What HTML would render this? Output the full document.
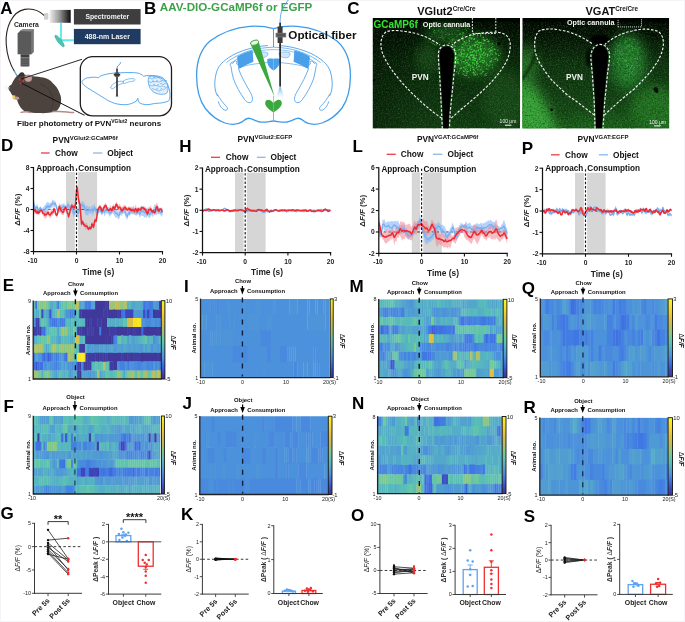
<!DOCTYPE html>
<html><head><meta charset="utf-8"><style>
html,body{margin:0;padding:0;background:#fff;}
body{width:685px;height:622px;overflow:hidden;font-family:"Liberation Sans", sans-serif;}
svg{display:block;will-change:transform;}
</style></head><body>
<svg width="685" height="622" viewBox="0 0 685 622" font-family='"Liberation Sans", sans-serif'>
<defs><linearGradient id="cbar" x1="0" y1="1" x2="0" y2="0">
<stop offset="0" stop-color="rgb(64,52,146)"/>
<stop offset="0.08" stop-color="rgb(62,70,185)"/>
<stop offset="0.15" stop-color="rgb(60,100,222)"/>
<stop offset="0.22" stop-color="rgb(66,126,228)"/>
<stop offset="0.27" stop-color="rgb(76,146,218)"/>
<stop offset="0.33" stop-color="rgb(82,160,208)"/>
<stop offset="0.4" stop-color="rgb(86,184,190)"/>
<stop offset="0.47" stop-color="rgb(98,198,170)"/>
<stop offset="0.55" stop-color="rgb(132,200,135)"/>
<stop offset="0.65" stop-color="rgb(186,190,95)"/>
<stop offset="0.75" stop-color="rgb(226,190,64)"/>
<stop offset="0.87" stop-color="rgb(246,216,44)"/>
<stop offset="1" stop-color="rgb(250,248,26)"/>
</linearGradient><filter id="hblur" filterUnits="userSpaceOnUse" x="0" y="0" width="685" height="622"><feGaussianBlur stdDeviation="0.55 0.2"/></filter></defs>
<rect width="685" height="622" fill="#fff"/>
<rect x="0.5" y="0.5" width="684" height="621" fill="none" stroke="#f5f3f8" stroke-width="1"/>
<path d="M44.4 15.6 C38 9.5 31 8.2 24.5 9.4 C12 11.8 5.2 28 6.2 44 C7 56 11 66 14.8 72" fill="none" stroke="#2b2222" stroke-width="1.1"/>
<path d="M14.3 71 L18 77.5" stroke="#4aaccc" stroke-width="1.3"/>
<defs><linearGradient id="gbox" x1="0" x2="1" y1="0" y2="0"><stop offset="0" stop-color="#eeeeee"/><stop offset="0.45" stop-color="#9a9a9a"/><stop offset="1" stop-color="#0c0c0c"/></linearGradient><linearGradient id="lcone" x1="0" x2="0" y1="0" y2="1"><stop offset="0" stop-color="#3d8de6"/><stop offset="1" stop-color="#d8ecff" stop-opacity="0.2"/></linearGradient></defs>
<rect x="44.1" y="13.1" width="4.2" height="6.5" fill="#cfcfcf" />
<rect x="49.6" y="9.9" width="21.1" height="12.9" fill="url(#gbox)" />
<rect x="73.9" y="9.05" width="66.7" height="15.45" fill="#3e3e3e" />
<rect x="73.9" y="28.9" width="66.7" height="15.3" fill="#1f3b62" />
<text x="107.3" y="19.4" font-size="6.8" font-weight="bold" text-anchor="middle" fill="#f2f2f2" >Spectrometer</text>
<text x="107.3" y="39.1" font-size="7" font-weight="bold" text-anchor="middle" fill="#f2f2f2" >488-nm Laser</text>
<path d="M61 22.8 V40.2 H73.9" fill="none" stroke="#5fe8f2" stroke-width="1.9"/>
<ellipse cx="59.6" cy="41" rx="7.2" ry="1.9" transform="rotate(52 59.6 41)" fill="#4cc6b4" stroke="#2e9a8c" stroke-width="0.5"/>
<text x="26.4" y="27.1" font-size="6.8" font-weight="bold" text-anchor="middle" fill="#2a2424" >Camera</text>
<path d="M20 31 L22.5 29.2 H33.6 V52 L31.5 54.2 H20 Z" fill="#6b6b6b"/>
<path d="M17.6 33.5 L20 31 H31.3 V54.3 H17.6 Z" fill="#5a5a5a"/>
<path d="M20 31 L22.5 29.2 H33.6 L31.3 31.5 Z" fill="#888"/>
<path d="M31.3 31.5 L33.6 29.2 V52 L31.3 54.3 Z" fill="#777"/>
<rect x="20.6" y="54.3" width="8.8" height="3.2" fill="#3e3e3e" />
<rect x="20.6" y="57.5" width="8.8" height="8.9" fill="#555" />
<line x1="20.6" y1="58.6" x2="29.4" y2="58.6" stroke="#777" stroke-width="0.5" />
<line x1="20.6" y1="60.6" x2="29.4" y2="60.6" stroke="#777" stroke-width="0.5" />
<line x1="20.6" y1="62.6" x2="29.4" y2="62.6" stroke="#777" stroke-width="0.5" />
<line x1="20.6" y1="64.6" x2="29.4" y2="64.6" stroke="#777" stroke-width="0.5" />
<rect x="21.5" y="66.2" width="7" height="0.8" fill="#999" />
<path d="M19.7 73.7 C25 74.5 29 75.6 32.9 76.3 C37 76.6 40 77 43.4 77.6 C48 79 51 80.6 52.6 82.9 C56 86 58.2 89 59.1 92 C60.6 95 61.3 97.6 61.1 100 C61 103.5 60.4 106 59.1 107.8 C58 109.8 56.8 111 55.2 111.8 C50 113 45 113.3 39.4 113.1 C34 113 30 112.6 26.3 111.8 C22 110.5 19 106 17.1 100 C15.5 98.5 14.2 97.2 13.1 96 C11.8 94.5 11 93.3 10.5 92 C9.4 90.8 8.6 89.6 8.2 88.3 C8.6 86.5 10 85.5 11.5 84.5 C13.5 80 16 76 19.7 73.7 Z" fill="#4c423e"/>
<path d="M18.8 76.5 C18.6 73.6 20.2 72 22.4 72.2 C24.2 72.4 24.8 74 24.3 76 Z" fill="#3a322f"/>
<ellipse cx="28.2" cy="78.3" rx="3.9" ry="3.7" fill="#b58f8b"/>
<ellipse cx="28.4" cy="78.6" rx="2.6" ry="2.5" fill="#c9a3a0"/>
<path d="M40 84 C47 86 52 92 53 100 C53.5 105 52 108.5 50 110.5" fill="none" stroke="#3e3532" stroke-width="0.9"/>
<path d="M8.3 88.2 C8.8 87.6 9.6 87.6 10 88.2" fill="none" stroke="#c8a8a2" stroke-width="0.9"/>
<path d="M4.6 85 L9.4 87.6 M4.2 87.6 L9.2 88.4 M5 90.4 L9.4 89" stroke="#d8d8d8" stroke-width="0.35"/>
<path d="M12.2 95.2 L15.4 95.4 L15.2 99.4 L12.6 99.2 Z" fill="#f2d065"/>
<ellipse cx="16.8" cy="98.3" rx="2.4" ry="1.7" fill="#c49690"/>
<path d="M53 111.6 C58 111.2 63 111.4 67 111.9 C70 112.3 72 112.5 73.6 112.4" fill="none" stroke="#bb8985" stroke-width="1.5" stroke-linecap="round"/>
<path d="M21 112.3 C24 111.6 28 111.6 31 112.6" fill="none" stroke="#bb8985" stroke-width="1.3" stroke-linecap="round"/>
<circle cx="19.8" cy="79.4" r="1.1" fill="#e83030"/><circle cx="23.2" cy="81.0" r="0.9" fill="#e83030"/><circle cx="20.6" cy="83.3" r="0.9" fill="#e83030"/>
<line x1="20.5" y1="79.2" x2="82" y2="59.3" stroke="#111" stroke-width="0.9" />
<line x1="21.5" y1="83.2" x2="84.5" y2="115.3" stroke="#111" stroke-width="1" />
<rect x="80.3" y="56.7" width="91.2" height="59.2" rx="12.5" fill="#fff" stroke="#1e1e1e" stroke-width="1.3"/>
<path d="M82 81.4 C84 78.6 87 77.4 89.6 77.7 C93 76.8 96 77.2 98.4 77.7 C100 76 102 75.2 104.2 74.8 C108 73.6 112 73.2 115.9 73.1 C122 72.6 128 72.4 133.4 72.6 C137 72.8 139 73.2 140.7 74.1 C142 74.8 143 75.6 143.6 76.3 C145.5 75.7 147.5 75.4 149.5 75.5 C154 75.4 158 75.8 161.1 77 C165 79 167.4 82.5 168.4 86.5 C169.6 90 170.2 93.5 169.9 96.7 C169.8 98.8 169.2 100.2 168.4 101.1 C164 102.8 160 103.2 156.8 103.3 C153 103.6 150.5 104.4 148 104.7 C144 104.6 141 104 139.2 102.6 C138.4 101.4 138 99.8 137.8 98.2 C137.2 99.6 136.8 100.5 136.3 101.1 C133 103.3 130 104.2 126.1 104.7 C122 104.8 118 104.3 114.4 103.3 C110.5 101.8 107 100.2 104.2 98.2 C100 95.5 96 93 92.5 90.9 C89 88.8 86 87 83.8 85 C82.6 83.8 81.8 82.6 82 81.4 Z" fill="none" stroke="#4ea4ee" stroke-width="0.95"/>
<path d="M149 76.5 C155 75.4 162 77.5 166 82 C168.4 86 168.6 90.5 166.6 93.4 C163 95 158 94.6 154 92.4 C151 90.4 149 87 148.4 83 C148 80.5 148.2 78 149 76.5 Z" fill="#e4effb" stroke="#4ea4ee" stroke-width="0.8"/>
<path d="M149 78.5 q1 -1.4 2 0 q1 1.4 2 0 q1 -1.4 2 0 M153 77.6 q1 -1.4 2 0 q1 1.4 2 0 q1 -1.4 2 0 M157.5 78.2 q1 -1.4 2 0 q1 1.4 2 0 q1 -1.4 2 0 M161 80.8 q1 -1.4 2 0 q1 1.4 2 0 q1 -1.4 2 0 M148 82 q1 -1.4 2 0 q1 1.4 2 0 q1 -1.4 2 0 M152 81.4 q1 -1.4 2 0 q1 1.4 2 0 q1 -1.4 2 0 M156 81.6 q1 -1.4 2 0 q1 1.4 2 0 q1 -1.4 2 0 M160 84 q1 -1.4 2 0 q1 1.4 2 0 q1 -1.4 2 0 M163 87 q1 -1.4 2 0 q1 1.4 2 0 q1 -1.4 2 0 M149 85.6 q1 -1.4 2 0 q1 1.4 2 0 q1 -1.4 2 0 M153 85.2 q1 -1.4 2 0 q1 1.4 2 0 q1 -1.4 2 0 M157 86.4 q1 -1.4 2 0 q1 1.4 2 0 q1 -1.4 2 0 M160.5 89.2 q1 -1.4 2 0 q1 1.4 2 0 q1 -1.4 2 0 M152 89.2 q1 -1.4 2 0 q1 1.4 2 0 q1 -1.4 2 0 M156 90.6 q1 -1.4 2 0 q1 1.4 2 0 q1 -1.4 2 0 " fill="none" stroke="#4ea4ee" stroke-width="0.6"/>
<path d="M110.8 87 C112 84 116.5 81.6 121 81.2 C123.5 81 124 82.6 122 83.6 C118.5 84.6 115.5 86.4 113.8 88.2 C112.4 89.4 110.4 88.8 110.8 87 Z" fill="none" stroke="#4ea4ee" stroke-width="0.75"/>
<path d="M123.2 81 C126 79 130.5 78.3 134.2 78.8 C135.6 79.4 135 80.8 133 81.2 C130 81.6 127 82.3 125 83.4 C124 84 122.8 83.6 123.2 82.4 Z" fill="none" stroke="#4ea4ee" stroke-width="0.7"/>
<path d="M113.8 97.8 L117 94 L120.2 97.8 Z" fill="url(#lcone)" opacity="0.8"/>
<line x1="117" y1="68.6" x2="117" y2="96.6" stroke="#1c1c1c" stroke-width="1.5" />
<rect x="114.7" y="72.5" width="4.6" height="4.3" fill="#555" />
<rect x="113.8" y="74" width="6.4" height="1.6" fill="#333" />
<path d="M117 68.6 C117 66 118.5 65.4 119.5 64.6 C120.5 63.6 120.5 62.5 120.3 62" fill="none" stroke="#3a90e0" stroke-width="0.9"/>
<text x="17" y="125.8" font-size="8" font-weight="bold" fill="#111">Fiber photometry of PVN<tspan dy="-3" font-size="5">VGlut2</tspan><tspan dy="3" font-size="8"> neurons</tspan></text>
<text x="159.8" y="11.2" font-size="11.6" font-weight="bold" fill="#3da14b">AAV-DIO-GCaMP6f or EGFP</text>
<g><path d="M273.5 28.6 C266 26.5 258 25.8 250 26.3 C236 27.4 222 32 210 41 C201 49 196.5 62 196.6 76 C196.7 90 200 101 205 108 C210 114.5 218 120.5 225 123 C231 124.8 238 124.6 242.5 121.6 C245 119.5 247 118 249.5 118.3 C253 119 256 121.2 260 122 C264.5 122.6 269 121.4 273.5 121" fill="none" stroke="#3f9be9" stroke-width="1.3"/><path d="M268 45.6 C258 46 246 49 236 53.5 C226 58.5 219 64 216.5 72 C214.5 79 214.3 86 215.5 91 C216.5 94 217 95 217.5 96" fill="none" stroke="#3f9be9" stroke-width="0.85"/><path d="M273.5 47.2 C265 47.4 256 48.8 249 51 C240 54 232 58 226.5 62.5" fill="none" stroke="#3f9be9" stroke-width="0.7"/><path d="M273.5 49.6 C266 49.7 258 50.6 251.5 52.6 C244 55 237 58.5 231 63" fill="none" stroke="#3f9be9" stroke-width="0.6"/><path d="M237.3 56.6 C242 53.8 247.5 51.6 252.6 50.6 L253.4 61.8 C249 63.5 244 66 239.4 68.8 C237.6 65 236.9 60.5 237.3 56.6 Z" fill="#4a9fea"/><path d="M257 53 C260 51.5 265 51.5 268 53 C268.5 55.5 266 57.5 262 57.8 C259 58 256.5 56.5 257 53 Z" fill="#cfe5f9" stroke="#3f9be9" stroke-width="0.5"/><path d="M267.4 59 C270 58.2 272 58.4 273.5 58.8 V70.6 C271.5 69.6 269.5 67.8 268.3 65.6 C267.4 63.6 267 61 267.4 59 Z" fill="#4a9fea"/><path d="M231 66.5 C229 64 230.8 61.8 232.8 63.4 L234.3 61.4 C236 60.3 237.6 62 236.6 64 C238.2 64.6 239.3 66.6 238.6 69 C241 76 245 83 249 90 C252 95 253.6 99 251.6 101.8 C249.6 103.6 246.6 102.5 244.6 99.5 C240 93 236 86 233.5 79 C232.5 75.5 231.6 71 231 66.5 Z" fill="none" stroke="#3f9be9" stroke-width="0.8"/><path d="M238.6 67.5 C245 65.6 252 64.2 258 63.6 C262 63.1 265.5 62.8 267.6 62.4" fill="none" stroke="#3f9be9" stroke-width="0.65"/><path d="M217.2 94 C219.5 98.5 223 103 226.5 106.5 C228.2 108.4 227.6 110.6 225.2 110.2 C222.3 109.6 219.6 105.8 218.2 101.4" fill="none" stroke="#3f9be9" stroke-width="0.8"/><path d="M273.5 28.6 V47" fill="none" stroke="#3f9be9" stroke-width="0.8"/></g>
<g transform="translate(547 0) scale(-1 1)"><path d="M273.5 28.6 C266 26.5 258 25.8 250 26.3 C236 27.4 222 32 210 41 C201 49 196.5 62 196.6 76 C196.7 90 200 101 205 108 C210 114.5 218 120.5 225 123 C231 124.8 238 124.6 242.5 121.6 C245 119.5 247 118 249.5 118.3 C253 119 256 121.2 260 122 C264.5 122.6 269 121.4 273.5 121" fill="none" stroke="#3f9be9" stroke-width="1.3"/><path d="M268 45.6 C258 46 246 49 236 53.5 C226 58.5 219 64 216.5 72 C214.5 79 214.3 86 215.5 91 C216.5 94 217 95 217.5 96" fill="none" stroke="#3f9be9" stroke-width="0.85"/><path d="M273.5 47.2 C265 47.4 256 48.8 249 51 C240 54 232 58 226.5 62.5" fill="none" stroke="#3f9be9" stroke-width="0.7"/><path d="M273.5 49.6 C266 49.7 258 50.6 251.5 52.6 C244 55 237 58.5 231 63" fill="none" stroke="#3f9be9" stroke-width="0.6"/><path d="M237.3 56.6 C242 53.8 247.5 51.6 252.6 50.6 L253.4 61.8 C249 63.5 244 66 239.4 68.8 C237.6 65 236.9 60.5 237.3 56.6 Z" fill="#4a9fea"/><path d="M257 53 C260 51.5 265 51.5 268 53 C268.5 55.5 266 57.5 262 57.8 C259 58 256.5 56.5 257 53 Z" fill="#cfe5f9" stroke="#3f9be9" stroke-width="0.5"/><path d="M267.4 59 C270 58.2 272 58.4 273.5 58.8 V70.6 C271.5 69.6 269.5 67.8 268.3 65.6 C267.4 63.6 267 61 267.4 59 Z" fill="#4a9fea"/><path d="M231 66.5 C229 64 230.8 61.8 232.8 63.4 L234.3 61.4 C236 60.3 237.6 62 236.6 64 C238.2 64.6 239.3 66.6 238.6 69 C241 76 245 83 249 90 C252 95 253.6 99 251.6 101.8 C249.6 103.6 246.6 102.5 244.6 99.5 C240 93 236 86 233.5 79 C232.5 75.5 231.6 71 231 66.5 Z" fill="none" stroke="#3f9be9" stroke-width="0.8"/><path d="M238.6 67.5 C245 65.6 252 64.2 258 63.6 C262 63.1 265.5 62.8 267.6 62.4" fill="none" stroke="#3f9be9" stroke-width="0.65"/><path d="M217.2 94 C219.5 98.5 223 103 226.5 106.5 C228.2 108.4 227.6 110.6 225.2 110.2 C222.3 109.6 219.6 105.8 218.2 101.4" fill="none" stroke="#3f9be9" stroke-width="0.8"/><path d="M273.5 28.6 V47" fill="none" stroke="#3f9be9" stroke-width="0.8"/></g>
<path d="M273.5 96 V122" stroke="#7bbcf2" stroke-width="0.8"/>
<path d="M250.6 44.2 L258.7 41.6 L274.6 97 Z" fill="#3aa83e"/>
<ellipse cx="254.6" cy="42.7" rx="4.3" ry="2.4" transform="rotate(-18 254.6 42.7)" fill="#eaf6ea" stroke="#3aa83e" stroke-width="0.9"/>
<path d="M273.5 103.5 C271 99 265.5 98.5 265.2 103 C265 107 270 110 273.5 112.6 C277 110 282 107 281.8 103 C281.5 98.5 276 99 273.5 103.5 Z" fill="#3aa83e"/>
<path d="M273.5 103 V122" stroke="#6ab4f0" stroke-width="0.8"/>
<path d="M276 97.5 L280.1 85.5 L284.5 97.5 Z" fill="url(#lcone)" opacity="0.85"/>
<path d="M280.1 23 C280.2 16 281 12 283 8 C285 4.5 287 1.8 288.2 0" fill="none" stroke="#4ca2ec" stroke-width="0.9"/>
<line x1="280.1" y1="22.8" x2="280.1" y2="86.5" stroke="#1a1a1a" stroke-width="1.6" />
<rect x="277.6" y="26.5" width="5" height="16.5" fill="#3a3a3a" />
<rect x="275.6" y="32.8" width="10.6" height="4.6" fill="#777" />
<rect x="276.6" y="33.6" width="8.6" height="3" fill="#555" />
<text x="288.3" y="38.9" font-size="11.7" font-weight="bold" text-anchor="start" fill="#111" >Optical fiber</text>
<text x="417.2" y="14.6" font-size="11" font-weight="bold" fill="#111">VGlut2<tspan dy="-4.1" font-size="6.3">Cre/Cre</tspan></text>
<text x="585.5" y="14.6" font-size="11" font-weight="bold" fill="#111">VGAT<tspan dy="-4.1" font-size="6.3">Cre/Cre</tspan></text>
<defs><filter id="bl6" x="-50%" y="-50%" width="200%" height="200%"><feGaussianBlur stdDeviation="6"/></filter><filter id="bl3" x="-50%" y="-50%" width="200%" height="200%"><feGaussianBlur stdDeviation="3"/></filter><filter id="bl1" x="-50%" y="-50%" width="200%" height="200%"><feGaussianBlur stdDeviation="0.9"/></filter><filter id="grain" x="0" y="0" width="1" height="1" filterUnits="objectBoundingBox"><feTurbulence type="fractalNoise" baseFrequency="0.75" numOctaves="2" seed="4"/><feColorMatrix type="matrix" values="0 0 0 0 0.2  0 0 0 0 0.75  0 0 0 0 0.2  3.2 0 0 0 -1.45"/></filter><filter id="grainD" x="0" y="0" width="1" height="1" filterUnits="objectBoundingBox"><feTurbulence type="fractalNoise" baseFrequency="0.6" numOctaves="2" seed="9"/><feColorMatrix type="matrix" values="0 0 0 0 0  0 0 0 0 0.02  0 0 0 0 0  0 3.0 0 0 -1.5"/></filter><linearGradient id="gLv" x1="0" x2="0" y1="0" y2="1"><stop offset="0" stop-color="#010301"/><stop offset="0.15" stop-color="#041004"/><stop offset="0.4" stop-color="#0a240a"/><stop offset="1" stop-color="#123a12"/></linearGradient><linearGradient id="gLh" x1="0" x2="1" y1="0" y2="0"><stop offset="0" stop-color="#000" stop-opacity="0.35"/><stop offset="0.35" stop-color="#000" stop-opacity="0"/></linearGradient><linearGradient id="gRv" x1="0" x2="0" y1="0" y2="1"><stop offset="0" stop-color="#010201"/><stop offset="0.17" stop-color="#041004"/><stop offset="0.4" stop-color="#0e2e0e"/><stop offset="1" stop-color="#184a18"/></linearGradient><clipPath id="clipL"><rect x="372.6" y="17.9" width="147.5" height="110.7"/></clipPath><clipPath id="clipR"><rect x="522.3" y="17.9" width="146.9" height="110.5"/></clipPath></defs>
<g clip-path="url(#clipL)">
<rect x="372.6" y="17.9" width="147.5" height="110.7" fill="url(#gLv)" />
<rect x="372.6" y="17.9" width="147.5" height="110.7" fill="url(#gLh)" />
<ellipse cx="428" cy="58" rx="12" ry="16" fill="#154215" filter="url(#bl6)"/>
<ellipse cx="474" cy="56" rx="26" ry="20" fill="#226e22" filter="url(#bl6)"/>
<ellipse cx="447" cy="33" rx="22" ry="9" fill="#1a501a" filter="url(#bl6)"/>
<ellipse cx="505" cy="100" rx="22" ry="30" fill="#1a501a" opacity="0.7" filter="url(#bl6)"/>
<rect x="372.6" y="22.9" width="147.5" height="105.7" fill="#000" filter="url(#grain)" opacity="0.17"/>
<rect x="372.6" y="17.9" width="147.5" height="110.7" fill="#000" filter="url(#grainD)" opacity="0.5"/>
<path d="M468.38 39.59h0.9v0.9h-0.9zM492.4 46.04h0.9v0.9h-0.9zM485.4 53.57h0.9v0.9h-0.9zM472.96 56.86h1.2v1.2h-1.2zM484.47 54.44h0.9v0.9h-0.9zM481.3 49.46h0.8v0.8h-0.8zM464.73 68.66h1.1v1.1h-1.1zM449.09 58.05h0.9v0.9h-0.9zM471.97 59.53h0.8v0.8h-0.8zM471.23 53.92h1.1v1.1h-1.1zM465.93 61.86h1.1v1.1h-1.1zM472.59 67.37h1v1h-1zM453.89 39.58h0.8v0.8h-0.8zM462.72 48.89h1.1v1.1h-1.1zM464.42 68.29h0.8v0.8h-0.8zM472.83 69.34h1v1h-1zM460.55 56.18h0.9v0.9h-0.9zM471.89 62.09h0.8v0.8h-0.8zM474.11 60.09h1v1h-1zM479.99 42.14h1v1h-1zM468.83 42.9h0.9v0.9h-0.9zM450.64 67.31h0.8v0.8h-0.8zM472.61 59.29h1.3v1.3h-1.3zM452.57 46.46h1v1h-1zM465.74 72.56h0.9v0.9h-0.9zM480.67 56.9h1.1v1.1h-1.1zM486.37 38.82h1.2v1.2h-1.2zM467.64 50.02h1v1h-1zM491.24 47.12h1.1v1.1h-1.1zM472.64 59.76h1.1v1.1h-1.1zM476.87 73.85h0.9v0.9h-0.9zM470.75 55.01h1.2v1.2h-1.2zM448.49 57.32h1.2v1.2h-1.2zM482.69 38.84h1v1h-1zM457.19 61.31h1.3v1.3h-1.3zM477.21 44.05h1v1h-1zM482.53 42.9h1.1v1.1h-1.1zM478.21 41.9h1.1v1.1h-1.1zM461.62 61.24h0.8v0.8h-0.8zM473.93 70.02h0.8v0.8h-0.8zM498.28 54.74h1.2v1.2h-1.2zM467.5 59.4h1.2v1.2h-1.2zM476.19 57.56h0.9v0.9h-0.9zM461.17 53.82h1.1v1.1h-1.1zM485.94 74.89h0.9v0.9h-0.9zM471.61 52.17h0.9v0.9h-0.9zM450.71 57.58h1.3v1.3h-1.3zM466.76 72.85h1v1h-1zM469.76 34.05h0.9v0.9h-0.9zM476.73 60.86h1.2v1.2h-1.2zM469.76 36.66h0.8v0.8h-0.8zM487.95 49.49h0.8v0.8h-0.8zM479.07 58.95h1v1h-1zM487.39 54.59h1.1v1.1h-1.1zM474.99 71.54h1v1h-1zM466.04 74.89h1v1h-1zM462.03 36.3h1v1h-1zM466.35 41.71h1.1v1.1h-1.1zM484.31 60.92h0.9v0.9h-0.9zM486.24 68.4h1.2v1.2h-1.2zM459.85 39.28h0.8v0.8h-0.8zM473.52 63.01h0.8v0.8h-0.8zM469.98 53.57h0.8v0.8h-0.8zM472.2 66.6h1.1v1.1h-1.1zM471.82 54.17h1.1v1.1h-1.1zM469.62 47.08h1.1v1.1h-1.1zM492.12 67.29h1v1h-1zM462.29 55.88h0.9v0.9h-0.9zM489.61 64.67h0.8v0.8h-0.8zM478.96 65.76h1.1v1.1h-1.1zM492.24 51.42h0.9v0.9h-0.9zM487.08 54.08h1v1h-1zM489.2 50.95h1.2v1.2h-1.2zM470.08 65.3h0.8v0.8h-0.8zM446.73 57.29h1.2v1.2h-1.2zM460.47 60.28h0.8v0.8h-0.8zM461.71 34.25h0.9v0.9h-0.9zM475.04 44.59h1.2v1.2h-1.2zM479.34 47.17h1.2v1.2h-1.2zM489.02 48.18h0.9v0.9h-0.9zM448.47 42.79h1.2v1.2h-1.2zM495.58 58.8h0.8v0.8h-0.8zM470.77 55.2h1.1v1.1h-1.1zM490.13 60.88h0.9v0.9h-0.9zM477.11 34.3h1v1h-1zM476.45 41.38h0.9v0.9h-0.9zM459.33 55.43h0.9v0.9h-0.9zM469 56.24h1.1v1.1h-1.1zM453.92 51.53h1.1v1.1h-1.1zM489.72 54.43h0.8v0.8h-0.8zM454.51 52h1v1h-1zM483.33 57.52h1.1v1.1h-1.1zM480.38 69.09h1.1v1.1h-1.1zM479.97 45.75h1.2v1.2h-1.2zM491.82 50.29h0.8v0.8h-0.8zM469.93 58.96h0.8v0.8h-0.8zM453.03 62.08h0.9v0.9h-0.9zM451.76 65.89h1v1h-1zM455.72 59.44h1.2v1.2h-1.2zM470.76 37.57h1.1v1.1h-1.1zM458.01 72.68h1.1v1.1h-1.1zM474.7 51.04h1.1v1.1h-1.1zM482.55 60.08h1v1h-1zM482.09 53.64h0.9v0.9h-0.9zM495.88 43.39h0.9v0.9h-0.9zM491 60.28h1.1v1.1h-1.1zM494.46 58.81h1.2v1.2h-1.2zM484.64 39.82h1.2v1.2h-1.2zM459.23 33.71h1.2v1.2h-1.2zM495.08 52.55h1v1h-1zM474.9 41.64h1.1v1.1h-1.1zM475.73 54.74h1.3v1.3h-1.3zM468.28 77.17h1.1v1.1h-1.1zM465.11 66.48h0.8v0.8h-0.8zM482.51 70.77h1.3v1.3h-1.3zM453.73 42.85h1v1h-1zM495.12 52.9h1.2v1.2h-1.2zM490.93 58.2h0.9v0.9h-0.9zM495.84 53.73h1v1h-1zM482.58 61.94h1.2v1.2h-1.2zM465.55 56.16h1v1h-1zM469.95 54.82h1.3v1.3h-1.3zM461.15 54.26h0.9v0.9h-0.9zM452.93 52.52h1v1h-1zM482.61 36.64h1.3v1.3h-1.3zM463.08 56.31h1.1v1.1h-1.1zM491.95 64.14h0.9v0.9h-0.9zM469.56 46.96h1.2v1.2h-1.2zM463.95 53.38h1.2v1.2h-1.2zM467.39 71.01h1.1v1.1h-1.1zM444.86 57.62h1.1v1.1h-1.1zM483.84 51.5h1v1h-1zM476.74 35.34h1v1h-1zM474.02 64.15h1v1h-1zM481.43 60.53h1v1h-1zM479.42 52.55h0.9v0.9h-0.9zM468.54 48.36h0.8v0.8h-0.8zM480.73 73.24h1.2v1.2h-1.2zM479.15 56.95h0.8v0.8h-0.8zM473.68 57.85h1.3v1.3h-1.3zM488.35 65.31h1.1v1.1h-1.1zM463.28 53.18h1.2v1.2h-1.2zM466.38 68.26h0.8v0.8h-0.8zM486.71 41.05h1v1h-1zM490.29 52.73h1.1v1.1h-1.1zM465.89 39.71h0.9v0.9h-0.9zM474.21 57.44h1.1v1.1h-1.1zM472.25 34.73h1.2v1.2h-1.2zM473.22 54.96h1.2v1.2h-1.2zM483.44 54.63h1.1v1.1h-1.1zM486.3 64.79h1v1h-1zM476.04 64.98h0.9v0.9h-0.9zM466.94 62.39h1.2v1.2h-1.2zM472.22 54.62h1v1h-1zM474.06 45.01h1.2v1.2h-1.2zM460.92 49.59h1.2v1.2h-1.2zM477.47 58.87h1v1h-1zM456.46 61.71h1v1h-1zM489.4 61.22h1.2v1.2h-1.2zM469.92 65.49h0.9v0.9h-0.9zM464.32 74.91h1.2v1.2h-1.2zM474.7 57.87h1.2v1.2h-1.2zM460.8 62.49h0.8v0.8h-0.8zM466.25 70.62h1.1v1.1h-1.1zM482.22 60.32h0.8v0.8h-0.8zM464.93 59.76h1.2v1.2h-1.2zM472.26 45.04h0.9v0.9h-0.9zM446.21 60.6h1.3v1.3h-1.3zM463.38 34.64h1v1h-1zM459.78 54.89h0.8v0.8h-0.8zM491.88 53.82h0.9v0.9h-0.9zM491.37 49.77h1v1h-1zM458.88 70.62h1v1h-1zM473.31 55.88h1.2v1.2h-1.2zM476.5 43.64h1.2v1.2h-1.2zM462.48 39.48h1v1h-1zM467.02 53.49h1.2v1.2h-1.2zM476.18 67.17h1.2v1.2h-1.2zM463.8 41.11h1.2v1.2h-1.2zM476.53 37.14h0.9v0.9h-0.9zM475.74 52.53h1.1v1.1h-1.1zM477.73 49.95h1.2v1.2h-1.2zM480.48 44.6h1.1v1.1h-1.1zM497.23 58.74h1.1v1.1h-1.1zM497.31 49.38h1.1v1.1h-1.1zM493.7 48.54h1.1v1.1h-1.1zM486.14 62.31h0.9v0.9h-0.9zM458.03 49.5h1v1h-1zM473.3 54.51h1.2v1.2h-1.2zM469.67 51.84h1.2v1.2h-1.2zM457.39 62.69h1.3v1.3h-1.3zM451.89 62.49h0.9v0.9h-0.9zM462.55 38.43h1.1v1.1h-1.1zM470.63 55.46h0.8v0.8h-0.8zM462.15 46.72h1.1v1.1h-1.1zM468.04 64.38h1v1h-1zM453.48 44.6h1.2v1.2h-1.2zM451.15 41.39h1v1h-1zM458.28 54.57h1v1h-1zM452.22 49.23h0.9v0.9h-0.9zM462 58.38h0.9v0.9h-0.9zM484.72 54.96h0.9v0.9h-0.9zM485.08 53.51h0.8v0.8h-0.8zM459.17 48.73h1.1v1.1h-1.1zM479.46 54.09h1.2v1.2h-1.2zM483.55 39.48h1.3v1.3h-1.3zM451.75 66.81h0.9v0.9h-0.9zM480.16 49.46h0.9v0.9h-0.9zM473.42 58.06h0.9v0.9h-0.9zM460.12 67.55h0.8v0.8h-0.8zM473.7 49.86h1.2v1.2h-1.2zM466.02 65.71h0.8v0.8h-0.8zM477.01 40.52h1v1h-1zM453.83 68.63h1v1h-1zM444.37 47.99h0.9v0.9h-0.9zM460.85 46.59h0.8v0.8h-0.8zM477.4 44.21h0.8v0.8h-0.8zM482.86 52.29h1.2v1.2h-1.2zM469.25 57.98h1.2v1.2h-1.2zM459.74 68.38h0.9v0.9h-0.9zM466.97 68.9h0.9v0.9h-0.9zM476.09 62.35h1.2v1.2h-1.2zM455.98 71.24h0.9v0.9h-0.9zM470.1 67.74h1v1h-1zM467.66 64.39h1.3v1.3h-1.3zM457.26 58.74h1.2v1.2h-1.2zM489.71 49.62h0.9v0.9h-0.9zM500 53.19h0.8v0.8h-0.8zM476.38 55.25h0.8v0.8h-0.8zM468.4 56.93h1v1h-1zM473.25 35.38h1.1v1.1h-1.1zM468.75 40.71h1.2v1.2h-1.2zM487.13 55.68h1v1h-1zM476.2 41.21h1.2v1.2h-1.2zM487.16 54.61h1.2v1.2h-1.2zM484.97 49.23h0.8v0.8h-0.8zM462.39 43.89h1.1v1.1h-1.1zM483.83 47.98h0.9v0.9h-0.9zM480.2 48.11h1.3v1.3h-1.3zM479.52 54.67h1v1h-1zM477.55 63.01h0.9v0.9h-0.9zM480.8 41.75h1.1v1.1h-1.1zM464.47 42.39h1v1h-1zM485.12 34.5h0.8v0.8h-0.8zM472.51 71.87h1.2v1.2h-1.2zM458.82 54.04h0.8v0.8h-0.8zM456.55 56.47h1v1h-1zM472.16 62.86h1v1h-1zM469.71 54.73h1v1h-1zM465.19 44.28h0.9v0.9h-0.9zM479.98 32.9h1.2v1.2h-1.2zM468.27 56.48h1.1v1.1h-1.1zM477.41 40.51h0.9v0.9h-0.9zM477.34 69.1h0.9v0.9h-0.9zM488 40.39h1.2v1.2h-1.2zM477.17 63.25h1v1h-1zM488.18 41.05h1.2v1.2h-1.2zM470.65 38.69h1.1v1.1h-1.1zM491.64 43.22h1.3v1.3h-1.3zM451.49 56.02h1.1v1.1h-1.1zM454.9 56.59h1.2v1.2h-1.2zM481.33 50.75h0.8v0.8h-0.8zM487.03 53.66h1v1h-1zM456.32 59.65h0.9v0.9h-0.9zM486.94 64.07h0.8v0.8h-0.8zM462.83 70.48h1.2v1.2h-1.2zM495.57 57.5h1v1h-1zM476.13 50.43h1.3v1.3h-1.3zM469.79 69.66h1.1v1.1h-1.1zM473.47 61.7h1v1h-1zM474.55 45.97h0.9v0.9h-0.9zM462.03 43.96h0.9v0.9h-0.9zM467.62 48.13h1.3v1.3h-1.3zM462.54 73.6h1.1v1.1h-1.1zM468.54 63.44h1v1h-1zM471.66 51.3h1.1v1.1h-1.1zM479.78 55.81h1.2v1.2h-1.2zM463.91 70.82h1v1h-1zM447.37 54.2h0.8v0.8h-0.8zM455.31 63.33h0.8v0.8h-0.8zM445.4 50.56h0.9v0.9h-0.9zM475.93 61.27h0.9v0.9h-0.9zM464.64 63.31h1v1h-1zM460.66 67.77h1.2v1.2h-1.2zM471.05 48.82h1.2v1.2h-1.2zM446.88 47.98h1.2v1.2h-1.2zM480.32 36.32h0.8v0.8h-0.8zM497.09 60.02h1.1v1.1h-1.1zM483.7 42.81h0.9v0.9h-0.9zM454.19 48.3h1.2v1.2h-1.2zM480.01 34.36h1.3v1.3h-1.3zM460.42 51.87h1.1v1.1h-1.1zM469.4 45.52h1.2v1.2h-1.2zM481.8 61.67h0.9v0.9h-0.9zM483.94 60.33h1.2v1.2h-1.2zM476.85 46.39h1.3v1.3h-1.3zM485.49 73h1v1h-1zM463.24 61.06h1.3v1.3h-1.3zM494.58 48.99h1.1v1.1h-1.1zM461.25 46.59h0.9v0.9h-0.9zM455.22 50.28h1.1v1.1h-1.1zM478.26 65.68h1v1h-1zM483.49 40.11h1.3v1.3h-1.3zM462.13 38.26h0.8v0.8h-0.8zM470.48 46.41h0.9v0.9h-0.9zM473.44 74.24h1v1h-1zM469.44 57.53h1.2v1.2h-1.2zM448.02 57.48h0.8v0.8h-0.8zM468.58 37.18h1.3v1.3h-1.3zM446.38 57.95h0.9v0.9h-0.9zM468.11 56.47h1.1v1.1h-1.1zM466.51 54.22h1.2v1.2h-1.2zM473.45 68.97h1v1h-1zM466.11 55.79h1.1v1.1h-1.1zM473.25 69.05h1.1v1.1h-1.1zM480.65 50.14h1.1v1.1h-1.1zM466.95 54.38h1v1h-1zM471.92 37.39h1v1h-1zM461 53.78h1.1v1.1h-1.1zM463.51 50.05h1.2v1.2h-1.2zM478.84 42.3h1.2v1.2h-1.2zM463.02 66.68h1.2v1.2h-1.2zM469.12 37.42h1.1v1.1h-1.1zM484.4 74.3h1.3v1.3h-1.3zM478.13 49.33h1.1v1.1h-1.1zM473.78 38.1h1.3v1.3h-1.3zM473.52 72.57h1.1v1.1h-1.1zM479.87 61.33h1v1h-1zM481.91 71.84h0.9v0.9h-0.9zM461.34 53.03h1.2v1.2h-1.2zM489.51 43.4h0.9v0.9h-0.9zM472.64 50.91h1v1h-1zM451.49 62.61h1.3v1.3h-1.3zM462.6 32.28h0.9v0.9h-0.9zM460.59 54.16h1.3v1.3h-1.3zM474.67 74.31h1.2v1.2h-1.2zM475.32 74.42h0.9v0.9h-0.9zM473.23 38.92h1.2v1.2h-1.2zM479.26 58.16h1.1v1.1h-1.1zM470.68 48.76h1.2v1.2h-1.2zM491.97 64.41h0.8v0.8h-0.8zM462.42 47.4h0.9v0.9h-0.9zM471.87 56.89h1v1h-1zM466.71 45.25h0.9v0.9h-0.9zM454.54 45.94h1.1v1.1h-1.1zM473.84 44.25h0.9v0.9h-0.9zM455 58.12h1.2v1.2h-1.2zM463.6 45.18h0.8v0.8h-0.8zM475.21 59.51h0.9v0.9h-0.9zM482.92 53.11h0.9v0.9h-0.9zM481.65 54.29h1.2v1.2h-1.2zM473.79 44.84h0.9v0.9h-0.9zM453.2 58.42h1.3v1.3h-1.3zM455.74 62.43h1v1h-1zM453.92 61.71h1.2v1.2h-1.2zM451.94 39.6h1.1v1.1h-1.1zM469.05 64.33h0.8v0.8h-0.8zM490.19 49.93h1.3v1.3h-1.3zM450.78 54.53h1.2v1.2h-1.2zM449.55 67.64h1.2v1.2h-1.2z" fill="#4cf04c" fill-opacity="0.75"/>
<path d="M448.83 38.53h0.9v0.9h-0.9zM435.88 35.69h0.7v0.7h-0.7zM455.42 33.97h0.9v0.9h-0.9zM455.6 38.74h0.8v0.8h-0.8zM431.75 40.31h0.9v0.9h-0.9zM469.22 39.74h0.9v0.9h-0.9zM444.93 28.7h0.8v0.8h-0.8zM441.07 30.31h0.8v0.8h-0.8zM458.83 41.5h1v1h-1zM459.37 26.44h0.8v0.8h-0.8zM442.87 38.71h0.8v0.8h-0.8zM449.34 34.15h0.9v0.9h-0.9zM453.59 25.37h0.8v0.8h-0.8zM465.7 25.86h0.8v0.8h-0.8zM441.27 35.19h0.8v0.8h-0.8zM442.04 37.48h1v1h-1zM436 44.22h1v1h-1zM457.1 35.45h0.7v0.7h-0.7zM433.42 31.81h0.9v0.9h-0.9zM445.37 26.52h0.8v0.8h-0.8zM469.09 39.99h0.9v0.9h-0.9zM434.11 44.01h1.1v1.1h-1.1zM465.2 42.68h1.1v1.1h-1.1zM450.13 40.6h0.8v0.8h-0.8zM430.81 26.39h0.9v0.9h-0.9zM430.25 36.24h0.8v0.8h-0.8zM439.81 36.92h1.1v1.1h-1.1zM443.84 40.21h0.8v0.8h-0.8zM456.17 36.17h0.8v0.8h-0.8zM438.43 36.91h0.9v0.9h-0.9zM432.41 43.04h1.1v1.1h-1.1zM448.46 25.33h1v1h-1zM450.77 39.16h0.9v0.9h-0.9zM430.83 42.06h0.9v0.9h-0.9zM430.28 26.27h0.9v0.9h-0.9zM462.68 33.32h0.7v0.7h-0.7zM433.24 31.16h0.8v0.8h-0.8zM458.57 27.7h0.8v0.8h-0.8zM466.03 30.07h0.9v0.9h-0.9zM457.39 30.36h1v1h-1zM467.65 27.89h1.1v1.1h-1.1zM433.95 29.84h1.1v1.1h-1.1zM451.2 26.58h0.8v0.8h-0.8zM462.78 32.23h1v1h-1zM434.52 32.03h0.7v0.7h-0.7zM431.41 36.17h0.8v0.8h-0.8zM452.47 38.35h1v1h-1zM430.08 26.57h0.9v0.9h-0.9zM448.63 25.72h0.7v0.7h-0.7zM438.11 30.33h0.9v0.9h-0.9zM459.77 32.93h1.1v1.1h-1.1zM448.36 34.24h1v1h-1zM451.95 33.44h1.1v1.1h-1.1zM469.17 34.44h0.9v0.9h-0.9zM457.94 25.91h0.8v0.8h-0.8zM441.45 31.4h0.8v0.8h-0.8zM445.56 33.96h1v1h-1zM436.99 38.95h0.8v0.8h-0.8zM465.21 27.85h1v1h-1zM462.71 42.41h1.1v1.1h-1.1z" fill="#44dd44" fill-opacity="0.55"/>
<circle cx="499" cy="43.5" r="1.8" fill="#020802"/>
<circle cx="374" cy="80" r="1.2" fill="#020802"/>
<path d="M443.4 128.6 L442.8 112 L441.4 83 C440.8 70 439.6 60 440 53 C441 48.5 443.5 46.5 446.6 46.5 C450 46.5 453 49 454 53.5 C454.6 60 452.6 70 451.8 83 L449 112 L448.5 128.6 Z" fill="#000"/>
</g>
<path d="M442.3 128.6 L441.6 112.3 L440.1 83.4 C439.5 70 438 60 438.6 52 C440 47 443 45 446.6 45 C450.5 45 454.5 48 455.6 53 C456.4 60 454 70 453.1 83.4 L450.2 112.3 L449.5 128.6" fill="none" stroke="#f0f0f0" stroke-width="1.15" stroke-dasharray="2.6 1.6"/>
<path d="M441.6 118.2 C430 110 415 98 398.3 78.3 C390 68 384.5 60 381.5 50 C380 42 381.5 35 386 32 C392 29 405 31 416 33.5 C425 36 433 40 440 45" fill="none" stroke="#f0f0f0" stroke-width="1.15" stroke-dasharray="2.6 1.6"/>
<path d="M451.3 118.2 C460 110 470 102 477.1 95.8 C488 86 498 76 505 64 C509 57 511 49 510 42 C508.5 35 503 32.5 497 32.3 C488 32 478 32.8 468 36 C461 38.5 456 41.5 452 45" fill="none" stroke="#f0f0f0" stroke-width="1.15" stroke-dasharray="2.6 1.6"/>
<path d="M472.4 17.9 V33.4 H495.8 V17.9" fill="none" stroke="#eee" stroke-width="1" stroke-dasharray="1.8 1.3"/>
<text x="373.4" y="28.1" font-size="10" font-weight="bold" text-anchor="start" fill="#33e433" >GCaMP6f</text>
<text x="422.8" y="27.3" font-size="7.2" font-weight="bold" text-anchor="start" fill="#f4f4f4" >Optic cannula</text>
<text x="420.2" y="79.6" font-size="8.2" font-weight="bold" text-anchor="middle" fill="#f4f4f4" >PVN</text>
<text x="508" y="123" font-size="5" text-anchor="middle" fill="#eee" >100 &#956;m</text>
<line x1="505" y1="125.2" x2="511.5" y2="125.2" stroke="#fff" stroke-width="1" />
<g clip-path="url(#clipR)">
<rect x="522.3" y="17.9" width="146.9" height="110.5" fill="url(#gRv)" />
<path d="M515 70 C528 74 538 90 548 108 C552 116 556 124 560 135 L515 135 Z" fill="#37a137" filter="url(#bl6)"/>
<ellipse cx="628" cy="62" rx="18" ry="28" fill="#24762a" filter="url(#bl6)"/>
<ellipse cx="527" cy="66" rx="9" ry="20" fill="#256e25" filter="url(#bl6)"/>
<ellipse cx="655" cy="110" rx="25" ry="25" fill="#267a26" opacity="0.8" filter="url(#bl6)"/>
<ellipse cx="600" cy="125" rx="40" ry="10" fill="#1f661f" opacity="0.7" filter="url(#bl6)"/>
<rect x="522.3" y="22.9" width="146.9" height="105.5" fill="#000" filter="url(#grain)" opacity="0.2"/>
<rect x="522.3" y="17.9" width="146.9" height="110.5" fill="#000" filter="url(#grainD)" opacity="0.5"/>
<path d="M640.52 59.7h0.8v0.8h-0.8zM613.04 63.04h1.1v1.1h-1.1zM622.13 57.84h1.1v1.1h-1.1zM635.68 64.95h0.8v0.8h-0.8zM621.49 54.65h0.7v0.7h-0.7zM629.7 59.44h1.1v1.1h-1.1zM629.14 68.9h1v1h-1zM620.27 39.7h0.8v0.8h-0.8zM626.48 53.79h0.9v0.9h-0.9zM629.04 70.7h0.9v0.9h-0.9zM618.26 70.54h0.8v0.8h-0.8zM629.15 73.51h1v1h-1zM631.86 46.11h0.7v0.7h-0.7zM617.08 61.99h1.1v1.1h-1.1zM625.64 56.74h0.9v0.9h-0.9zM627.41 45.41h1v1h-1zM629.19 45.05h0.7v0.7h-0.7zM624.6 59.59h0.7v0.7h-0.7zM623.69 79.18h0.8v0.8h-0.8zM618.06 59.86h0.8v0.8h-0.8zM624.01 41.94h0.9v0.9h-0.9zM629.66 38.32h0.9v0.9h-0.9zM623.76 59.41h0.8v0.8h-0.8zM635.78 46.4h0.8v0.8h-0.8zM634.97 56.24h0.8v0.8h-0.8zM638.77 47.34h0.9v0.9h-0.9zM632.2 71.01h1v1h-1zM627.43 70.42h1.1v1.1h-1.1zM621.89 75.87h1v1h-1zM618.31 44.85h0.9v0.9h-0.9zM642.53 66.88h0.9v0.9h-0.9zM626.16 60.84h0.8v0.8h-0.8zM628.5 75.93h1v1h-1zM622.54 53.47h1.1v1.1h-1.1zM637.27 49.54h1.1v1.1h-1.1zM619.26 52.84h1.1v1.1h-1.1zM617.6 46.06h0.8v0.8h-0.8zM627.41 64.77h1v1h-1zM618.72 64.35h0.8v0.8h-0.8zM627.38 43.39h0.7v0.7h-0.7zM620.43 50.91h1.1v1.1h-1.1zM642.92 67.61h0.7v0.7h-0.7zM622.08 36.04h1v1h-1zM639.44 57.7h1v1h-1zM633.11 68.36h1.1v1.1h-1.1zM622.8 61.79h0.9v0.9h-0.9zM630.25 58.7h0.9v0.9h-0.9zM630.51 61.6h0.9v0.9h-0.9zM624.45 48.13h0.7v0.7h-0.7zM614.64 54.61h1v1h-1zM632.45 53.92h0.8v0.8h-0.8zM637.88 54.23h0.8v0.8h-0.8zM638.91 64.72h1v1h-1zM628.56 44.97h0.8v0.8h-0.8zM633.94 48.34h1v1h-1zM626.17 69.26h0.8v0.8h-0.8zM629.99 67.12h1.1v1.1h-1.1zM624.32 60.69h0.8v0.8h-0.8zM627.97 62.65h1v1h-1zM631.98 47.63h1v1h-1zM625.71 40.19h1v1h-1zM633.14 38.76h0.9v0.9h-0.9zM618.27 55.03h0.7v0.7h-0.7zM617.39 49.17h0.8v0.8h-0.8zM617.4 49.49h0.9v0.9h-0.9zM613.77 48.77h0.8v0.8h-0.8zM631.08 72.15h1.1v1.1h-1.1zM623.21 53.15h0.8v0.8h-0.8zM634.64 61.34h0.8v0.8h-0.8zM627.37 37.94h0.9v0.9h-0.9zM625.5 64.11h1.1v1.1h-1.1zM616.03 42.93h0.9v0.9h-0.9zM634.27 67.26h0.7v0.7h-0.7zM631.13 45.86h0.8v0.8h-0.8zM615.12 47.92h0.9v0.9h-0.9zM636.96 58.93h1v1h-1zM619.61 58.12h0.8v0.8h-0.8zM632.06 74.29h0.8v0.8h-0.8zM640.8 72.35h1v1h-1zM632.31 64.5h1v1h-1zM636.94 43.32h1v1h-1zM631.6 64.99h1v1h-1zM618.78 50.54h1v1h-1zM615.04 50.97h0.8v0.8h-0.8zM614.88 42.68h0.7v0.7h-0.7zM621.49 68.82h1v1h-1zM634.12 39.24h1v1h-1zM619.97 53.38h0.8v0.8h-0.8zM627.63 50.7h1v1h-1zM627.47 46.16h0.8v0.8h-0.8zM621.86 60.96h0.8v0.8h-0.8zM635.06 57.99h1v1h-1zM637.75 51h0.7v0.7h-0.7zM613.5 64.64h0.7v0.7h-0.7zM617.18 58.46h1v1h-1zM629.65 50.25h1v1h-1zM614.97 51.66h0.8v0.8h-0.8zM626.58 65.79h1.1v1.1h-1.1zM639.39 56.74h0.8v0.8h-0.8zM625.11 59.82h1v1h-1zM632.4 74.77h1v1h-1zM612.94 54.11h0.7v0.7h-0.7zM636.24 62.55h0.9v0.9h-0.9zM631.01 65.55h1.1v1.1h-1.1zM637.42 52.64h0.9v0.9h-0.9zM626.23 79.37h0.9v0.9h-0.9zM618.57 57.48h1v1h-1zM629.07 38.69h1.1v1.1h-1.1zM632.3 50.12h0.9v0.9h-0.9zM616.77 50.68h1v1h-1zM637.43 42.7h0.7v0.7h-0.7zM634.05 67.08h0.8v0.8h-0.8zM631.43 58.43h1v1h-1zM629.62 68.14h0.8v0.8h-0.8zM619.46 42.73h0.8v0.8h-0.8zM636.64 58.75h0.9v0.9h-0.9zM625.38 40.59h0.8v0.8h-0.8zM625.55 74.77h1v1h-1zM626.12 59.91h1v1h-1zM639.89 65.87h0.8v0.8h-0.8z" fill="#50e050" fill-opacity="0.55"/>
<path d="M522.6 79 C526 74 530 68 533 61 C535 56 536.5 52 537.6 49.5" fill="none" stroke="#051205" stroke-width="1.8" filter="url(#bl1)"/>
<ellipse cx="656" cy="90" rx="2" ry="3" fill="#061006" transform="rotate(-30 656 90)"/>
<circle cx="551.6" cy="109.8" r="1.4" fill="#020602"/>
<path d="M596 128.4 L595.2 102 L593.8 78 C593 68 592 60 592.4 54.5 C593.5 49 596.5 46 600.3 46 C604 46 607 49 608 54.5 C608.4 60 606.8 68 606 78 L603.6 102 L602 128.4 Z" fill="#000"/>
<ellipse cx="600" cy="40" rx="10" ry="5.5" fill="#000" filter="url(#bl1)"/>
<ellipse cx="588.6" cy="58" rx="2.4" ry="10" fill="#030803" filter="url(#bl1)"/>
</g>
<path d="M595 128.4 L594.2 102.2 L592.6 78.2 C592 68 590.5 60 591 54 C592.5 47.5 596 44.4 600.3 44.4 C604.5 44.4 608.5 47.5 609.5 54.1 C610 60 608 68 607.1 78.2 L604.7 102.2 L603 128.4" fill="none" stroke="#f0f0f0" stroke-width="1.15" stroke-dasharray="2.6 1.6"/>
<path d="M594.4 115.1 C585 108 575 100 568.2 95.8 C560 88 553 82 548.5 76.1 C541 66 536 58 535 50 C534 42 535 36 538.6 31.2 C544 28.5 552 28.4 560 30 C572 32 583 37 593 44.4" fill="none" stroke="#f0f0f0" stroke-width="1.15" stroke-dasharray="2.6 1.6"/>
<path d="M604.3 115.1 C612 108 620 100 633.9 89.3 C643 80 650 73 653.6 67.4 C659 60 663 52 663.4 44 C663.5 36 660 31.5 655.8 30.6 C648 28.5 640 28.6 632 31 C622 33 612 38 605 44.4" fill="none" stroke="#f0f0f0" stroke-width="1.15" stroke-dasharray="2.6 1.6"/>
<path d="M618.1 26.9 V18.9 M618.1 26.9 H641.5 V18.9" fill="none" stroke="#eee" stroke-width="0.9" stroke-dasharray="1 1"/>
<text x="567" y="25.2" font-size="7.2" font-weight="bold" text-anchor="start" fill="#f4f4f4" >Optic cannula</text>
<text x="574.5" y="79.6" font-size="8.2" font-weight="bold" text-anchor="middle" fill="#f4f4f4" >PVN</text>
<text x="657.6" y="123.6" font-size="5" text-anchor="middle" fill="#eee" >100 &#956;m</text>
<line x1="654" y1="125.9" x2="660.6" y2="125.9" stroke="#fff" stroke-width="1" />
<rect x="66.01" y="172.1" width="8.89" height="79.4" fill="#d6d6d6" />
<rect x="78.1" y="172.1" width="19" height="79.4" fill="#d6d6d6" />
<line x1="33.5" y1="209.5" x2="162.5" y2="209.5" stroke="#222" stroke-width="0.9" stroke-dasharray="2.6 2.2" />
<clipPath id="cD"><rect x="33.5" y="163.5" width="131" height="88"/></clipPath>
<g clip-path="url(#cD)">
<polygon points="33.5,198.75 34.04,200.75 34.58,201.96 35.12,205.94 35.66,206 36.2,205.26 36.74,204.52 37.28,203.87 37.82,207.17 38.36,206.73 38.9,208.72 39.44,206.74 39.98,206.9 40.52,206.01 41.06,208.07 41.6,208.63 42.14,208.71 42.68,207.57 43.22,207.28 43.76,206.89 44.29,205.43 44.83,205.46 45.37,204.5 45.91,204.01 46.45,202.26 46.99,202.99 47.53,201.52 48.07,202.29 48.61,202.02 49.15,203.81 49.69,202.78 50.23,202.96 50.77,202.24 51.31,202.51 51.85,201.27 52.39,199.39 52.93,199.83 53.47,199.89 54.01,200.54 54.55,201.32 55.09,200.36 55.63,202.18 56.17,202.8 56.71,206 57.25,207.71 57.79,206.51 58.33,206.25 58.87,205.12 59.41,204.67 59.95,205.25 60.49,204.65 61.03,205.12 61.57,203.57 62.11,203.79 62.65,204.8 63.19,203.34 63.73,203.45 64.27,203.23 64.81,204.55 65.35,205.55 65.88,205.59 66.42,205.66 66.96,203.9 67.5,201.72 68.04,201.33 68.58,202.32 69.12,204.1 69.66,204.5 70.2,204.74 70.74,205.28 71.28,203.97 71.82,204.63 72.36,204.28 72.9,207.25 73.44,208.94 73.98,210.22 74.52,210.24 75.06,208.02 75.6,208.08 76.14,206.94 76.68,206.82 77.22,207.73 77.76,208.79 78.3,209.28 78.84,206.83 79.38,207.07 79.92,204.26 80.46,203.32 81,201.3 81.54,202.19 82.08,201.03 82.62,201.35 83.16,201.19 83.7,203.07 84.24,202.83 84.78,203.56 85.32,205.26 85.86,206.03 86.4,206.12 86.94,205.36 87.47,205.56 88.01,205.69 88.55,206.72 89.09,206.19 89.63,206.75 90.17,207.21 90.71,207.17 91.25,206.8 91.79,205.49 92.33,204.48 92.87,206.42 93.41,204.68 93.95,205.77 94.49,203.53 95.03,205.31 95.57,207.1 96.11,208.38 96.65,207.32 97.19,207.87 97.73,209.85 98.27,210.35 98.81,209.99 99.35,206.62 99.89,207.51 100.43,206.67 100.97,209.26 101.51,210.23 102.05,210.65 102.59,208.78 103.13,207.49 103.67,206.99 104.21,208.33 104.75,207.7 105.29,206.77 105.83,206.14 106.37,207.21 106.91,207.26 107.45,207.48 107.99,207.17 108.53,206.64 109.06,207.9 109.6,209.35 110.14,210.28 110.68,209.07 111.22,209.44 111.76,208.94 112.3,208.92 112.84,206.81 113.38,206.95 113.92,206.82 114.46,206.56 115,207.94 115.54,208.71 116.08,208.68 116.62,209.25 117.16,209.14 117.7,210.92 118.24,210.83 118.78,212.31 119.32,211.2 119.86,209.64 120.4,208.22 120.94,208.98 121.48,208.29 122.02,207.99 122.56,206.81 123.1,207.2 123.64,207.35 124.18,207.4 124.72,208.24 125.26,209.27 125.8,210.53 126.34,211.1 126.88,211.98 127.42,213.86 127.96,211.4 128.5,210.34 129.04,209.91 129.58,211.07 130.12,208.34 130.65,206.24 131.19,205.97 131.73,207.93 132.27,208.33 132.81,207.75 133.35,207.41 133.89,208.02 134.43,208.45 134.97,207.99 135.51,208.41 136.05,210 136.59,210.9 137.13,211.15 137.67,209.49 138.21,210.26 138.75,209.39 139.29,210.19 139.83,210.33 140.37,207.55 140.91,206.45 141.45,205.26 141.99,207.35 142.53,205.92 143.07,205.8 143.61,206.47 144.15,207.52 144.69,207.91 145.23,207.42 145.77,208.5 146.31,208.16 146.85,207.96 147.39,208.16 147.93,207.09 148.47,208.41 149.01,209.32 149.55,210.93 150.09,210.73 150.63,208.68 151.17,209.2 151.71,208.73 152.24,209.99 152.78,209.14 153.32,208.64 153.86,205.97 154.4,204.59 154.94,204.68 155.48,204.3 156.02,206.16 156.56,204.7 157.1,205.49 157.64,204.88 158.18,205.93 158.72,207 159.26,208.12 159.8,207.99 160.34,210.06 160.88,209.49 161.42,209.31 161.96,207.94 162.5,208.88 162.5,216.77 161.96,215.61 161.42,216.9 160.88,215.66 160.34,214.77 159.8,213.34 159.26,214.78 158.72,214.4 158.18,213.62 157.64,212.86 157.1,215.15 156.56,214.44 156.02,215.15 155.48,214.41 154.94,214.48 154.4,214.5 153.86,214.06 153.32,216.59 152.78,216.53 152.24,216.88 151.71,215.21 151.17,215.31 150.63,216.73 150.09,217.01 149.55,218.19 149.01,218.58 148.47,217.57 147.93,216.29 147.39,216.07 146.85,217.88 146.31,218.01 145.77,216.54 145.23,217.56 144.69,217.98 144.15,217.1 143.61,216.42 143.07,215.97 142.53,215.65 141.99,216.3 141.45,214.97 140.91,216.14 140.37,216.6 139.83,217.87 139.29,217.02 138.75,214.14 138.21,214.06 137.67,214.9 137.13,215.33 136.59,215.6 136.05,215.42 135.51,215.47 134.97,215.12 134.43,214.53 133.89,213.82 133.35,213.86 132.81,214.61 132.27,214.8 131.73,214.58 131.19,213.19 130.65,213.9 130.12,215.02 129.58,217.33 129.04,215.25 128.5,214.87 127.96,216.7 127.42,219.52 126.88,219.62 126.34,218.98 125.8,217.55 125.26,216.28 124.72,213.81 124.18,213.97 123.64,213.33 123.1,213.31 122.56,214.28 122.02,215.91 121.48,215.45 120.94,215.14 120.4,214.8 119.86,216.76 119.32,218.4 118.78,219.37 118.24,219.15 117.7,218.92 117.16,217.57 116.62,217.36 116.08,217.42 115.54,218.26 115,216.92 114.46,215.65 113.92,214.8 113.38,213.81 112.84,213.28 112.3,213.17 111.76,214.45 111.22,214.42 110.68,214.7 110.14,216.66 109.6,216.19 109.06,216.73 108.53,214.15 107.99,214.16 107.45,213.44 106.91,213.89 106.37,213.44 105.83,213.04 105.29,214.84 104.75,215.93 104.21,216.45 103.67,213.28 103.13,213.27 102.59,214.42 102.05,215.32 101.51,215.23 100.97,214.6 100.43,212.99 99.89,211.64 99.35,210.91 98.81,213.96 98.27,214.72 97.73,214.64 97.19,212.68 96.65,213.24 96.11,213.19 95.57,213.37 95.03,211.97 94.49,211.04 93.95,212.81 93.41,214.44 92.87,216.39 92.33,213.69 91.79,213.7 91.25,212.44 90.71,214.82 90.17,213.5 89.63,212.96 89.09,213.18 88.55,214.22 88.01,215.9 87.47,214.99 86.94,214.86 86.4,215.34 85.86,215.09 85.32,215 84.78,212.11 84.24,209.82 83.7,209.55 83.16,209.34 82.62,209.89 82.08,208.34 81.54,209.03 81,208.52 80.46,210.5 79.92,211.1 79.38,212.58 78.84,214.77 78.3,217.42 77.76,217.9 77.22,217.11 76.68,214.9 76.14,215.08 75.6,214.13 75.06,214.75 74.52,215.49 73.98,217.35 73.44,216.73 72.9,214.91 72.36,212.93 71.82,211.17 71.28,210.95 70.74,210.12 70.2,209.57 69.66,210.03 69.12,209.89 68.58,209.23 68.04,208.4 67.5,208.67 66.96,211.35 66.42,213.28 65.88,212.73 65.35,211.27 64.81,211.22 64.27,210.62 63.73,209.36 63.19,208.6 62.65,209.64 62.11,210.49 61.57,211.26 61.03,211.87 60.49,212.67 59.95,212.65 59.41,212.32 58.87,211.88 58.33,211.31 57.79,212.81 57.25,212.41 56.71,211.01 56.17,208.42 55.63,206.79 55.09,206.24 54.55,206.9 54.01,206.97 53.47,206.4 52.93,205.55 52.39,207.6 51.85,208.38 51.31,207.81 50.77,207.6 50.23,209.65 49.69,210.69 49.15,210.8 48.61,209.6 48.07,211.36 47.53,210.36 46.99,211.7 46.45,210.78 45.91,212.37 45.37,213.02 44.83,213.12 44.29,214.3 43.76,213.75 43.22,213.49 42.68,212.78 42.14,212.52 41.6,211.48 41.06,210.83 40.52,209.24 39.98,210.46 39.44,210.97 38.9,213.95 38.36,212.96 37.82,212 37.28,209.97 36.74,209.47 36.2,209.96 35.66,210.97 35.12,211.95 34.58,210.55 34.04,208.86 33.5,207.05" fill="#82b6f6" fill-opacity="0.6"/>
<polygon points="33.5,205.63 34.04,208.05 34.58,207.32 35.12,207.6 35.66,206.79 36.2,209.94 36.74,209.66 37.28,210.68 37.82,209.08 38.36,211.05 38.9,210.89 39.44,210.49 39.98,209.25 40.52,208.94 41.06,208.27 41.6,207.86 42.14,208.9 42.68,210.47 43.22,210.43 43.76,209.82 44.29,210.43 44.83,211.34 45.37,210.96 45.91,210.71 46.45,211.27 46.99,211.03 47.53,210.27 48.07,210.13 48.61,211.22 49.15,212.01 49.69,211.92 50.23,211.91 50.77,210.53 51.31,209.47 51.85,209.12 52.39,209.5 52.93,209.52 53.47,208.46 54.01,205.97 54.55,207.11 55.09,208.87 55.63,211.4 56.17,212.64 56.71,213 57.25,212.17 57.79,209.92 58.33,206.94 58.87,205.56 59.41,202.73 59.95,203.87 60.49,204.67 61.03,206.6 61.57,207.45 62.11,208.37 62.65,210.06 63.19,209.29 63.73,208.81 64.27,206.02 64.81,206.13 65.35,205.08 65.88,205.27 66.42,208.19 66.96,209.51 67.5,211.71 68.04,211.92 68.58,215.29 69.12,212.91 69.66,210.93 70.2,208.57 70.74,206.78 71.28,205.3 71.82,202.37 72.36,204.54 72.9,203.93 73.44,205.21 73.98,203.14 74.52,204.7 75.06,203.52 75.6,199.54 76.14,191.43 76.68,184.03 77.22,183.25 77.76,188.26 78.3,194.99 78.84,197.21 79.38,199.96 79.92,200.73 80.46,208.19 81,214.26 81.54,220.55 82.08,219.5 82.62,218.51 83.16,221.1 83.7,222.28 84.24,223.04 84.78,222.47 85.32,223.09 85.86,223.46 86.4,222.87 86.94,223.04 87.47,224.44 88.01,226.67 88.55,227.68 89.09,226.26 89.63,225.62 90.17,226.54 90.71,226.71 91.25,225.56 91.79,221.51 92.33,222.25 92.87,222.38 93.41,224.9 93.95,222.72 94.49,219.12 95.03,217.52 95.57,218.38 96.11,219.3 96.65,216.11 97.19,211.38 97.73,208.43 98.27,206.56 98.81,205.39 99.35,204.72 99.89,203.75 100.43,205.62 100.97,205.14 101.51,207.75 102.05,208.71 102.59,208.17 103.13,206.66 103.67,204.44 104.21,204.87 104.75,203.81 105.29,203.2 105.83,203.05 106.37,204.89 106.91,206.88 107.45,208.66 107.99,208.63 108.53,208.69 109.06,207.97 109.6,207.31 110.14,205.97 110.68,205.45 111.22,207.3 111.76,207.99 112.3,207.48 112.84,204.88 113.38,204.05 113.92,204.21 114.46,206.13 115,205.12 115.54,204.46 116.08,201.69 116.62,201.43 117.16,203.65 117.7,204.69 118.24,205.95 118.78,204.06 119.32,204.25 119.86,204.74 120.4,204.82 120.94,206.72 121.48,206.47 122.02,207.89 122.56,206.08 123.1,206.57 123.64,205.23 124.18,205.05 124.72,204.76 125.26,205.3 125.8,205.95 126.34,206.31 126.88,207.11 127.42,207.54 127.96,207.32 128.5,206.56 129.04,206.12 129.58,207.61 130.12,207.03 130.65,207.94 131.19,207.09 131.73,207.83 132.27,207.44 132.81,206.53 133.35,206.05 133.89,206.42 134.43,207.64 134.97,206.21 135.51,205.09 136.05,205.51 136.59,207.54 137.13,209.33 137.67,206.53 138.21,207.94 138.75,206.41 139.29,207.75 139.83,207.24 140.37,207.37 140.91,206.89 141.45,205.79 141.99,206.09 142.53,205.93 143.07,206.14 143.61,206.22 144.15,206.74 144.69,206.14 145.23,206.63 145.77,207.05 146.31,209.31 146.85,210.13 147.39,211.78 147.93,209.84 148.47,207.37 149.01,207.05 149.55,206.43 150.09,206.47 150.63,205.83 151.17,207.5 151.71,209.66 152.24,208.85 152.78,210.7 153.32,209.44 153.86,210.62 154.4,210.45 154.94,209.78 155.48,208.07 156.02,203.91 156.56,202.92 157.1,202.57 157.64,204.67 158.18,207.05 158.72,207.83 159.26,208.24 159.8,207.58 160.34,207.8 160.88,207.4 161.42,207.53 161.96,209.34 162.5,209.76 162.5,213.95 161.96,212.86 161.42,211.36 160.88,210.64 160.34,210.42 159.8,210.88 159.26,212.9 158.72,214.56 158.18,213.57 157.64,212.44 157.1,210.93 156.56,211.03 156.02,211.68 155.48,213.33 154.94,215.79 154.4,214.63 153.86,213.52 153.32,211.59 152.78,213.26 152.24,213 151.71,212.73 151.17,211.41 150.63,211.92 150.09,213.35 149.55,212.77 149.01,212.29 148.47,212.33 147.93,215.61 147.39,216.28 146.85,215.39 146.31,214.18 145.77,212.58 145.23,213.16 144.69,211.27 144.15,211.51 143.61,210.01 143.07,210.21 142.53,209.82 141.99,209.53 141.45,209.73 140.91,212.12 140.37,212.44 139.83,212.22 139.29,211.8 138.75,210.83 138.21,213 137.67,211.56 137.13,214.17 136.59,212.98 136.05,212.58 135.51,212.38 134.97,213.27 134.43,215.27 133.89,214.37 133.35,213.77 132.81,212.57 132.27,213.51 131.73,213.46 131.19,212.17 130.65,212.38 130.12,210.79 129.58,211.77 129.04,210.08 128.5,211.59 127.96,211.12 127.42,212.39 126.88,211.69 126.34,211.56 125.8,210.49 125.26,209.76 124.72,209.7 124.18,210.79 123.64,211.84 123.1,212.97 122.56,212.87 122.02,214 121.48,213.69 120.94,212.72 120.4,210.81 119.86,210.14 119.32,210.12 118.78,210.55 118.24,211.15 117.7,209.3 117.16,207.63 116.62,206.92 116.08,206.83 115.54,208.71 115,210.59 114.46,212.19 113.92,210.77 113.38,209.3 112.84,209.65 112.3,212.56 111.76,213.06 111.22,213.14 110.68,211.6 110.14,211.44 109.6,212.61 109.06,212.67 108.53,212.26 107.99,211.5 107.45,210.76 106.91,209.3 106.37,208.49 105.83,207.67 105.29,208.38 104.75,208.17 104.21,210.6 103.67,210.54 103.13,212.04 102.59,213.35 102.05,213.72 101.51,212.91 100.97,210.02 100.43,210.23 99.89,209.44 99.35,209.93 98.81,210.07 98.27,211.54 97.73,212.49 97.19,215.9 96.65,219.95 96.11,223.05 95.57,222.71 95.03,222.31 94.49,224.25 93.95,228.24 93.41,229.69 92.87,227 92.33,226.62 91.79,226.34 91.25,230.13 90.71,230.3 90.17,230.27 89.63,229 89.09,229.93 88.55,230.7 88.01,230.54 87.47,229.41 86.94,229.07 86.4,229.66 85.86,229.26 85.32,229.62 84.78,227.58 84.24,227.26 83.7,226.78 83.16,225.16 82.62,224.65 82.08,225.05 81.54,227.59 81,221.57 80.46,213.91 79.92,207.83 79.38,206.38 78.84,204.13 78.3,201.68 77.76,195.7 77.22,191.2 76.68,191.81 76.14,198.01 75.6,206.3 75.06,210.09 74.52,210.9 73.98,209.5 73.44,210.68 72.9,210.06 72.36,209.27 71.82,207.92 71.28,209.13 70.74,210.53 70.2,212.12 69.66,214.61 69.12,217.06 68.58,218.47 68.04,216.02 67.5,214.98 66.96,212.59 66.42,211.28 65.88,209.63 65.35,209.49 64.81,210.75 64.27,211.29 63.73,215.08 63.19,214.91 62.65,215.03 62.11,214.93 61.57,214.21 61.03,214.47 60.49,211.8 59.95,211.86 59.41,210.21 58.87,211.59 58.33,213.12 57.79,214.82 57.25,216.78 56.71,217.46 56.17,217.52 55.63,216.17 55.09,213.38 54.55,211.83 54.01,211.55 53.47,214.16 52.93,215.52 52.39,215.84 51.85,215.31 51.31,216.71 50.77,217.83 50.23,218.11 49.69,217.4 49.15,217.56 48.61,215.91 48.07,214.05 47.53,214.72 46.99,217.13 46.45,218.01 45.91,217.51 45.37,218.79 44.83,218.97 44.29,217.84 43.76,217.21 43.22,216.4 42.68,215.26 42.14,213.76 41.6,213 41.06,212.35 40.52,211.68 39.98,212.83 39.44,214.48 38.9,214.81 38.36,215.26 37.82,213.53 37.28,215.48 36.74,213.85 36.2,215.46 35.66,213.06 35.12,213.67 34.58,213.47 34.04,213.8 33.5,212.08" fill="#f07a84" fill-opacity="0.5"/>
<polyline points="33.5,202.9 34.04,204.81 34.58,206.26 35.12,208.94 35.66,208.48 36.2,207.61 36.74,207 37.28,206.92 37.82,209.58 38.36,209.85 38.9,211.33 39.44,208.86 39.98,208.68 40.52,207.63 41.06,209.45 41.6,210.06 42.14,210.61 42.68,210.18 43.22,210.38 43.76,210.32 44.29,209.87 44.83,209.29 45.37,208.76 45.91,208.19 46.45,206.52 46.99,207.35 47.53,205.94 48.07,206.83 48.61,205.81 49.15,207.31 49.69,206.73 50.23,206.3 50.77,204.92 51.31,205.16 51.85,204.83 52.39,203.49 52.93,202.69 53.47,203.15 54.01,203.76 54.55,204.11 55.09,203.3 55.63,204.49 56.17,205.61 56.71,208.5 57.25,210.06 57.79,209.66 58.33,208.78 58.87,208.5 59.41,208.49 59.95,208.95 60.49,208.66 61.03,208.49 61.57,207.42 62.11,207.14 62.65,207.22 63.19,205.97 63.73,206.41 64.27,206.93 64.81,207.89 65.35,208.41 65.88,209.16 66.42,209.47 66.96,207.63 67.5,205.2 68.04,204.86 68.58,205.77 69.12,207 69.66,207.27 70.2,207.15 70.74,207.7 71.28,207.46 71.82,207.9 72.36,208.61 72.9,211.08 73.44,212.83 73.98,213.79 74.52,212.86 75.06,211.38 75.6,211.1 76.14,211.01 76.68,210.86 77.22,212.42 77.76,213.34 78.3,213.35 78.84,210.8 79.38,209.82 79.92,207.68 80.46,206.91 81,204.91 81.54,205.61 82.08,204.68 82.62,205.62 83.16,205.26 83.7,206.31 84.24,206.33 84.78,207.84 85.32,210.13 85.86,210.56 86.4,210.73 86.94,210.11 87.47,210.28 88.01,210.8 88.55,210.47 89.09,209.68 89.63,209.85 90.17,210.35 90.71,210.99 91.25,209.62 91.79,209.59 92.33,209.09 92.87,211.4 93.41,209.56 93.95,209.29 94.49,207.29 95.03,208.64 95.57,210.23 96.11,210.78 96.65,210.28 97.19,210.28 97.73,212.24 98.27,212.54 98.81,211.97 99.35,208.77 99.89,209.58 100.43,209.83 100.97,211.93 101.51,212.73 102.05,212.99 102.59,211.6 103.13,210.38 103.67,210.14 104.21,212.39 104.75,211.81 105.29,210.8 105.83,209.59 106.37,210.33 106.91,210.58 107.45,210.46 107.99,210.66 108.53,210.39 109.06,212.32 109.6,212.77 110.14,213.47 110.68,211.88 111.22,211.93 111.76,211.7 112.3,211.04 112.84,210.04 113.38,210.38 113.92,210.81 114.46,211.11 115,212.43 115.54,213.49 116.08,213.05 116.62,213.3 117.16,213.35 117.7,214.92 118.24,214.99 118.78,215.84 119.32,214.8 119.86,213.2 120.4,211.51 120.94,212.06 121.48,211.87 122.02,211.95 122.56,210.54 123.1,210.26 123.64,210.34 124.18,210.68 124.72,211.03 125.26,212.77 125.8,214.04 126.34,215.04 126.88,215.8 127.42,216.69 127.96,214.05 128.5,212.6 129.04,212.58 129.58,214.2 130.12,211.68 130.65,210.07 131.19,209.58 131.73,211.25 132.27,211.57 132.81,211.18 133.35,210.63 133.89,210.92 134.43,211.49 134.97,211.56 135.51,211.94 136.05,212.71 136.59,213.25 137.13,213.24 137.67,212.19 138.21,212.16 138.75,211.76 139.29,213.61 139.83,214.1 140.37,212.07 140.91,211.3 141.45,210.11 141.99,211.83 142.53,210.78 143.07,210.89 143.61,211.45 144.15,212.31 144.69,212.94 145.23,212.49 145.77,212.52 146.31,213.08 146.85,212.92 147.39,212.11 147.93,211.69 148.47,212.99 149.01,213.95 149.55,214.56 150.09,213.87 150.63,212.7 151.17,212.26 151.71,211.97 152.24,213.44 152.78,212.84 153.32,212.61 153.86,210.02 154.4,209.54 154.94,209.58 155.48,209.35 156.02,210.66 156.56,209.57 157.1,210.32 157.64,208.87 158.18,209.78 158.72,210.7 159.26,211.45 159.8,210.67 160.34,212.41 160.88,212.58 161.42,213.1 161.96,211.77 162.5,212.83" fill="none" stroke="#78aef0" stroke-width="1.25" stroke-linejoin="round"/>
<polyline points="33.5,208.85 34.04,210.93 34.58,210.4 35.12,210.63 35.66,209.93 36.2,212.7 36.74,211.75 37.28,213.08 37.82,211.3 38.36,213.16 38.9,212.85 39.44,212.48 39.98,211.04 40.52,210.31 41.06,210.31 41.6,210.43 42.14,211.33 42.68,212.86 43.22,213.41 43.76,213.51 44.29,214.14 44.83,215.15 45.37,214.87 45.91,214.11 46.45,214.64 46.99,214.08 47.53,212.5 48.07,212.09 48.61,213.56 49.15,214.79 49.69,214.66 50.23,215.01 50.77,214.18 51.31,213.09 51.85,212.21 52.39,212.67 52.93,212.52 53.47,211.31 54.01,208.76 54.55,209.47 55.09,211.13 55.63,213.78 56.17,215.08 56.71,215.23 57.25,214.48 57.79,212.37 58.33,210.03 58.87,208.57 59.41,206.47 59.95,207.87 60.49,208.24 61.03,210.53 61.57,210.83 62.11,211.65 62.65,212.55 63.19,212.1 63.73,211.94 64.27,208.66 64.81,208.44 65.35,207.28 65.88,207.45 66.42,209.74 66.96,211.05 67.5,213.35 68.04,213.97 68.58,216.88 69.12,214.98 69.66,212.77 70.2,210.35 70.74,208.65 71.28,207.22 71.82,205.14 72.36,206.91 72.9,206.99 73.44,207.95 73.98,206.32 74.52,207.8 75.06,206.8 75.6,202.92 76.14,194.72 76.68,187.92 77.22,187.22 77.76,191.98 78.3,198.33 78.84,200.67 79.38,203.17 79.92,204.28 80.46,211.05 81,217.92 81.54,224.07 82.08,222.27 82.62,221.58 83.16,223.13 83.7,224.53 84.24,225.15 84.78,225.03 85.32,226.35 85.86,226.36 86.4,226.26 86.94,226.05 87.47,226.92 88.01,228.61 88.55,229.19 89.09,228.09 89.63,227.31 90.17,228.4 90.71,228.51 91.25,227.85 91.79,223.93 92.33,224.44 92.87,224.69 93.41,227.3 93.95,225.48 94.49,221.68 95.03,219.92 95.57,220.55 96.11,221.17 96.65,218.03 97.19,213.64 97.73,210.46 98.27,209.05 98.81,207.73 99.35,207.33 99.89,206.6 100.43,207.93 100.97,207.58 101.51,210.33 102.05,211.21 102.59,210.76 103.13,209.35 103.67,207.49 104.21,207.74 104.75,205.99 105.29,205.79 105.83,205.36 106.37,206.69 106.91,208.09 107.45,209.71 107.99,210.07 108.53,210.47 109.06,210.32 109.6,209.96 110.14,208.7 110.68,208.52 111.22,210.22 111.76,210.53 112.3,210.02 112.84,207.26 113.38,206.68 113.92,207.49 114.46,209.16 115,207.85 115.54,206.59 116.08,204.26 116.62,204.17 117.16,205.64 117.7,206.99 118.24,208.55 118.78,207.31 119.32,207.18 119.86,207.44 120.4,207.82 120.94,209.72 121.48,210.08 122.02,210.95 122.56,209.47 123.1,209.77 123.64,208.54 124.18,207.92 124.72,207.23 125.26,207.53 125.8,208.22 126.34,208.94 126.88,209.4 127.42,209.97 127.96,209.22 128.5,209.07 129.04,208.1 129.58,209.69 130.12,208.91 130.65,210.16 131.19,209.63 131.73,210.64 132.27,210.48 132.81,209.55 133.35,209.91 133.89,210.4 134.43,211.46 134.97,209.74 135.51,208.73 136.05,209.04 136.59,210.26 137.13,211.75 137.67,209.04 138.21,210.47 138.75,208.62 139.29,209.78 139.83,209.73 140.37,209.91 140.91,209.51 141.45,207.76 141.99,207.81 142.53,207.87 143.07,208.17 143.61,208.12 144.15,209.12 144.69,208.71 145.23,209.9 145.77,209.82 146.31,211.74 146.85,212.76 147.39,214.03 147.93,212.72 148.47,209.85 149.01,209.67 149.55,209.6 150.09,209.91 150.63,208.87 151.17,209.46 151.71,211.19 152.24,210.92 152.78,211.98 153.32,210.51 153.86,212.07 154.4,212.54 154.94,212.79 155.48,210.7 156.02,207.79 156.56,206.97 157.1,206.75 157.64,208.55 158.18,210.31 158.72,211.2 159.26,210.57 159.8,209.23 160.34,209.11 160.88,209.02 161.42,209.44 161.96,211.1 162.5,211.85" fill="none" stroke="#ee2a33" stroke-width="1.5" stroke-linejoin="round"/>
</g>
<line x1="76.5" y1="168.5" x2="76.5" y2="251.5" stroke="#1a1a1a" stroke-width="1.15" stroke-dasharray="2.4 1.8" />
<line x1="33.5" y1="167" x2="33.5" y2="252.1" stroke="#111" stroke-width="1.25" />
<line x1="32.9" y1="251.5" x2="163.1" y2="251.5" stroke="#111" stroke-width="1.25" />
<line x1="30.5" y1="167.5" x2="33.5" y2="167.5" stroke="#111" stroke-width="1.1" />
<text x="29.5" y="169.9" font-size="6.7" font-weight="bold" text-anchor="end" fill="#222" >8</text>
<line x1="30.5" y1="188.5" x2="33.5" y2="188.5" stroke="#111" stroke-width="1.1" />
<text x="29.5" y="190.9" font-size="6.7" font-weight="bold" text-anchor="end" fill="#222" >4</text>
<line x1="30.5" y1="209.5" x2="33.5" y2="209.5" stroke="#111" stroke-width="1.1" />
<text x="29.5" y="211.9" font-size="6.7" font-weight="bold" text-anchor="end" fill="#222" >0</text>
<line x1="30.5" y1="230.5" x2="33.5" y2="230.5" stroke="#111" stroke-width="1.1" />
<text x="29.5" y="232.9" font-size="6.7" font-weight="bold" text-anchor="end" fill="#222" >-4</text>
<line x1="30.5" y1="251.5" x2="33.5" y2="251.5" stroke="#111" stroke-width="1.1" />
<text x="29.5" y="253.9" font-size="6.7" font-weight="bold" text-anchor="end" fill="#222" >-8</text>
<line x1="33.5" y1="251.5" x2="33.5" y2="254.5" stroke="#111" stroke-width="1.1" />
<text x="32.7" y="262.5" font-size="6.7" font-weight="bold" text-anchor="middle" fill="#222" >-10</text>
<line x1="76.5" y1="251.5" x2="76.5" y2="254.5" stroke="#111" stroke-width="1.1" />
<text x="76.5" y="262.5" font-size="6.7" font-weight="bold" text-anchor="middle" fill="#222" >0</text>
<line x1="119.5" y1="251.5" x2="119.5" y2="254.5" stroke="#111" stroke-width="1.1" />
<text x="119.5" y="262.5" font-size="6.7" font-weight="bold" text-anchor="middle" fill="#222" >10</text>
<line x1="162.5" y1="251.5" x2="162.5" y2="254.5" stroke="#111" stroke-width="1.1" />
<text x="162.5" y="262.5" font-size="6.7" font-weight="bold" text-anchor="middle" fill="#222" >20</text>
<text x="98.3" y="274.6" font-size="8.4" font-weight="bold" text-anchor="middle" fill="#222" >Time (s)</text>
<text x="19.7" y="209.7" font-size="7.9" font-weight="bold" text-anchor="middle" fill="#222" transform="rotate(-90 19.7 209.7)" >&#916;<tspan font-style="italic">F/F</tspan> (%)</text>
<text x="74.2" y="171" font-size="8.15" font-weight="bold" text-anchor="end" fill="#111" >Approach</text>
<text x="78.3" y="171" font-size="8.2" font-weight="bold" text-anchor="start" fill="#111" >Consumption</text>
<text x="52.6" y="143.4" font-size="8.3" font-weight="bold" fill="#111">PVN<tspan dy="-3.2" font-size="6.0">VGlut2:GCaMP6f</tspan></text>
<line x1="41" y1="153" x2="49.6" y2="153" stroke="#ee3c44" stroke-width="1.3" />
<text x="55.1" y="156" font-size="8.3" font-weight="bold" text-anchor="start" fill="#111" >Chow</text>
<line x1="93" y1="153" x2="102.3" y2="153" stroke="#8ab8f0" stroke-width="1.3" />
<text x="107.2" y="156" font-size="8.3" font-weight="bold" text-anchor="start" fill="#111" >Object</text>
<rect x="234.99" y="172.6" width="8.61" height="80" fill="#d6d6d6" />
<rect x="246.8" y="172.6" width="18.81" height="80" fill="#d6d6d6" />
<line x1="202.5" y1="210.3" x2="330.6" y2="210.3" stroke="#222" stroke-width="0.9" stroke-dasharray="2.6 2.2" />
<clipPath id="cH"><rect x="202.5" y="164" width="130.1" height="88.6"/></clipPath>
<g clip-path="url(#cH)">
<polygon points="202.5,208.98 203.04,208.86 203.57,209.58 204.11,209.04 204.64,209.18 205.18,209 205.72,208.82 206.25,208.28 206.79,208.65 207.32,209.25 207.86,210.06 208.4,210.53 208.93,211.01 209.47,210.82 210,210.9 210.54,210.3 211.08,210.11 211.61,210.2 212.15,210.56 212.68,209.65 213.22,209.63 213.76,209.86 214.29,209.95 214.83,209.3 215.36,209.95 215.9,209.69 216.44,209.12 216.97,209.47 217.51,209.67 218.04,209.58 218.58,210.16 219.12,210.71 219.65,210.07 220.19,210.12 220.72,210 221.26,209.77 221.8,209.32 222.33,209.08 222.87,208.66 223.4,208.48 223.94,207.82 224.48,207.73 225.01,207.97 225.55,208.17 226.08,208.47 226.62,208.91 227.16,209.21 227.69,209.67 228.23,209.99 228.76,210.07 229.3,210.65 229.84,211.34 230.37,210.32 230.91,210.61 231.44,210.83 231.98,210.26 232.52,210.08 233.05,210.62 233.59,210.38 234.12,210.39 234.66,210.52 235.19,210.29 235.73,209.48 236.27,209.42 236.8,209.03 237.34,208.88 237.87,208.86 238.41,209.06 238.95,209.25 239.48,209.49 240.02,209.54 240.55,209.96 241.09,209.84 241.63,209.6 242.16,209.54 242.7,209.56 243.23,210.06 243.77,209.96 244.31,210.37 244.84,211.28 245.38,211.12 245.91,210.85 246.45,211.1 246.99,211.1 247.52,210.12 248.06,210.19 248.59,210.08 249.13,210.13 249.67,209.92 250.2,210.56 250.74,210.4 251.27,210.18 251.81,210.22 252.35,210.65 252.88,210.26 253.42,210.6 253.95,210.47 254.49,210.61 255.03,210.46 255.56,209.9 256.1,209.83 256.63,209.54 257.17,209.52 257.71,209.64 258.24,209.16 258.78,209.42 259.31,209.76 259.85,209.87 260.39,209.95 260.92,210.45 261.46,210.59 261.99,211.02 262.53,211.28 263.07,211.59 263.6,211.72 264.14,212 264.67,211.4 265.21,211.17 265.75,211.23 266.28,210.9 266.82,210.64 267.35,211.2 267.89,211.05 268.43,211.16 268.96,211.48 269.5,211.63 270.03,211.11 270.57,211.21 271.11,211.07 271.64,210.66 272.18,210.09 272.71,210.06 273.25,209.97 273.79,209.59 274.32,209.46 274.86,209.51 275.39,209.66 275.93,209.59 276.47,209.91 277,210.1 277.54,210.29 278.07,209.89 278.61,209.82 279.15,209.9 279.68,209.16 280.22,209.6 280.75,210 281.29,210.22 281.83,210 282.36,210.44 282.9,209.99 283.43,209.96 283.97,210.05 284.51,209.84 285.04,210.7 285.58,210.83 286.11,210.99 286.65,211.17 287.19,210.89 287.72,210.15 288.26,210.49 288.79,209.85 289.33,209.17 289.87,209.21 290.4,209.52 290.94,209.12 291.47,209.55 292.01,210.24 292.55,210.27 293.08,210.04 293.62,210.22 294.15,210.31 294.69,210.25 295.23,210.68 295.76,210.96 296.3,211.17 296.83,210.87 297.37,210.81 297.91,210.5 298.44,209.73 298.98,209.58 299.51,209.77 300.05,209.92 300.58,210 301.12,210.49 301.66,210.39 302.19,210.7 302.73,210.64 303.26,210.48 303.8,210.97 304.34,210.46 304.87,210.05 305.41,209.69 305.94,209.93 306.48,209.39 307.02,209.54 307.55,209.92 308.09,209.86 308.62,210.09 309.16,210.17 309.7,210.19 310.23,209.85 310.77,209.61 311.3,209.46 311.84,209.53 312.38,209.94 312.91,209.9 313.45,210.37 313.98,210.49 314.52,210.51 315.06,210.58 315.59,210.67 316.13,209.78 316.66,209.77 317.2,209.42 317.74,209.27 318.27,209.3 318.81,209.76 319.34,209.22 319.88,209.45 320.42,209.22 320.95,209.03 321.49,209.31 322.02,209.96 322.56,209.92 323.1,210.37 323.63,210.21 324.17,209.86 324.7,209.33 325.24,209.57 325.78,209.21 326.31,209.65 326.85,209.1 327.38,209.29 327.92,209.02 328.46,208.99 328.99,208.95 329.53,209.64 330.06,209.83 330.6,209.64 330.6,210.96 330.06,211.07 329.53,211.12 328.99,210.42 328.46,210.42 327.92,210.38 327.38,210.78 326.85,210.67 326.31,211.14 325.78,210.75 325.24,211.18 324.7,211.15 324.17,211.22 323.63,211.53 323.1,211.63 322.56,210.74 322.02,210.62 321.49,209.98 320.95,209.83 320.42,210.06 319.88,210.6 319.34,210.59 318.81,211.24 318.27,210.51 317.74,210.55 317.2,210.86 316.66,211.07 316.13,211.07 315.59,211.82 315.06,211.64 314.52,211.5 313.98,211.34 313.45,211.38 312.91,210.96 312.38,210.95 311.84,210.91 311.3,210.88 310.77,210.83 310.23,210.95 309.7,211.27 309.16,211.57 308.62,211.17 308.09,211.26 307.55,211.55 307.02,211.32 306.48,211.16 305.94,211.48 305.41,211.53 304.87,211.8 304.34,212.27 303.8,212.24 303.26,211.92 302.73,212.26 302.19,212.11 301.66,211.42 301.12,211.44 300.58,211.38 300.05,211.13 299.51,210.77 298.98,210.81 298.44,211.19 297.91,211.85 297.37,211.94 296.83,212.04 296.3,212.41 295.76,212.13 295.23,211.56 294.69,211.32 294.15,211.39 293.62,211.49 293.08,211.32 292.55,211.52 292.01,211.81 291.47,211.17 290.94,210.82 290.4,210.98 289.87,210.79 289.33,210.73 288.79,211.46 288.26,212.05 287.72,211.84 287.19,212.48 286.65,212.5 286.11,212.17 285.58,211.76 285.04,211.48 284.51,211.05 283.97,211.41 283.43,211.56 282.9,211.5 282.36,212.11 281.83,211.68 281.29,211.16 280.75,211.36 280.22,210.92 279.68,210.68 279.15,211.41 278.61,211.14 278.07,211.38 277.54,211.3 277,211.09 276.47,210.99 275.93,210.73 275.39,210.93 274.86,211.02 274.32,211.16 273.79,211.11 273.25,211.51 272.71,211.33 272.18,211.5 271.64,211.85 271.11,211.87 270.57,212.13 270.03,211.75 269.5,212.38 268.96,212.08 268.43,211.96 267.89,212.21 267.35,212.34 266.82,211.84 266.28,211.91 265.75,212.32 265.21,212.24 264.67,212.36 264.14,213.02 263.6,213.21 263.07,213.08 262.53,212.58 261.99,212.32 261.46,211.93 260.92,211.95 260.39,210.87 259.85,210.92 259.31,211.08 258.78,210.56 258.24,210.52 257.71,210.85 257.17,210.95 256.63,211.25 256.1,211.3 255.56,211.53 255.03,211.7 254.49,211.94 253.95,212.03 253.42,212.04 252.88,211.83 252.35,211.88 251.81,211.69 251.27,211.39 250.74,211.39 250.2,211.73 249.67,211.14 249.13,211.62 248.59,211.41 248.06,211.81 247.52,211.68 246.99,212.41 246.45,212.41 245.91,212.27 245.38,213 244.84,213.26 244.31,212.55 243.77,212.3 243.23,212.25 242.7,211.87 242.16,211.44 241.63,211.33 241.09,211.53 240.55,211.48 240.02,210.9 239.48,210.71 238.95,210.33 238.41,210.17 237.87,209.83 237.34,210.14 236.8,210.65 236.27,211.3 235.73,211.67 235.19,212.12 234.66,212.21 234.12,211.85 233.59,211.86 233.05,211.89 232.52,211.17 231.98,211.47 231.44,212.16 230.91,211.88 230.37,211.78 229.84,212.43 229.3,211.94 228.76,211.15 228.23,211.17 227.69,210.86 227.16,210.07 226.62,209.73 226.08,209.47 225.55,209.55 225.01,209.25 224.48,209.07 223.94,209.39 223.4,210.05 222.87,210.16 222.33,210.48 221.8,210.71 221.26,211.18 220.72,211.12 220.19,211.31 219.65,210.85 219.12,211.67 218.58,211.21 218.04,210.61 217.51,210.71 216.97,210.64 216.44,210.28 215.9,210.88 215.36,211.14 214.83,210.44 214.29,211.11 213.76,211.03 213.22,210.84 212.68,210.48 212.15,211.27 211.61,211.12 211.08,211.06 210.54,211.4 210,212.09 209.47,211.93 208.93,212.06 208.4,211.52 207.86,210.93 207.32,209.76 206.79,209.27 206.25,209.16 205.72,209.78 205.18,210.23 204.64,210.5 204.11,210.77 203.57,211.27 203.04,210.88 202.5,210.89" fill="#82b6f6" fill-opacity="0.6"/>
<polygon points="202.5,210.01 203.04,210.43 203.57,210.36 204.11,209.88 204.64,209.47 205.18,209.77 205.72,210.1 206.25,209.84 206.79,209.71 207.32,209.3 207.86,208.68 208.4,208.41 208.93,208.5 209.47,208.69 210,209.2 210.54,209.83 211.08,209.57 211.61,210 212.15,209.85 212.68,209.82 213.22,209.12 213.76,209.36 214.29,209.09 214.83,209.22 215.36,209.47 215.9,210.17 216.44,209.82 216.97,209.73 217.51,209.93 218.04,209.59 218.58,209.35 219.12,209.63 219.65,209.93 220.19,209.9 220.72,209.71 221.26,209.63 221.8,209.61 222.33,209.55 222.87,209.67 223.4,210.26 223.94,210.09 224.48,210.38 225.01,210.21 225.55,210.47 226.08,209.83 226.62,209.39 227.16,209.76 227.69,209.39 228.23,209.81 228.76,210.18 229.3,210.51 229.84,210.23 230.37,210.93 230.91,210.51 231.44,210.21 231.98,210.27 232.52,210.55 233.05,210.1 233.59,209.76 234.12,209.87 234.66,209.72 235.19,209.64 235.73,209.82 236.27,210.28 236.8,210.52 237.34,210.35 237.87,210.4 238.41,210.24 238.95,210.1 239.48,209.69 240.02,209.45 240.55,209.59 241.09,209.61 241.63,209.69 242.16,210.02 242.7,210.08 243.23,210.17 243.77,210.17 244.31,210.6 244.84,210.52 245.38,209.79 245.91,209.08 246.45,208.48 246.99,208.18 247.52,207.87 248.06,208.52 248.59,209.3 249.13,209.35 249.67,209.19 250.2,210.09 250.74,210.03 251.27,209.94 251.81,209.76 252.35,210.21 252.88,209.92 253.42,209.95 253.95,209.57 254.49,210.07 255.03,210.4 255.56,210.8 256.1,210.82 256.63,211.05 257.17,210.21 257.71,209.4 258.24,209.26 258.78,209.13 259.31,209.36 259.85,209.73 260.39,209.95 260.92,209.41 261.46,209.85 261.99,209.95 262.53,209.78 263.07,209.92 263.6,210.42 264.14,210.35 264.67,209.96 265.21,209.71 265.75,209.49 266.28,209.1 266.82,208.76 267.35,209.3 267.89,210.05 268.43,210.48 268.96,211.09 269.5,211.55 270.03,210.89 270.57,210.95 271.11,210.94 271.64,210.93 272.18,210.86 272.71,210.53 273.25,210.2 273.79,209.99 274.32,209.28 274.86,209.32 275.39,209.6 275.93,209.46 276.47,209.39 277,209.59 277.54,209.89 278.07,210.31 278.61,210.42 279.15,210.36 279.68,210.33 280.22,210.17 280.75,209.88 281.29,209.47 281.83,209.74 282.36,209.46 282.9,209.57 283.43,209.78 283.97,209.82 284.51,209.51 285.04,210.11 285.58,209.76 286.11,209.77 286.65,209.71 287.19,209.75 287.72,209.73 288.26,209.57 288.79,209.65 289.33,209.8 289.87,209.94 290.4,209.79 290.94,209.72 291.47,209.45 292.01,209.25 292.55,209.25 293.08,209.1 293.62,209.72 294.15,210.08 294.69,210.15 295.23,210.37 295.76,210.08 296.3,209.51 296.83,209.4 297.37,209.38 297.91,209.73 298.44,209.78 298.98,210.1 299.51,210.26 300.05,210.43 300.58,210.31 301.12,210.22 301.66,209.99 302.19,210.14 302.73,209.97 303.26,209.79 303.8,210.03 304.34,210.03 304.87,209.71 305.41,209.48 305.94,209.8 306.48,210.69 307.02,210.91 307.55,210.91 308.09,210.71 308.62,210.22 309.16,209.8 309.7,209.49 310.23,209.3 310.77,209.98 311.3,210.68 311.84,210.71 312.38,210.73 312.91,210.91 313.45,211.27 313.98,210.74 314.52,210.87 315.06,210.98 315.59,210.98 316.13,210.5 316.66,210.26 317.2,210.18 317.74,210.14 318.27,210.05 318.81,209.66 319.34,210.23 319.88,210.39 320.42,210.41 320.95,210.95 321.49,211.08 322.02,210.73 322.56,210.78 323.1,210.24 323.63,209.27 324.17,209.19 324.7,209.19 325.24,208.37 325.78,208.79 326.31,209.47 326.85,209.5 327.38,210.09 327.92,210.89 328.46,210.72 328.99,210.63 329.53,210.43 330.06,210.07 330.6,209.75 330.6,210.97 330.06,210.94 329.53,211.52 328.99,211.65 328.46,211.8 327.92,211.91 327.38,211.03 326.85,210.65 326.31,210.63 325.78,210 325.24,209.55 324.7,210.04 324.17,210.1 323.63,210.19 323.1,210.95 322.56,211.34 322.02,211.16 321.49,211.78 320.95,211.6 320.42,211.12 319.88,211.2 319.34,211.28 318.81,210.81 318.27,210.97 317.74,211.18 317.2,211.31 316.66,211.53 316.13,211.58 315.59,211.9 315.06,212.03 314.52,211.62 313.98,211.51 313.45,211.99 312.91,211.71 312.38,211.55 311.84,211.55 311.3,212.06 310.77,211.2 310.23,210.68 309.7,210.88 309.16,211.01 308.62,211.2 308.09,211.52 307.55,211.59 307.02,211.57 306.48,211.26 305.94,210.71 305.41,210.62 304.87,210.66 304.34,210.87 303.8,210.65 303.26,210.42 302.73,210.58 302.19,210.91 301.66,210.75 301.12,211.04 300.58,211.22 300.05,211.38 299.51,211.05 298.98,210.73 298.44,210.51 297.91,210.79 297.37,210.62 296.83,210.46 296.3,210.53 295.76,211.11 295.23,211.24 294.69,210.92 294.15,210.88 293.62,210.76 293.08,210.42 292.55,210.42 292.01,210.95 291.47,211 290.94,211.14 290.4,211.08 289.87,211.01 289.33,210.91 288.79,210.6 288.26,210.84 287.72,210.94 287.19,211 286.65,211.04 286.11,210.98 285.58,210.93 285.04,211.14 284.51,210.55 283.97,210.79 283.43,210.71 282.9,210.72 282.36,210.41 281.83,210.98 281.29,210.7 280.75,211.13 280.22,211.26 279.68,211.62 279.15,211.81 278.61,211.66 278.07,211.39 277.54,211 277,210.83 276.47,210.35 275.93,210.47 275.39,210.71 274.86,210.61 274.32,210.89 273.79,211.56 273.25,211.74 272.71,211.78 272.18,212.09 271.64,212.02 271.11,211.59 270.57,211.71 270.03,211.88 269.5,212.26 268.96,211.59 268.43,211.26 267.89,210.98 267.35,210.3 266.82,209.66 266.28,210.38 265.75,210.74 265.21,210.91 264.67,211.36 264.14,211.68 263.6,211.63 263.07,211.07 262.53,211.17 261.99,211.06 261.46,210.66 260.92,210.2 260.39,210.7 259.85,210.74 259.31,210.13 258.78,209.95 258.24,210.13 257.71,210.29 257.17,211.15 256.63,211.73 256.1,211.65 255.56,211.87 255.03,211.77 254.49,211.57 253.95,211.03 253.42,211.5 252.88,211.51 252.35,211.74 251.81,211.07 251.27,210.94 250.74,211.13 250.2,211.03 249.67,209.99 249.13,210.09 248.59,209.96 248.06,209.31 247.52,208.5 246.99,209.07 246.45,209.57 245.91,210.08 245.38,210.74 244.84,211.5 244.31,211.67 243.77,211.1 243.23,210.8 242.7,210.64 242.16,210.53 241.63,210.17 241.09,210.25 240.55,210.14 240.02,210.18 239.48,210.33 238.95,210.7 238.41,210.92 237.87,210.93 237.34,210.93 236.8,211.09 236.27,210.84 235.73,210.57 235.19,210.19 234.66,210.42 234.12,210.63 233.59,210.67 233.05,211.16 232.52,211.57 231.98,211.47 231.44,211.27 230.91,211.38 230.37,211.46 229.84,211.05 229.3,211.43 228.76,210.95 228.23,210.29 227.69,209.98 227.16,210.29 226.62,210.02 226.08,210.34 225.55,211.06 225.01,211.33 224.48,211.58 223.94,211.48 223.4,211.43 222.87,210.84 222.33,210.72 221.8,210.45 221.26,210.74 220.72,210.82 220.19,210.93 219.65,211.07 219.12,210.81 218.58,210.71 218.04,210.72 217.51,211.01 216.97,210.88 216.44,210.81 215.9,211.36 215.36,210.67 214.83,210.42 214.29,210.36 213.76,210.4 213.22,210.25 212.68,210.76 212.15,210.68 211.61,210.66 211.08,210.37 210.54,210.63 210,210.24 209.47,209.76 208.93,209.78 208.4,209.73 207.86,209.74 207.32,210.58 206.79,210.95 206.25,211 205.72,211.11 205.18,210.76 204.64,210.76 204.11,211.07 203.57,211.28 203.04,211.65 202.5,211.11" fill="#f07a84" fill-opacity="0.5"/>
<polyline points="202.5,209.93 203.04,209.87 203.57,210.43 204.11,209.9 204.64,209.84 205.18,209.62 205.72,209.3 206.25,208.72 206.79,208.96 207.32,209.5 207.86,210.5 208.4,211.03 208.93,211.53 209.47,211.37 210,211.49 210.54,210.85 211.08,210.59 211.61,210.66 212.15,210.91 212.68,210.07 213.22,210.24 213.76,210.45 214.29,210.53 214.83,209.87 215.36,210.54 215.9,210.29 216.44,209.7 216.97,210.06 217.51,210.19 218.04,210.1 218.58,210.68 219.12,211.19 219.65,210.46 220.19,210.71 220.72,210.56 221.26,210.47 221.8,210.01 222.33,209.78 222.87,209.41 223.4,209.27 223.94,208.6 224.48,208.4 225.01,208.61 225.55,208.86 226.08,208.97 226.62,209.32 227.16,209.64 227.69,210.26 228.23,210.58 228.76,210.61 229.3,211.29 229.84,211.89 230.37,211.05 230.91,211.24 231.44,211.49 231.98,210.86 232.52,210.62 233.05,211.25 233.59,211.12 234.12,211.12 234.66,211.37 235.19,211.2 235.73,210.58 236.27,210.36 236.8,209.84 237.34,209.51 237.87,209.35 238.41,209.61 238.95,209.79 239.48,210.1 240.02,210.22 240.55,210.72 241.09,210.69 241.63,210.47 242.16,210.49 242.7,210.71 243.23,211.16 243.77,211.13 244.31,211.46 244.84,212.27 245.38,212.06 245.91,211.56 246.45,211.75 246.99,211.76 247.52,210.9 248.06,211 248.59,210.74 249.13,210.88 249.67,210.53 250.2,211.14 250.74,210.89 251.27,210.78 251.81,210.96 252.35,211.27 252.88,211.04 253.42,211.32 253.95,211.25 254.49,211.28 255.03,211.08 255.56,210.72 256.1,210.56 256.63,210.4 257.17,210.23 257.71,210.24 258.24,209.84 258.78,209.99 259.31,210.42 259.85,210.39 260.39,210.41 260.92,211.2 261.46,211.26 261.99,211.67 262.53,211.93 263.07,212.34 263.6,212.47 264.14,212.51 264.67,211.88 265.21,211.7 265.75,211.77 266.28,211.41 266.82,211.24 267.35,211.77 267.89,211.63 268.43,211.56 268.96,211.78 269.5,212 270.03,211.43 270.57,211.67 271.11,211.47 271.64,211.26 272.18,210.8 272.71,210.7 273.25,210.74 273.79,210.35 274.32,210.31 274.86,210.27 275.39,210.29 275.93,210.16 276.47,210.45 277,210.59 277.54,210.79 278.07,210.63 278.61,210.48 279.15,210.65 279.68,209.92 280.22,210.26 280.75,210.68 281.29,210.69 281.83,210.84 282.36,211.28 282.9,210.74 283.43,210.76 283.97,210.73 284.51,210.44 285.04,211.09 285.58,211.29 286.11,211.58 286.65,211.84 287.19,211.69 287.72,210.99 288.26,211.27 288.79,210.65 289.33,209.95 289.87,210 290.4,210.25 290.94,209.97 291.47,210.36 292.01,211.02 292.55,210.89 293.08,210.68 293.62,210.86 294.15,210.85 294.69,210.78 295.23,211.12 295.76,211.54 296.3,211.79 296.83,211.45 297.37,211.38 297.91,211.17 298.44,210.46 298.98,210.2 299.51,210.27 300.05,210.52 300.58,210.69 301.12,210.97 301.66,210.9 302.19,211.41 302.73,211.45 303.26,211.2 303.8,211.61 304.34,211.36 304.87,210.92 305.41,210.61 305.94,210.71 306.48,210.27 307.02,210.43 307.55,210.74 308.09,210.56 308.62,210.63 309.16,210.87 309.7,210.73 310.23,210.4 310.77,210.22 311.3,210.17 311.84,210.22 312.38,210.44 312.91,210.43 313.45,210.88 313.98,210.92 314.52,211.01 315.06,211.11 315.59,211.24 316.13,210.43 316.66,210.42 317.2,210.14 317.74,209.91 318.27,209.9 318.81,210.5 319.34,209.9 319.88,210.02 320.42,209.64 320.95,209.43 321.49,209.64 322.02,210.29 322.56,210.33 323.1,211 323.63,210.87 324.17,210.54 324.7,210.24 325.24,210.37 325.78,209.98 326.31,210.39 326.85,209.88 327.38,210.03 327.92,209.7 328.46,209.7 328.99,209.68 329.53,210.38 330.06,210.45 330.6,210.3" fill="none" stroke="#78aef0" stroke-width="1.25" stroke-linejoin="round"/>
<polyline points="202.5,210.56 203.04,211.04 203.57,210.82 204.11,210.47 204.64,210.11 205.18,210.27 205.72,210.6 206.25,210.42 206.79,210.33 207.32,209.94 207.86,209.21 208.4,209.07 208.93,209.14 209.47,209.23 210,209.72 210.54,210.23 211.08,209.97 211.61,210.33 212.15,210.26 212.68,210.29 213.22,209.68 213.76,209.88 214.29,209.72 214.83,209.82 215.36,210.07 215.9,210.76 216.44,210.32 216.97,210.3 217.51,210.47 218.04,210.15 218.58,210.03 219.12,210.22 219.65,210.5 220.19,210.42 220.72,210.27 221.26,210.18 221.8,210.03 222.33,210.14 222.87,210.26 223.4,210.85 223.94,210.79 224.48,210.98 225.01,210.77 225.55,210.76 226.08,210.09 226.62,209.7 227.16,210.03 227.69,209.68 228.23,210.05 228.76,210.57 229.3,210.97 229.84,210.64 230.37,211.19 230.91,210.94 231.44,210.74 231.98,210.87 232.52,211.06 233.05,210.63 233.59,210.21 234.12,210.25 234.66,210.07 235.19,209.91 235.73,210.2 236.27,210.56 236.8,210.8 237.34,210.64 237.87,210.66 238.41,210.58 238.95,210.4 239.48,210.01 240.02,209.82 240.55,209.86 241.09,209.93 241.63,209.93 242.16,210.27 242.7,210.36 243.23,210.48 243.77,210.63 244.31,211.14 244.84,211.01 245.38,210.27 245.91,209.58 246.45,209.03 246.99,208.62 247.52,208.18 248.06,208.92 248.59,209.63 249.13,209.72 249.67,209.59 250.2,210.56 250.74,210.58 251.27,210.44 251.81,210.41 252.35,210.97 252.88,210.72 253.42,210.73 253.95,210.3 254.49,210.82 255.03,211.08 255.56,211.34 256.1,211.23 256.63,211.39 257.17,210.68 257.71,209.84 258.24,209.7 258.78,209.54 259.31,209.75 259.85,210.23 260.39,210.33 260.92,209.81 261.46,210.26 261.99,210.51 262.53,210.48 263.07,210.5 263.6,211.02 264.14,211.02 264.67,210.66 265.21,210.31 265.75,210.12 266.28,209.74 266.82,209.21 267.35,209.8 267.89,210.52 268.43,210.87 268.96,211.34 269.5,211.9 270.03,211.39 270.57,211.33 271.11,211.26 271.64,211.48 272.18,211.47 272.71,211.15 273.25,210.97 273.79,210.77 274.32,210.08 274.86,209.96 275.39,210.16 275.93,209.97 276.47,209.87 277,210.21 277.54,210.45 278.07,210.85 278.61,211.04 279.15,211.08 279.68,210.97 280.22,210.71 280.75,210.5 281.29,210.09 281.83,210.36 282.36,209.93 282.9,210.14 283.43,210.25 283.97,210.31 284.51,210.03 285.04,210.63 285.58,210.35 286.11,210.38 286.65,210.38 287.19,210.37 287.72,210.34 288.26,210.21 288.79,210.12 289.33,210.35 289.87,210.47 290.4,210.44 290.94,210.43 291.47,210.22 292.01,210.1 292.55,209.84 293.08,209.76 293.62,210.24 294.15,210.48 294.69,210.54 295.23,210.81 295.76,210.59 296.3,210.02 296.83,209.93 297.37,210 297.91,210.26 298.44,210.14 298.98,210.41 299.51,210.65 300.05,210.91 300.58,210.76 301.12,210.63 301.66,210.37 302.19,210.52 302.73,210.28 303.26,210.11 303.8,210.34 304.34,210.45 304.87,210.18 305.41,210.05 305.94,210.25 306.48,210.97 307.02,211.24 307.55,211.25 308.09,211.11 308.62,210.71 309.16,210.41 309.7,210.19 310.23,209.99 310.77,210.59 311.3,211.37 311.84,211.13 312.38,211.14 312.91,211.31 313.45,211.63 313.98,211.13 314.52,211.25 315.06,211.5 315.59,211.44 316.13,211.04 316.66,210.89 317.2,210.74 317.74,210.66 318.27,210.51 318.81,210.23 319.34,210.76 319.88,210.79 320.42,210.77 320.95,211.28 321.49,211.43 322.02,210.94 322.56,211.06 323.1,210.6 323.63,209.73 324.17,209.65 324.7,209.61 325.24,208.96 325.78,209.4 326.31,210.05 326.85,210.08 327.38,210.56 327.92,211.4 328.46,211.26 328.99,211.14 329.53,210.97 330.06,210.51 330.6,210.36" fill="none" stroke="#ee2a33" stroke-width="1.5" stroke-linejoin="round"/>
</g>
<line x1="245.2" y1="169" x2="245.2" y2="252.6" stroke="#1a1a1a" stroke-width="1.15" stroke-dasharray="2.4 1.8" />
<line x1="202.5" y1="167.5" x2="202.5" y2="253.2" stroke="#111" stroke-width="1.25" />
<line x1="201.9" y1="252.6" x2="331.2" y2="252.6" stroke="#111" stroke-width="1.25" />
<line x1="199.5" y1="168" x2="202.5" y2="168" stroke="#111" stroke-width="1.1" />
<text x="198.5" y="170.4" font-size="6.7" font-weight="bold" text-anchor="end" fill="#222" >2</text>
<line x1="199.5" y1="189.15" x2="202.5" y2="189.15" stroke="#111" stroke-width="1.1" />
<text x="198.5" y="191.55" font-size="6.7" font-weight="bold" text-anchor="end" fill="#222" >1</text>
<line x1="199.5" y1="210.3" x2="202.5" y2="210.3" stroke="#111" stroke-width="1.1" />
<text x="198.5" y="212.7" font-size="6.7" font-weight="bold" text-anchor="end" fill="#222" >0</text>
<line x1="199.5" y1="231.45" x2="202.5" y2="231.45" stroke="#111" stroke-width="1.1" />
<text x="198.5" y="233.85" font-size="6.7" font-weight="bold" text-anchor="end" fill="#222" >-1</text>
<line x1="199.5" y1="252.6" x2="202.5" y2="252.6" stroke="#111" stroke-width="1.1" />
<text x="198.5" y="255" font-size="6.7" font-weight="bold" text-anchor="end" fill="#222" >-2</text>
<line x1="202.5" y1="252.6" x2="202.5" y2="255.6" stroke="#111" stroke-width="1.1" />
<text x="201.7" y="263.6" font-size="6.7" font-weight="bold" text-anchor="middle" fill="#222" >-10</text>
<line x1="245.2" y1="252.6" x2="245.2" y2="255.6" stroke="#111" stroke-width="1.1" />
<text x="245.2" y="263.6" font-size="6.7" font-weight="bold" text-anchor="middle" fill="#222" >0</text>
<line x1="287.9" y1="252.6" x2="287.9" y2="255.6" stroke="#111" stroke-width="1.1" />
<text x="287.9" y="263.6" font-size="6.7" font-weight="bold" text-anchor="middle" fill="#222" >10</text>
<line x1="330.6" y1="252.6" x2="330.6" y2="255.6" stroke="#111" stroke-width="1.1" />
<text x="330.6" y="263.6" font-size="6.7" font-weight="bold" text-anchor="middle" fill="#222" >20</text>
<text x="267.1" y="275" font-size="8.4" font-weight="bold" text-anchor="middle" fill="#222" >Time (s)</text>
<text x="188.7" y="210.5" font-size="7.9" font-weight="bold" text-anchor="middle" fill="#222" transform="rotate(-90 188.7 210.5)" >&#916;<tspan font-style="italic">F/F</tspan> (%)</text>
<text x="242.9" y="171.7" font-size="8.15" font-weight="bold" text-anchor="end" fill="#111" >Approach</text>
<text x="247" y="171.7" font-size="8.2" font-weight="bold" text-anchor="start" fill="#111" >Consumption</text>
<text x="237.5" y="142.1" font-size="8.3" font-weight="bold" fill="#111">PVN<tspan dy="-3.2" font-size="6.0">VGlut2:EGFP</tspan></text>
<line x1="211" y1="157.3" x2="220.1" y2="157.3" stroke="#ee3c44" stroke-width="1.3" />
<text x="225.8" y="160.3" font-size="8.3" font-weight="bold" text-anchor="start" fill="#111" >Chow</text>
<line x1="256.9" y1="157.3" x2="265.6" y2="157.3" stroke="#8ab8f0" stroke-width="1.3" />
<text x="270.5" y="160.3" font-size="8.3" font-weight="bold" text-anchor="start" fill="#111" >Object</text>
<rect x="411.8" y="172.3" width="8.2" height="81.1" fill="#d6d6d6" />
<rect x="423.2" y="172.3" width="18.6" height="81.1" fill="#d6d6d6" />
<line x1="378.8" y1="231.97" x2="507.2" y2="231.97" stroke="#222" stroke-width="0.9" stroke-dasharray="2.6 2.2" />
<clipPath id="cL"><rect x="378.8" y="163.7" width="130.4" height="89.7"/></clipPath>
<g clip-path="url(#cL)">
<polygon points="378.8,222.95 379.34,224.75 379.87,226.73 380.41,229.01 380.95,231.05 381.49,229.03 382.02,224.59 382.56,219.8 383.1,219.33 383.64,220.16 384.17,219.09 384.71,220.03 385.25,221.95 385.78,222.85 386.32,222.61 386.86,221.72 387.4,221.54 387.93,221.58 388.47,221.27 389.01,221.75 389.54,222.02 390.08,221.49 390.62,221.49 391.16,220.71 391.69,221.35 392.23,221.59 392.77,221.12 393.31,221.28 393.84,221.06 394.38,221.76 394.92,220.85 395.45,220.45 395.99,221.29 396.53,221.31 397.07,221.71 397.6,220.81 398.14,220.62 398.68,221.94 399.22,224.04 399.75,224.82 400.29,225.71 400.83,225.85 401.36,225.49 401.9,224.67 402.44,224.2 402.98,225.42 403.51,225.2 404.05,223.98 404.59,224.96 405.12,227.32 405.66,229 406.2,228.57 406.74,227.86 407.27,229.31 407.81,230.84 408.35,231.39 408.89,231.36 409.42,232.83 409.96,233.7 410.5,233.15 411.03,232.75 411.57,233.38 412.11,232.73 412.65,230.95 413.18,228.16 413.72,227.68 414.26,225.94 414.79,223.85 415.33,223.45 415.87,223.34 416.41,224.12 416.94,223.66 417.48,221.58 418.02,221.84 418.56,220.47 419.09,218.79 419.63,216.21 420.17,214.33 420.7,218.43 421.24,221.51 421.78,223.39 422.32,225.47 422.85,226.74 423.39,228.85 423.93,228.94 424.47,230.74 425,230.41 425.54,230.91 426.08,231.32 426.61,232.52 427.15,234.33 427.69,235.95 428.23,236.41 428.76,235.68 429.3,234.86 429.84,233.85 430.37,233.56 430.91,233.01 431.45,233.41 431.99,233.03 432.52,231.56 433.06,230.51 433.6,229.87 434.14,227.96 434.67,225.87 435.21,223.87 435.75,223.05 436.28,224.01 436.82,224.31 437.36,222.62 437.9,222.46 438.43,221.17 438.97,223.6 439.51,222.84 440.05,224.05 440.58,224.22 441.12,224.88 441.66,225.46 442.19,225.19 442.73,224.32 443.27,224.88 443.81,226.36 444.34,226.37 444.88,226.83 445.42,228.12 445.95,229.69 446.49,231.14 447.03,232.32 447.57,232.68 448.1,231.87 448.64,230.58 449.18,231.89 449.72,229.26 450.25,228.15 450.79,227.06 451.33,226.64 451.86,224.72 452.4,222.51 452.94,223.38 453.48,224.95 454.01,227.26 454.55,229.18 455.09,230.58 455.63,232.47 456.16,232.46 456.7,231.4 457.24,230.73 457.77,229.69 458.31,228.08 458.85,226.41 459.39,225 459.92,225.26 460.46,223.33 461,222.43 461.53,223.79 462.07,223.32 462.61,223.77 463.15,224.23 463.68,224.86 464.22,224.53 464.76,223.9 465.3,222.9 465.83,221.25 466.37,221.58 466.91,222.83 467.44,223.99 467.98,223.4 468.52,223.38 469.06,222.92 469.59,222.69 470.13,222.32 470.67,224.06 471.21,224.89 471.74,225.76 472.28,225.71 472.82,225.06 473.35,226.05 473.89,225.36 474.43,225.81 474.97,224.73 475.5,223.97 476.04,224.1 476.58,222.68 477.11,223.52 477.65,223.15 478.19,223.92 478.73,223.87 479.26,224.04 479.8,224.25 480.34,223.51 480.88,222.38 481.41,223.37 481.95,223.17 482.49,223.61 483.02,223.54 483.56,223.47 484.1,222.74 484.64,222.48 485.17,223.09 485.71,222.34 486.25,221.76 486.78,221.12 487.32,221.86 487.86,220.5 488.4,220.16 488.93,220.86 489.47,220.66 490.01,220.31 490.55,219.74 491.08,220.32 491.62,221.32 492.16,221.27 492.69,221.53 493.23,221.77 493.77,222.36 494.31,221.87 494.84,222.72 495.38,223.55 495.92,225.09 496.46,224.81 496.99,225.5 497.53,226.08 498.07,226.71 498.6,226.2 499.14,225.95 499.68,227.58 500.22,227.04 500.75,226.68 501.29,224.42 501.83,224.41 502.36,224.21 502.9,221.79 503.44,220.98 503.98,220.07 504.51,221.08 505.05,223.16 505.59,224.36 506.13,227.54 506.66,226.73 507.2,229.73 507.2,237.62 506.66,236.08 506.13,234.01 505.59,235.29 505.05,235.22 504.51,233.1 503.98,231.94 503.44,231.9 502.9,233.31 502.36,231.86 501.83,231.89 501.29,231.46 500.75,230.56 500.22,230.47 499.68,231.01 499.14,232.59 498.6,232.68 498.07,232.54 497.53,232.66 496.99,233.06 496.46,232.37 495.92,231.41 495.38,231.86 494.84,232.53 494.31,231.55 493.77,231.26 493.23,230.94 492.69,231.35 492.16,229.48 491.62,228.16 491.08,228.28 490.55,229.35 490.01,229.24 489.47,228.98 488.93,229.6 488.4,230.7 487.86,231.4 487.32,231.3 486.78,233.08 486.25,233.78 485.71,233.44 485.17,232.27 484.64,232.5 484.1,232.58 483.56,232.78 483.02,232.75 482.49,233.57 481.95,233.69 481.41,233.02 480.88,233.16 480.34,232.45 479.8,232.87 479.26,233.04 478.73,232.08 478.19,232.58 477.65,231.67 477.11,232.63 476.58,232.18 476.04,233.29 475.5,234.15 474.97,234.63 474.43,234.43 473.89,234.45 473.35,234.15 472.82,233.46 472.28,232.73 471.74,232.76 471.21,232.72 470.67,232.06 470.13,232.23 469.59,231.71 469.06,232.53 468.52,232.26 467.98,233.19 467.44,232.27 466.91,232.27 466.37,230.67 465.83,230.2 465.3,229.41 464.76,229.64 464.22,229.42 463.68,228.28 463.15,227.67 462.61,227.2 462.07,228.19 461.53,229.97 461,232.48 460.46,232.93 459.92,233.54 459.39,235.52 458.85,237.07 458.31,237.21 457.77,237.65 457.24,238.89 456.7,240.83 456.16,240.89 455.63,239.3 455.09,237.88 454.55,235.44 454.01,234.05 453.48,231.53 452.94,230.85 452.4,233.91 451.86,233.54 451.33,234.18 450.79,235.81 450.25,236.63 449.72,235.99 449.18,235.54 448.64,237.59 448.1,239.32 447.57,240.45 447.03,242.06 446.49,241.37 445.95,240.32 445.42,239.07 444.88,238.71 444.34,237.58 443.81,236.96 443.27,237.28 442.73,236.05 442.19,235 441.66,234.22 441.12,234.6 440.58,232.24 440.05,230.95 439.51,229.99 438.97,229.38 438.43,230.26 437.9,230.63 437.36,231.52 436.82,232.45 436.28,232.84 435.75,234.35 435.21,234.29 434.67,236.45 434.14,236.76 433.6,239.21 433.06,239.21 432.52,240.02 431.99,239.71 431.45,241 430.91,241.78 430.37,241.88 429.84,241.89 429.3,242.14 428.76,242.49 428.23,242.55 427.69,244.31 427.15,244.16 426.61,244.19 426.08,243.38 425.54,243.39 425,242.48 424.47,240.92 423.93,237.92 423.39,235.34 422.85,232.46 422.32,230.73 421.78,228.35 421.24,226.59 420.7,224.35 420.17,224.31 419.63,225.45 419.09,227.22 418.56,229.16 418.02,230.28 417.48,230.23 416.94,229.68 416.41,230.15 415.87,231.94 415.33,232.46 414.79,232.96 414.26,232.72 413.72,234.07 413.18,236.6 412.65,236.89 412.11,236.34 411.57,236.81 411.03,237.45 410.5,237.4 409.96,237.44 409.42,238.71 408.89,239.85 408.35,239.52 407.81,239.2 407.27,238.97 406.74,238.15 406.2,236.73 405.66,235.71 405.12,234.54 404.59,233.2 404.05,232.33 403.51,232.54 402.98,233.47 402.44,233.25 401.9,233.11 401.36,233.19 400.83,233.8 400.29,234.15 399.75,234.42 399.22,234.79 398.68,233.76 398.14,233.38 397.6,233.18 397.07,233.86 396.53,233.01 395.99,231.56 395.45,230.51 394.92,229.39 394.38,228.96 393.84,228.67 393.31,230.6 392.77,232.13 392.23,233.86 391.69,234.49 391.16,234.78 390.62,233.99 390.08,233.66 389.54,231.67 389.01,230.65 388.47,229.25 387.93,230.18 387.4,230.83 386.86,231.75 386.32,230.61 385.78,230.01 385.25,230.69 384.71,231.31 384.17,230.73 383.64,228.2 383.1,228.67 382.56,230.09 382.02,233.59 381.49,235.16 380.95,238.08 380.41,237.17 379.87,237.23 379.34,236.91 378.8,234.59" fill="#82b6f6" fill-opacity="0.6"/>
<polygon points="378.8,215.11 379.34,217.84 379.87,220.06 380.41,223.87 380.95,227.44 381.49,230.62 382.02,232.07 382.56,233.42 383.1,232.1 383.64,232.9 384.17,231.22 384.71,232.04 385.25,230.42 385.78,230.18 386.32,229.58 386.86,230.15 387.4,230.46 387.93,229.57 388.47,229.8 389.01,230.18 389.54,229.53 390.08,230.35 390.62,231.2 391.16,231.01 391.69,227.6 392.23,225.82 392.77,228.77 393.31,230.01 393.84,229.44 394.38,229.25 394.92,231.21 395.45,230.04 395.99,227.5 396.53,225.84 397.07,226.08 397.6,227.58 398.14,228.07 398.68,227.02 399.22,225.96 399.75,223.78 400.29,220.84 400.83,222.1 401.36,221.73 401.9,222.85 402.44,220.69 402.98,221.91 403.51,222.59 404.05,222.08 404.59,223 405.12,223.69 405.66,225.23 406.2,224.48 406.74,225.11 407.27,224.49 407.81,224.17 408.35,223.59 408.89,224.62 409.42,224.06 409.96,223.72 410.5,225.45 411.03,226.6 411.57,227.76 412.11,226 412.65,224.93 413.18,225.21 413.72,222.5 414.26,220.84 414.79,220.39 415.33,221.72 415.87,223.7 416.41,222.76 416.94,221.83 417.48,221.06 418.02,220.45 418.56,221.32 419.09,220.55 419.63,222.09 420.17,220.76 420.7,218.13 421.24,218.2 421.78,218.62 422.32,218.68 422.85,218.11 423.39,219.09 423.93,220.36 424.47,221.13 425,220.78 425.54,221.39 426.08,220.75 426.61,221.6 427.15,221.71 427.69,223.02 428.23,225.55 428.76,226.17 429.3,225.91 429.84,225.63 430.37,225.94 430.91,222.31 431.45,219.78 431.99,219.85 432.52,219.76 433.06,221.69 433.6,221.36 434.14,223.38 434.67,223 435.21,225.07 435.75,227.51 436.28,230.68 436.82,229.84 437.36,230.2 437.9,231.64 438.43,233.3 438.97,233.51 439.51,233.45 440.05,233.68 440.58,234.19 441.12,233.78 441.66,234.21 442.19,234.04 442.73,233.6 443.27,234.44 443.81,235.49 444.34,235.63 444.88,233.52 445.42,232.94 445.95,234.72 446.49,236.29 447.03,235.66 447.57,234.56 448.1,235.05 448.64,235.11 449.18,233.91 449.72,231.72 450.25,234.31 450.79,234.4 451.33,234.81 451.86,236.02 452.4,236.03 452.94,235.71 453.48,235.11 454.01,234.62 454.55,232 455.09,229.38 455.63,227.14 456.16,226.88 456.7,228.07 457.24,227.88 457.77,227 458.31,227 458.85,227.55 459.39,227.7 459.92,224.84 460.46,226.01 461,226.75 461.53,227.3 462.07,226.63 462.61,226.5 463.15,227.61 463.68,226.38 464.22,224.35 464.76,224.08 465.3,224.06 465.83,225.26 466.37,226.32 466.91,227.77 467.44,230.75 467.98,230.72 468.52,232.35 469.06,231.9 469.59,231.4 470.13,231.76 470.67,231.79 471.21,231.5 471.74,228.76 472.28,227.67 472.82,226.91 473.35,225.69 473.89,223.65 474.43,224.47 474.97,225 475.5,224.85 476.04,225.63 476.58,226.23 477.11,226.41 477.65,225.66 478.19,226.6 478.73,227.04 479.26,226.08 479.8,227.35 480.34,227.63 480.88,227.49 481.41,225.39 481.95,225.87 482.49,226.83 483.02,228.72 483.56,228.19 484.1,227.35 484.64,228.95 485.17,230.89 485.71,232.93 486.25,230.02 486.78,230.42 487.32,230.4 487.86,228.84 488.4,227.39 488.93,225.71 489.47,225.83 490.01,226.23 490.55,224.18 491.08,224.33 491.62,225.86 492.16,226.8 492.69,226.89 493.23,225.33 493.77,225.82 494.31,224.65 494.84,222.31 495.38,219.92 495.92,220.44 496.46,219.54 496.99,221.53 497.53,224.13 498.07,226.11 498.6,228.32 499.14,227.43 499.68,229.75 500.22,230.28 500.75,231.18 501.29,230.62 501.83,231.67 502.36,231.37 502.9,229.77 503.44,229.53 503.98,229.11 504.51,229.73 505.05,229.74 505.59,231.56 506.13,233.07 506.66,233.28 507.2,233.91 507.2,243.87 506.66,242.35 506.13,240.44 505.59,239.04 505.05,239.51 504.51,237.19 503.98,236.8 503.44,238.26 502.9,239.22 502.36,239.42 501.83,238.66 501.29,240.16 500.75,241.1 500.22,242.05 499.68,241.93 499.14,241.52 498.6,240.59 498.07,240.05 497.53,239.6 496.99,238.28 496.46,238.61 495.92,237.8 495.38,239.93 494.84,239.75 494.31,238.54 493.77,238.52 493.23,239.71 492.69,238.99 492.16,239.81 491.62,238.69 491.08,238.89 490.55,238.62 490.01,236.08 489.47,237.62 488.93,238.09 488.4,237.35 487.86,237.96 487.32,237.49 486.78,240.58 486.25,241.05 485.71,238.97 485.17,239.19 484.64,238.47 484.1,239.49 483.56,237.29 483.02,237.35 482.49,235.84 481.95,235.18 481.41,234.96 480.88,236.51 480.34,237.26 479.8,238.85 479.26,240.72 478.73,242.06 478.19,241.71 477.65,244.27 477.11,243.75 476.58,243.42 476.04,242.11 475.5,240.98 474.97,240.2 474.43,237.98 473.89,239.75 473.35,239.24 472.82,241.09 472.28,242.45 471.74,244.17 471.21,243.27 470.67,242.86 470.13,243.42 469.59,241.8 469.06,242.09 468.52,240.68 467.98,240.83 467.44,239.77 466.91,239.9 466.37,239.99 465.83,238.55 465.3,238.3 464.76,237.43 464.22,236.51 463.68,234.43 463.15,232.75 462.61,233.3 462.07,232.39 461.53,232.45 461,233.51 460.46,233.74 459.92,236.49 459.39,234.47 458.85,235.84 458.31,237.24 457.77,239.04 457.24,239.62 456.7,239.22 456.16,242.66 455.63,243.31 455.09,244.01 454.55,242.55 454.01,242.8 453.48,241.48 452.94,240.85 452.4,241.17 451.86,242.35 451.33,244.63 450.79,246.46 450.25,247.41 449.72,249.37 449.18,246.81 448.64,246.72 448.1,247.71 447.57,248.57 447.03,247.86 446.49,247.09 445.95,247.69 445.42,246.93 444.88,247.76 444.34,246.94 443.81,247.85 443.27,246.74 442.73,246.31 442.19,246.16 441.66,245.24 441.12,245.14 440.58,244.96 440.05,244.37 439.51,244.61 438.97,243.16 438.43,244.65 437.9,246.04 437.36,246.99 436.82,246.43 436.28,245.1 435.75,242.81 435.21,238.87 434.67,234.63 434.14,232.19 433.6,233.27 433.06,231.14 432.52,229.15 431.99,228.69 431.45,230.62 430.91,231.91 430.37,231.08 429.84,233.69 429.3,234.16 428.76,234.99 428.23,234.56 427.69,235.79 427.15,235.15 426.61,234.49 426.08,235.35 425.54,236.14 425,235.48 424.47,233.44 423.93,232.88 423.39,233.67 422.85,233.66 422.32,230.72 421.78,229.74 421.24,229.44 420.7,230.09 420.17,228.66 419.63,227.42 419.09,229.42 418.56,228.37 418.02,228.58 417.48,230.05 416.94,232.36 416.41,235.26 415.87,234.86 415.33,234.29 414.79,233.49 414.26,234.18 413.72,235.32 413.18,235.62 412.65,238.58 412.11,240.31 411.57,240.51 411.03,239.66 410.5,240.22 409.96,240.18 409.42,239.16 408.89,238.16 408.35,239.12 407.81,238.28 407.27,237.29 406.74,237.33 406.2,237.16 405.66,237.08 405.12,237.78 404.59,239.24 404.05,239.29 403.51,238.45 402.98,238.94 402.44,240.93 401.9,239.6 401.36,239.05 400.83,237.24 400.29,236.29 399.75,235.01 399.22,235.72 398.68,238.3 398.14,237.43 397.6,237.52 397.07,238.48 396.53,241.69 395.99,241.33 395.45,241.02 394.92,242.31 394.38,245.5 393.84,243.74 393.31,239.87 392.77,237.72 392.23,239.63 391.69,239.9 391.16,238.77 390.62,239.05 390.08,240.74 389.54,241.09 389.01,240.85 388.47,241 387.93,242.46 387.4,242.29 386.86,243.1 386.32,243.11 385.78,244.08 385.25,243.41 384.71,242.06 384.17,241.98 383.64,239.69 383.1,239.6 382.56,238.56 382.02,238.43 381.49,237.04 380.95,234.82 380.41,234.28 379.87,232.86 379.34,231.62 378.8,229.24" fill="#f07a84" fill-opacity="0.5"/>
<polyline points="378.8,228.77 379.34,230.83 379.87,231.98 380.41,233.09 380.95,234.57 381.49,232.09 382.02,229.09 382.56,224.95 383.1,224 383.64,224.18 384.17,224.91 384.71,225.67 385.25,226.32 385.78,226.43 386.32,226.61 386.86,226.73 387.4,226.19 387.93,225.88 388.47,225.26 389.01,226.2 389.54,226.85 390.08,227.58 390.62,227.74 391.16,227.75 391.69,227.92 392.23,227.72 392.77,226.62 393.31,225.94 393.84,224.86 394.38,225.36 394.92,225.12 395.45,225.48 395.99,226.42 396.53,227.16 397.07,227.79 397.6,227 398.14,227 398.68,227.85 399.22,229.42 399.75,229.62 400.29,229.93 400.83,229.83 401.36,229.34 401.9,228.89 402.44,228.73 402.98,229.45 403.51,228.87 404.05,228.16 404.59,229.08 405.12,230.93 405.66,232.36 406.2,232.65 406.74,233.01 407.27,234.14 407.81,235.02 408.35,235.46 408.89,235.61 409.42,235.77 409.96,235.57 410.5,235.28 411.03,235.1 411.57,235.09 412.11,234.53 412.65,233.92 413.18,232.38 413.72,230.87 414.26,229.33 414.79,228.41 415.33,227.96 415.87,227.64 416.41,227.13 416.94,226.67 417.48,225.91 418.02,226.06 418.56,224.82 419.09,223 419.63,220.83 420.17,219.32 420.7,221.39 421.24,224.05 421.78,225.87 422.32,228.1 422.85,229.6 423.39,232.1 423.93,233.43 424.47,235.83 425,236.44 425.54,237.15 426.08,237.35 426.61,238.35 427.15,239.25 427.69,240.13 428.23,239.48 428.76,239.09 429.3,238.5 429.84,237.87 430.37,237.72 430.91,237.4 431.45,237.21 431.99,236.37 432.52,235.79 433.06,234.86 433.6,234.54 434.14,232.36 434.67,231.16 435.21,229.08 435.75,228.7 436.28,228.43 436.82,228.38 437.36,227.07 437.9,226.54 438.43,225.72 438.97,226.49 439.51,226.42 440.05,227.5 440.58,228.23 441.12,229.74 441.66,229.84 442.19,230.09 442.73,230.18 443.27,231.08 443.81,231.66 444.34,231.97 444.88,232.77 445.42,233.59 445.95,235 446.49,236.25 447.03,237.19 447.57,236.57 448.1,235.6 448.64,234.08 449.18,233.71 449.72,232.62 450.25,232.39 450.79,231.43 451.33,230.41 451.86,229.13 452.4,228.21 452.94,227.12 453.48,228.24 454.01,230.66 454.55,232.31 455.09,234.23 455.63,235.88 456.16,236.68 456.7,236.11 457.24,234.81 457.77,233.67 458.31,232.65 458.85,231.74 459.39,230.26 459.92,229.4 460.46,228.13 461,227.46 461.53,226.88 462.07,225.75 462.61,225.48 463.15,225.95 463.68,226.57 464.22,226.97 464.76,226.77 465.3,226.16 465.83,225.72 466.37,226.13 466.91,227.55 467.44,228.13 467.98,228.3 468.52,227.82 469.06,227.72 469.59,227.2 470.13,227.27 470.67,228.06 471.21,228.8 471.74,229.26 472.28,229.22 472.82,229.26 473.35,230.1 473.89,229.91 474.43,230.12 474.97,229.68 475.5,229.06 476.04,228.7 476.58,227.43 477.11,228.08 477.65,227.41 478.19,228.25 478.73,227.98 479.26,228.54 479.8,228.56 480.34,227.98 480.88,227.77 481.41,228.19 481.95,228.43 482.49,228.59 483.02,228.15 483.56,228.12 484.1,227.66 484.64,227.49 485.17,227.68 485.71,227.89 486.25,227.77 486.78,227.1 487.32,226.58 487.86,225.95 488.4,225.43 488.93,225.23 489.47,224.82 490.01,224.78 490.55,224.55 491.08,224.3 491.62,224.74 492.16,225.38 492.69,226.44 493.23,226.36 493.77,226.81 494.31,226.71 494.84,227.62 495.38,227.7 495.92,228.25 496.46,228.59 496.99,229.28 497.53,229.37 498.07,229.63 498.6,229.44 499.14,229.27 499.68,229.3 500.22,228.76 500.75,228.62 501.29,227.94 501.83,228.15 502.36,228.04 502.9,227.55 503.44,226.44 503.98,226 504.51,227.09 505.05,229.19 505.59,229.82 506.13,230.78 506.66,231.41 507.2,233.67" fill="none" stroke="#78aef0" stroke-width="1.25" stroke-linejoin="round"/>
<polyline points="378.8,222.17 379.34,224.73 379.87,226.46 380.41,229.08 380.95,231.13 381.49,233.83 382.02,235.25 382.56,235.99 383.1,235.85 383.64,236.3 384.17,236.6 384.71,237.05 385.25,236.91 385.78,237.13 386.32,236.34 386.86,236.63 387.4,236.37 387.93,236.01 388.47,235.4 389.01,235.51 389.54,235.31 390.08,235.55 390.62,235.13 391.16,234.89 391.69,233.75 392.23,232.73 392.77,233.24 393.31,234.94 393.84,236.59 394.38,237.37 394.92,236.76 395.45,235.53 395.99,234.42 396.53,233.77 397.07,232.28 397.6,232.55 398.14,232.75 398.68,232.66 399.22,230.84 399.75,229.39 400.29,228.57 400.83,229.67 401.36,230.39 401.9,231.23 402.44,230.81 402.98,230.42 403.51,230.52 404.05,230.69 404.59,231.12 405.12,230.74 405.66,231.15 406.2,230.82 406.74,231.22 407.27,230.89 407.81,231.22 408.35,231.36 408.89,231.39 409.42,231.61 409.96,231.95 410.5,232.83 411.03,233.13 411.57,234.13 412.11,233.16 412.65,231.75 413.18,230.41 413.72,228.91 414.26,227.51 414.79,226.94 415.33,228 415.87,229.28 416.41,229.01 416.94,227.1 417.48,225.56 418.02,224.51 418.56,224.85 419.09,224.99 419.63,224.75 420.17,224.71 420.7,224.11 421.24,223.82 421.78,224.18 422.32,224.7 422.85,225.88 423.39,226.38 423.93,226.62 424.47,227.29 425,228.13 425.54,228.77 426.08,228.05 426.61,228.04 427.15,228.43 427.69,229.41 428.23,230.06 428.76,230.58 429.3,230.04 429.84,229.66 430.37,228.51 430.91,227.11 431.45,225.2 431.99,224.27 432.52,224.46 433.06,226.42 433.6,227.31 434.14,227.78 434.67,228.82 435.21,231.97 435.75,235.16 436.28,237.89 436.82,238.14 437.36,238.6 437.9,238.84 438.43,238.98 438.97,238.34 439.51,239.03 440.05,239.02 440.58,239.58 441.12,239.46 441.66,239.73 442.19,240.1 442.73,239.95 443.27,240.59 443.81,241.67 444.34,241.29 444.88,240.64 445.42,239.94 445.95,241.21 446.49,241.69 447.03,241.76 447.57,241.57 448.1,241.38 448.64,240.91 449.18,240.36 449.72,240.55 450.25,240.86 450.79,240.43 451.33,239.72 451.86,239.18 452.4,238.6 452.94,238.28 453.48,238.3 454.01,238.71 454.55,237.28 455.09,236.7 455.63,235.22 456.16,234.77 456.7,233.65 457.24,233.75 457.77,233.02 458.31,232.12 458.85,231.69 459.39,231.09 459.92,230.67 460.46,229.88 461,230.13 461.53,229.87 462.07,229.51 462.61,229.9 463.15,230.18 463.68,230.41 464.22,230.43 464.76,230.76 465.3,231.18 465.83,231.91 466.37,233.15 466.91,233.84 467.44,235.26 467.98,235.77 468.52,236.51 469.06,237 469.59,236.6 470.13,237.59 470.67,237.32 471.21,237.39 471.74,236.46 472.28,235.06 472.82,234 473.35,232.47 473.89,231.7 474.43,231.23 474.97,232.6 475.5,232.92 476.04,233.87 476.58,234.82 477.11,235.08 477.65,234.97 478.19,234.16 478.73,234.55 479.26,233.4 479.8,233.1 480.34,232.44 480.88,232 481.41,230.18 481.95,230.52 482.49,231.33 483.02,233.03 483.56,232.74 484.1,233.42 484.64,233.71 485.17,235.04 485.71,235.95 486.25,235.54 486.78,235.5 487.32,233.94 487.86,233.4 488.4,232.37 488.93,231.9 489.47,231.72 490.01,231.16 490.55,231.4 491.08,231.61 491.62,232.27 492.16,233.3 492.69,232.94 493.23,232.52 493.77,232.17 494.31,231.6 494.84,231.03 495.38,229.93 495.92,229.12 496.46,229.08 496.99,229.91 497.53,231.87 498.07,233.08 498.6,234.46 499.14,234.48 499.68,235.84 500.22,236.16 500.75,236.14 501.29,235.39 501.83,235.16 502.36,235.39 502.9,234.5 503.44,233.89 503.98,232.96 504.51,233.46 505.05,234.63 505.59,235.3 506.13,236.75 506.66,237.82 507.2,238.89" fill="none" stroke="#ee2a33" stroke-width="1.5" stroke-linejoin="round"/>
</g>
<line x1="421.6" y1="168.7" x2="421.6" y2="253.4" stroke="#1a1a1a" stroke-width="1.15" stroke-dasharray="2.4 1.8" />
<line x1="378.8" y1="167.2" x2="378.8" y2="254" stroke="#111" stroke-width="1.25" />
<line x1="378.2" y1="253.4" x2="507.8" y2="253.4" stroke="#111" stroke-width="1.25" />
<line x1="375.8" y1="167.7" x2="378.8" y2="167.7" stroke="#111" stroke-width="1.1" />
<text x="374.8" y="170.1" font-size="6.7" font-weight="bold" text-anchor="end" fill="#222" >6</text>
<line x1="375.8" y1="189.12" x2="378.8" y2="189.12" stroke="#111" stroke-width="1.1" />
<text x="374.8" y="191.53" font-size="6.7" font-weight="bold" text-anchor="end" fill="#222" >4</text>
<line x1="375.8" y1="210.55" x2="378.8" y2="210.55" stroke="#111" stroke-width="1.1" />
<text x="374.8" y="212.95" font-size="6.7" font-weight="bold" text-anchor="end" fill="#222" >2</text>
<line x1="375.8" y1="231.97" x2="378.8" y2="231.97" stroke="#111" stroke-width="1.1" />
<text x="374.8" y="234.38" font-size="6.7" font-weight="bold" text-anchor="end" fill="#222" >0</text>
<line x1="375.8" y1="253.4" x2="378.8" y2="253.4" stroke="#111" stroke-width="1.1" />
<text x="374.8" y="255.8" font-size="6.7" font-weight="bold" text-anchor="end" fill="#222" >-2</text>
<line x1="378.8" y1="253.4" x2="378.8" y2="256.4" stroke="#111" stroke-width="1.1" />
<text x="378" y="264.4" font-size="6.7" font-weight="bold" text-anchor="middle" fill="#222" >-10</text>
<line x1="421.6" y1="253.4" x2="421.6" y2="256.4" stroke="#111" stroke-width="1.1" />
<text x="421.6" y="264.4" font-size="6.7" font-weight="bold" text-anchor="middle" fill="#222" >0</text>
<line x1="464.4" y1="253.4" x2="464.4" y2="256.4" stroke="#111" stroke-width="1.1" />
<text x="464.4" y="264.4" font-size="6.7" font-weight="bold" text-anchor="middle" fill="#222" >10</text>
<line x1="507.2" y1="253.4" x2="507.2" y2="256.4" stroke="#111" stroke-width="1.1" />
<text x="507.2" y="264.4" font-size="6.7" font-weight="bold" text-anchor="middle" fill="#222" >20</text>
<text x="443" y="275.8" font-size="8.4" font-weight="bold" text-anchor="middle" fill="#222" >Time (s)</text>
<text x="365" y="210.75" font-size="7.9" font-weight="bold" text-anchor="middle" fill="#222" transform="rotate(-90 365 210.75)" >&#916;<tspan font-style="italic">F/F</tspan> (%)</text>
<text x="419.3" y="172.2" font-size="8.15" font-weight="bold" text-anchor="end" fill="#111" >Approach</text>
<text x="423.4" y="172.2" font-size="8.2" font-weight="bold" text-anchor="start" fill="#111" >Consumption</text>
<text x="417" y="141.7" font-size="8.3" font-weight="bold" fill="#111">PVN<tspan dy="-3.2" font-size="6.0">VGAT:GCaMP6f</tspan></text>
<line x1="386.7" y1="154.3" x2="395.8" y2="154.3" stroke="#ee3c44" stroke-width="1.3" />
<text x="400.8" y="157.3" font-size="8.3" font-weight="bold" text-anchor="start" fill="#111" >Chow</text>
<line x1="433" y1="154.3" x2="442.3" y2="154.3" stroke="#8ab8f0" stroke-width="1.3" />
<text x="447.5" y="157.3" font-size="8.3" font-weight="bold" text-anchor="start" fill="#111" >Object</text>
<rect x="575.01" y="172.8" width="8.89" height="81" fill="#d6d6d6" />
<rect x="587.1" y="172.8" width="18.48" height="81" fill="#d6d6d6" />
<line x1="542.5" y1="211" x2="671.5" y2="211" stroke="#222" stroke-width="0.9" stroke-dasharray="2.6 2.2" />
<clipPath id="cP"><rect x="542.5" y="164.2" width="131" height="89.6"/></clipPath>
<g clip-path="url(#cP)">
<polygon points="542.5,207.52 543.04,209.31 543.58,210 544.12,208.92 544.66,208.05 545.2,209.49 545.74,208.59 546.28,208.19 546.82,207.94 547.36,208.36 547.9,209.04 548.44,209.7 548.98,210.53 549.52,211.65 550.06,210.64 550.6,210.54 551.14,210.38 551.68,211.36 552.22,210.58 552.76,210.9 553.29,210.53 553.83,211.85 554.37,210.84 554.91,210.22 555.45,209.22 555.99,208.67 556.53,207.07 557.07,207.52 557.61,208.45 558.15,210.25 558.69,209.47 559.23,208.29 559.77,207.43 560.31,208.42 560.85,209.85 561.39,209.77 561.93,208.34 562.47,207.17 563.01,208.57 563.55,209.33 564.09,209.55 564.63,208.49 565.17,208.45 565.71,208.66 566.25,208.37 566.79,209.12 567.33,209.26 567.87,209.69 568.41,210.67 568.95,211.05 569.49,211.48 570.03,210.98 570.57,210.9 571.11,209.23 571.65,209.62 572.19,208.65 572.73,211.45 573.27,210.84 573.81,211.99 574.35,210.32 574.88,209.36 575.42,208.69 575.96,209.28 576.5,210 577.04,209.51 577.58,209.57 578.12,210.39 578.66,212.22 579.2,212.9 579.74,211.7 580.28,211.3 580.82,210.21 581.36,211.29 581.9,211.74 582.44,212.38 582.98,212.76 583.52,212.71 584.06,214.15 584.6,214.57 585.14,215.41 585.68,215.21 586.22,213.43 586.76,212.28 587.3,210.44 587.84,209.5 588.38,207.58 588.92,206.1 589.46,205.51 590,205.36 590.54,205.82 591.08,206.81 591.62,207.65 592.16,208.61 592.7,208.22 593.24,206.95 593.78,206.79 594.32,206.43 594.86,206.2 595.4,206.39 595.94,206.13 596.47,207.82 597.01,207.58 597.55,209.52 598.09,209.52 598.63,209.46 599.17,210.04 599.71,209.94 600.25,210.93 600.79,209.58 601.33,211.05 601.87,211.07 602.41,211.21 602.95,209.71 603.49,209.77 604.03,208.68 604.57,209.09 605.11,209.61 605.65,210.92 606.19,211.15 606.73,209.05 607.27,208.58 607.81,208.88 608.35,209.18 608.89,210.98 609.43,212.02 609.97,214.28 610.51,213.82 611.05,214.15 611.59,212.6 612.13,212.15 612.67,212.1 613.21,213.02 613.75,212.19 614.29,210.47 614.83,208.09 615.37,205.93 615.91,205.89 616.45,208.26 616.99,212.3 617.53,212.35 618.06,212.16 618.6,211.08 619.14,211.9 619.68,211.14 620.22,209.71 620.76,209.31 621.3,209.69 621.84,211 622.38,212.17 622.92,212.65 623.46,211.61 624,208.93 624.54,208.44 625.08,207.73 625.62,209.64 626.16,210.73 626.7,212.76 627.24,213.3 627.78,211.18 628.32,211.75 628.86,210.91 629.4,213.81 629.94,213.07 630.48,213.61 631.02,212.92 631.56,213.27 632.1,213.81 632.64,212.74 633.18,212.5 633.72,212.51 634.26,213.19 634.8,212.6 635.34,209.97 635.88,208.83 636.42,208.82 636.96,210.13 637.5,209.06 638.04,208.7 638.58,209.17 639.12,209.06 639.65,208.86 640.19,207.01 640.73,208.15 641.27,208.85 641.81,211.25 642.35,210.46 642.89,208.16 643.43,206.84 643.97,208.2 644.51,208.84 645.05,209.64 645.59,210.17 646.13,210.98 646.67,210.86 647.21,210.29 647.75,211.03 648.29,210.41 648.83,208.92 649.37,208.64 649.91,208.21 650.45,210.87 650.99,210.77 651.53,211.81 652.07,211.41 652.61,211.92 653.15,211.34 653.69,209.62 654.23,209.83 654.77,209.67 655.31,210.87 655.85,210.14 656.39,209.58 656.93,208.4 657.47,207.01 658.01,207.35 658.55,207.74 659.09,208.81 659.63,208.5 660.17,208.29 660.71,209.04 661.24,209.49 661.78,209.35 662.32,206.96 662.86,205.96 663.4,207 663.94,209.54 664.48,212.4 665.02,212.07 665.56,211.56 666.1,209.62 666.64,209.63 667.18,210.51 667.72,212.84 668.26,213.06 668.8,213.6 669.34,212.19 669.88,213.09 670.42,212.67 670.96,213.68 671.5,214.21 671.5,217.03 670.96,216.41 670.42,215.31 669.88,216.07 669.34,215.63 668.8,216.38 668.26,216.04 667.72,216.84 667.18,213.89 666.64,213.04 666.1,212.59 665.56,214.36 665.02,214.48 664.48,214.28 663.94,211.88 663.4,209.96 662.86,209.12 662.32,210.52 661.78,213.24 661.24,212.91 660.71,212.86 660.17,212.06 659.63,212.88 659.09,212.9 658.55,211.42 658.01,210.23 657.47,209.11 656.93,210.48 656.39,211.09 655.85,212.26 655.31,213.29 654.77,212.67 654.23,213.32 653.69,213.13 653.15,214.87 652.61,215.31 652.07,214.85 651.53,215.97 650.99,215.05 650.45,215.01 649.91,212.71 649.37,212.65 648.83,212.66 648.29,213.19 647.75,213.58 647.21,213.03 646.67,213.69 646.13,214.55 645.59,214.04 645.05,213.72 644.51,213.04 643.97,213.21 643.43,211.43 642.89,211.8 642.35,213.82 641.81,215.13 641.27,213.1 640.73,211.24 640.19,210.92 639.65,211.89 639.12,211.91 638.58,211.41 638.04,210.75 637.5,210.8 636.96,211.57 636.42,211.67 635.88,211.93 635.34,213.66 634.8,215.94 634.26,217.01 633.72,215.82 633.18,215.69 632.64,215.56 632.1,216.1 631.56,215.81 631.02,215.42 630.48,216.1 629.94,215.25 629.4,216.41 628.86,214.07 628.32,214.85 627.78,214.92 627.24,217.03 626.7,216.52 626.16,214.93 625.62,213.32 625.08,211.13 624.54,211.26 624,211.3 623.46,213.94 622.92,214.55 622.38,214.72 621.84,213.34 621.3,211.68 620.76,212.21 620.22,213.14 619.68,214.11 619.14,214.53 618.6,214.21 618.06,215.87 617.53,216.13 616.99,216.14 616.45,212.82 615.91,210.9 615.37,210.41 614.83,212.32 614.29,214.62 613.75,216.53 613.21,216.67 612.67,215.3 612.13,215.29 611.59,215.28 611.05,216.1 610.51,215.19 609.97,215.79 609.43,214.34 608.89,213.76 608.35,212.4 607.81,212.72 607.27,213.09 606.73,213.47 606.19,214.79 605.65,215.57 605.11,214.63 604.57,213.44 604.03,213.02 603.49,214.98 602.95,214.83 602.41,215.49 601.87,215.19 601.33,214.43 600.79,212.54 600.25,212.35 599.71,211.9 599.17,212.42 598.63,211.3 598.09,212.11 597.55,212.2 597.01,210.81 596.47,209.99 595.94,207.53 595.4,208.14 594.86,208.34 594.32,208.65 593.78,209.05 593.24,209.79 592.7,211.55 592.16,212.46 591.62,211.83 591.08,211.41 590.54,210.3 590,209.91 589.46,209.75 588.92,210.17 588.38,211.55 587.84,212.87 587.3,213.8 586.76,215.65 586.22,216.25 585.68,217.62 585.14,216.9 584.6,215.94 584.06,215.74 583.52,214.73 582.98,214.58 582.44,214.6 581.9,214.61 581.36,214.54 580.82,213.71 580.28,214.49 579.74,215.45 579.2,216.37 578.66,215.42 578.12,213.73 577.58,212.8 577.04,212.56 576.5,212.12 575.96,211.23 575.42,210.56 574.88,210.96 574.35,211.69 573.81,213.55 573.27,213.64 572.73,213.95 572.19,212.14 571.65,213.16 571.11,213.34 570.57,214.75 570.03,214.87 569.49,215.73 568.95,214.64 568.41,214.24 567.87,212.76 567.33,212.85 566.79,212.82 566.25,212.1 565.71,212.23 565.17,212.33 564.63,212.98 564.09,212.97 563.55,212.28 563.01,212.01 562.47,211.18 561.93,211.78 561.39,212.45 560.85,213.24 560.31,211.49 559.77,210.03 559.23,210.53 558.69,212.21 558.15,213.35 557.61,211.14 557.07,211.06 556.53,210.7 555.99,212.15 555.45,211.85 554.91,212.4 554.37,213.36 553.83,213.78 553.29,213.16 552.76,213.56 552.22,214.33 551.68,215.86 551.14,214.91 550.6,215.44 550.06,214.17 549.52,215.22 548.98,213.67 548.44,212.83 547.9,211.57 547.36,211.25 546.82,211.5 546.28,212.09 545.74,212.34 545.2,212.69 544.66,212.13 544.12,212.64 543.58,213.47 543.04,212.4 542.5,210.59" fill="#82b6f6" fill-opacity="0.6"/>
<polygon points="542.5,210.69 543.04,210.32 543.58,210.37 544.12,210.2 544.66,211.69 545.2,212.44 545.74,211.79 546.28,209.91 546.82,208.44 547.36,208.34 547.9,209.4 548.44,208.59 548.98,207.82 549.52,207.8 550.06,209.21 550.6,210.16 551.14,209.37 551.68,208.82 552.22,208.72 552.76,208.7 553.29,209.12 553.83,208.47 554.37,209.58 554.91,210.39 555.45,209.99 555.99,209.94 556.53,210.11 557.07,211.46 557.61,211.84 558.15,212.32 558.69,211.75 559.23,210.86 559.77,211.3 560.31,212.18 560.85,213.79 561.39,214.1 561.93,213.91 562.47,211.68 563.01,210.34 563.55,209.01 564.09,210.35 564.63,210.33 565.17,211.5 565.71,211.01 566.25,210.74 566.79,210.69 567.33,211.23 567.87,213.07 568.41,213.76 568.95,212.72 569.49,211.71 570.03,211.9 570.57,212.56 571.11,211 571.65,209.34 572.19,208.51 572.73,208.56 573.27,208.84 573.81,209.24 574.35,210.05 574.88,209.85 575.42,209.32 575.96,208.62 576.5,208.79 577.04,209.31 577.58,210.12 578.12,210.7 578.66,210.97 579.2,210.14 579.74,209.32 580.28,207.74 580.82,206.76 581.36,207.02 581.9,208.35 582.44,210.99 582.98,212.52 583.52,214.13 584.06,214.15 584.6,213.14 585.14,211.52 585.68,210.29 586.22,209.96 586.76,209.34 587.3,208.92 587.84,207.04 588.38,207.62 588.92,208.14 589.46,210.2 590,208.29 590.54,207.97 591.08,206.45 591.62,208.42 592.16,208.38 592.7,208.45 593.24,208.41 593.78,209.13 594.32,209.25 594.86,209.42 595.4,209.78 595.94,208.76 596.47,208.17 597.01,206.86 597.55,207.85 598.09,207.73 598.63,208.21 599.17,208.38 599.71,209.15 600.25,208.67 600.79,209.37 601.33,208.96 601.87,210.85 602.41,211.04 602.95,210.98 603.49,209.45 604.03,208.8 604.57,209.82 605.11,210.81 605.65,210.38 606.19,210.01 606.73,210.51 607.27,210.9 607.81,210.02 608.35,210.03 608.89,210.96 609.43,210.45 609.97,209.93 610.51,209.83 611.05,211.05 611.59,209.81 612.13,210.58 612.67,210.27 613.21,210.95 613.75,209.54 614.29,209.4 614.83,209.6 615.37,209.58 615.91,209.77 616.45,208.99 616.99,210.82 617.53,211.07 618.06,211.76 618.6,211.18 619.14,210.23 619.68,209.97 620.22,210.43 620.76,211.45 621.3,211.41 621.84,210.4 622.38,210.68 622.92,210.73 623.46,210.58 624,210.68 624.54,211.18 625.08,210.18 625.62,208.57 626.16,208.75 626.7,210.01 627.24,209.83 627.78,208.68 628.32,208.33 628.86,209.36 629.4,209.85 629.94,209.39 630.48,210.79 631.02,210.37 631.56,211.76 632.1,211.21 632.64,212.2 633.18,212.15 633.72,211.81 634.26,211.47 634.8,210.77 635.34,209.33 635.88,210.28 636.42,209.36 636.96,211.01 637.5,209.91 638.04,210.56 638.58,209.39 639.12,210.39 639.65,210.22 640.19,209.69 640.73,208.04 641.27,208.51 641.81,209.08 642.35,209.04 642.89,208.71 643.43,208.55 643.97,208.61 644.51,210.39 645.05,210.52 645.59,208.91 646.13,207.62 646.67,208.24 647.21,210.57 647.75,210.75 648.29,210.75 648.83,211 649.37,209.23 649.91,209.04 650.45,208.46 650.99,210.15 651.53,210.44 652.07,211.24 652.61,211.82 653.15,210.47 653.69,210.44 654.23,210.61 654.77,211.6 655.31,210 655.85,208.85 656.39,208.71 656.93,209.77 657.47,210.09 658.01,211.12 658.55,210.64 659.09,212.76 659.63,212.57 660.17,214.23 660.71,212.25 661.24,212.36 661.78,210.89 662.32,209.71 662.86,209.27 663.4,210.62 663.94,212.04 664.48,212.29 665.02,212.2 665.56,212.37 666.1,210.9 666.64,209.54 667.18,209.21 667.72,210.78 668.26,211.1 668.8,210.74 669.34,209.31 669.88,208.9 670.42,208.44 670.96,209.3 671.5,209.82 671.5,211.53 670.96,210.87 670.42,210.03 669.88,210.77 669.34,211.58 668.8,212.32 668.26,212.62 667.72,212.06 667.18,210.45 666.64,210.74 666.1,212.06 665.56,213.61 665.02,213.37 664.48,214.04 663.94,213.88 663.4,212.54 662.86,211 662.32,211.64 661.78,212.69 661.24,213.79 660.71,213.53 660.17,215.52 659.63,214.19 659.09,214.56 658.55,212.76 658.01,213.53 657.47,213.16 656.93,212.53 656.39,211.19 655.85,210.93 655.31,211.92 654.77,213.23 654.23,212.32 653.69,211.97 653.15,212.39 652.61,213.94 652.07,213.22 651.53,212.33 650.99,211.63 650.45,210.37 649.91,210.58 649.37,210.5 648.83,212.36 648.29,212.42 647.75,212.39 647.21,212.02 646.67,209.8 646.13,209.21 645.59,210.36 645.05,212.09 644.51,211.51 643.97,209.74 643.43,209.72 642.89,210.14 642.35,210.84 641.81,210.56 641.27,210.13 640.73,210.16 640.19,211.81 639.65,212.08 639.12,212.45 638.58,211.61 638.04,213.21 637.5,212.41 636.96,213.52 636.42,212.35 635.88,213 635.34,211.92 634.8,213.05 634.26,213.2 633.72,213.77 633.18,213.81 632.64,213.53 632.1,212.58 631.56,213.35 631.02,212.38 630.48,212.82 629.94,211.63 629.4,212.3 628.86,212.3 628.32,211.13 627.78,211.67 627.24,212.52 626.7,212.63 626.16,211.43 625.62,210.69 625.08,211.8 624.54,212.08 624,211.54 623.46,211.44 622.92,211.59 622.38,211.54 621.84,211.25 621.3,212.6 620.76,212.82 620.22,211.76 619.68,211.84 619.14,212.18 618.6,213.25 618.06,213.91 617.53,212.94 616.99,212.48 616.45,210.66 615.91,211.67 615.37,211.49 614.83,211.61 614.29,211.68 613.75,211.96 613.21,213.21 612.67,212.26 612.13,212.9 611.59,212.23 611.05,213.26 610.51,212.29 609.97,212.23 609.43,212.69 608.89,213.07 608.35,211.78 607.81,212.21 607.27,212.59 606.73,212.53 606.19,212.18 605.65,212.86 605.11,212.98 604.57,211.68 604.03,210.8 603.49,211.8 602.95,213.46 602.41,212.48 601.87,212.52 601.33,210.74 600.79,211.39 600.25,210.27 599.71,210.74 599.17,210.61 598.63,210.49 598.09,210.13 597.55,209.41 597.01,208.52 596.47,209.39 595.94,209.62 595.4,211.31 594.86,210.63 594.32,210.96 593.78,210.61 593.24,210.27 592.7,210.78 592.16,209.89 591.62,209.93 591.08,208.3 590.54,209.93 590,210.06 589.46,211.59 588.92,209.45 588.38,208.93 587.84,208.22 587.3,210.57 586.76,210.92 586.22,211.99 585.68,212.58 585.14,213.83 584.6,215.31 584.06,215.94 583.52,215.91 582.98,213.81 582.44,212.71 581.9,210.26 581.36,208.8 580.82,208.72 580.28,210.12 579.74,211.57 579.2,212.17 578.66,212.72 578.12,212.56 577.58,212.05 577.04,211.09 576.5,210.61 575.96,210.06 575.42,211.27 574.88,211.61 574.35,211.74 573.81,210.87 573.27,211.22 572.73,211.28 572.19,211.33 571.65,212.86 571.11,214.35 570.57,215.4 570.03,214.56 569.49,214.28 568.95,215.13 568.41,215.6 567.87,214.74 567.33,213.23 566.79,212.66 566.25,212.99 565.71,213.58 565.17,214.33 564.63,213.4 564.09,213.4 563.55,211.61 563.01,212.59 562.47,213.53 561.93,215.39 561.39,215.49 560.85,215.61 560.31,214.19 559.77,213.32 559.23,212.55 558.69,213.75 558.15,214.43 557.61,213.98 557.07,213.47 556.53,212.43 555.99,212.55 555.45,212.71 554.91,213.36 554.37,212.58 553.83,211.84 553.29,212.05 552.76,211.53 552.22,211.25 551.68,210.82 551.14,211.09 550.6,211.65 550.06,210.98 549.52,209.78 548.98,209.56 548.44,210.82 547.9,211.52 547.36,210.43 546.82,210.69 546.28,212.25 545.74,213.86 545.2,213.94 544.66,212.98 544.12,211.36 543.58,211.52 543.04,211.17 542.5,212.4" fill="#f07a84" fill-opacity="0.5"/>
<polyline points="542.5,209.05 543.04,210.86 543.58,211.73 544.12,210.78 544.66,210.09 545.2,211.09 545.74,210.46 546.28,210.14 546.82,209.72 547.36,209.8 547.9,210.31 548.44,211.27 548.98,212.1 549.52,213.44 550.06,212.41 550.6,212.99 551.14,212.65 551.68,213.61 552.22,212.46 552.76,212.23 553.29,211.84 553.83,212.82 554.37,212.1 554.91,211.31 555.45,210.54 555.99,210.41 556.53,208.88 557.07,209.29 557.61,209.8 558.15,211.8 558.69,210.84 559.23,209.41 559.77,208.73 560.31,209.95 560.85,211.55 561.39,211.11 561.93,210.06 562.47,209.17 563.01,210.29 563.55,210.81 564.09,211.26 564.63,210.73 565.17,210.39 565.71,210.44 566.25,210.23 566.79,210.97 567.33,211.05 567.87,211.22 568.41,212.46 568.95,212.85 569.49,213.6 570.03,212.92 570.57,212.82 571.11,211.29 571.65,211.39 572.19,210.39 572.73,212.7 573.27,212.24 573.81,212.77 574.35,211.01 574.88,210.16 575.42,209.62 575.96,210.25 576.5,211.06 577.04,211.04 577.58,211.19 578.12,212.06 578.66,213.82 579.2,214.63 579.74,213.58 580.28,212.89 580.82,211.96 581.36,212.92 581.9,213.17 582.44,213.49 582.98,213.67 583.52,213.72 584.06,214.95 584.6,215.26 585.14,216.15 585.68,216.42 586.22,214.84 586.76,213.97 587.3,212.12 587.84,211.19 588.38,209.56 588.92,208.14 589.46,207.63 590,207.63 590.54,208.06 591.08,209.11 591.62,209.74 592.16,210.53 592.7,209.88 593.24,208.37 593.78,207.92 594.32,207.54 594.86,207.27 595.4,207.27 595.94,206.83 596.47,208.91 597.01,209.2 597.55,210.86 598.09,210.82 598.63,210.38 599.17,211.23 599.71,210.92 600.25,211.64 600.79,211.06 601.33,212.74 601.87,213.13 602.41,213.35 602.95,212.27 603.49,212.37 604.03,210.85 604.57,211.27 605.11,212.12 605.65,213.25 606.19,212.97 606.73,211.26 607.27,210.83 607.81,210.8 608.35,210.79 608.89,212.37 609.43,213.18 609.97,215.03 610.51,214.5 611.05,215.12 611.59,213.94 612.13,213.72 612.67,213.7 613.21,214.85 613.75,214.36 614.29,212.54 614.83,210.2 615.37,208.17 615.91,208.4 616.45,210.54 616.99,214.22 617.53,214.24 618.06,214.02 618.6,212.65 619.14,213.21 619.68,212.62 620.22,211.43 620.76,210.76 621.3,210.69 621.84,212.17 622.38,213.45 622.92,213.6 623.46,212.78 624,210.12 624.54,209.85 625.08,209.43 625.62,211.48 626.16,212.83 626.7,214.64 627.24,215.17 627.78,213.05 628.32,213.3 628.86,212.49 629.4,215.11 629.94,214.16 630.48,214.86 631.02,214.17 631.56,214.54 632.1,214.96 632.64,214.15 633.18,214.1 633.72,214.17 634.26,215.1 634.8,214.27 635.34,211.82 635.88,210.38 636.42,210.24 636.96,210.85 637.5,209.93 638.04,209.72 638.58,210.29 639.12,210.48 639.65,210.37 640.19,208.96 640.73,209.7 641.27,210.98 641.81,213.19 642.35,212.14 642.89,209.98 643.43,209.14 643.97,210.7 644.51,210.94 645.05,211.68 645.59,212.11 646.13,212.76 646.67,212.28 647.21,211.66 647.75,212.3 648.29,211.8 648.83,210.79 649.37,210.65 649.91,210.46 650.45,212.94 650.99,212.91 651.53,213.89 652.07,213.13 652.61,213.62 653.15,213.1 653.69,211.37 654.23,211.57 654.77,211.17 655.31,212.08 655.85,211.2 656.39,210.34 656.93,209.44 657.47,208.06 658.01,208.79 658.55,209.58 659.09,210.85 659.63,210.69 660.17,210.17 660.71,210.95 661.24,211.2 661.78,211.29 662.32,208.74 662.86,207.54 663.4,208.48 663.94,210.71 664.48,213.34 665.02,213.28 665.56,212.96 666.1,211.1 666.64,211.34 667.18,212.2 667.72,214.84 668.26,214.55 668.8,214.99 669.34,213.91 669.88,214.58 670.42,213.99 670.96,215.04 671.5,215.62" fill="none" stroke="#78aef0" stroke-width="1.25" stroke-linejoin="round"/>
<polyline points="542.5,211.55 543.04,210.75 543.58,210.95 544.12,210.78 544.66,212.34 545.2,213.19 545.74,212.82 546.28,211.08 546.82,209.57 547.36,209.38 547.9,210.46 548.44,209.71 548.98,208.69 549.52,208.79 550.06,210.09 550.6,210.9 551.14,210.23 551.68,209.82 552.22,209.99 552.76,210.11 553.29,210.59 553.83,210.16 554.37,211.08 554.91,211.87 555.45,211.35 555.99,211.25 556.53,211.27 557.07,212.47 557.61,212.91 558.15,213.38 558.69,212.75 559.23,211.7 559.77,212.31 560.31,213.18 560.85,214.7 561.39,214.79 561.93,214.65 562.47,212.61 563.01,211.46 563.55,210.31 564.09,211.87 564.63,211.86 565.17,212.91 565.71,212.3 566.25,211.87 566.79,211.68 567.33,212.23 567.87,213.91 568.41,214.68 568.95,213.92 569.49,212.99 570.03,213.23 570.57,213.98 571.11,212.68 571.65,211.1 572.19,209.92 572.73,209.92 573.27,210.03 573.81,210.05 574.35,210.89 574.88,210.73 575.42,210.3 575.96,209.34 576.5,209.7 577.04,210.2 577.58,211.09 578.12,211.63 578.66,211.84 579.2,211.15 579.74,210.44 580.28,208.93 580.82,207.74 581.36,207.91 581.9,209.3 582.44,211.85 582.98,213.16 583.52,215.02 584.06,215.04 584.6,214.22 585.14,212.68 585.68,211.44 586.22,210.97 586.76,210.13 587.3,209.74 587.84,207.63 588.38,208.27 588.92,208.79 589.46,210.89 590,209.18 590.54,208.95 591.08,207.37 591.62,209.17 592.16,209.13 592.7,209.61 593.24,209.34 593.78,209.87 594.32,210.11 594.86,210.02 595.4,210.55 595.94,209.19 596.47,208.78 597.01,207.69 597.55,208.63 598.09,208.93 598.63,209.35 599.17,209.5 599.71,209.94 600.25,209.47 600.79,210.38 601.33,209.85 601.87,211.69 602.41,211.76 602.95,212.22 603.49,210.63 604.03,209.8 604.57,210.75 605.11,211.9 605.65,211.62 606.19,211.09 606.73,211.52 607.27,211.75 607.81,211.11 608.35,210.91 608.89,212.01 609.43,211.57 609.97,211.08 610.51,211.06 611.05,212.16 611.59,211.02 612.13,211.74 612.67,211.26 613.21,212.08 613.75,210.75 614.29,210.54 614.83,210.6 615.37,210.53 615.91,210.72 616.45,209.82 616.99,211.65 617.53,212.01 618.06,212.84 618.6,212.22 619.14,211.21 619.68,210.9 620.22,211.1 620.76,212.14 621.3,212 621.84,210.83 622.38,211.11 622.92,211.16 623.46,211.01 624,211.11 624.54,211.63 625.08,210.99 625.62,209.63 626.16,210.09 626.7,211.32 627.24,211.17 627.78,210.18 628.32,209.73 628.86,210.83 629.4,211.08 629.94,210.51 630.48,211.81 631.02,211.38 631.56,212.55 632.1,211.89 632.64,212.87 633.18,212.98 633.72,212.79 634.26,212.33 634.8,211.91 635.34,210.62 635.88,211.64 636.42,210.85 636.96,212.26 637.5,211.16 638.04,211.88 638.58,210.5 639.12,211.42 639.65,211.15 640.19,210.75 640.73,209.1 641.27,209.32 641.81,209.82 642.35,209.94 642.89,209.42 643.43,209.13 643.97,209.18 644.51,210.95 645.05,211.31 645.59,209.63 646.13,208.41 646.67,209.02 647.21,211.3 647.75,211.57 648.29,211.58 648.83,211.68 649.37,209.86 649.91,209.81 650.45,209.41 650.99,210.89 651.53,211.38 652.07,212.23 652.61,212.88 653.15,211.43 653.69,211.2 654.23,211.47 654.77,212.42 655.31,210.96 655.85,209.89 656.39,209.95 656.93,211.15 657.47,211.63 658.01,212.32 658.55,211.7 659.09,213.66 659.63,213.38 660.17,214.87 660.71,212.89 661.24,213.07 661.78,211.79 662.32,210.67 662.86,210.14 663.4,211.58 663.94,212.96 664.48,213.16 665.02,212.79 665.56,212.99 666.1,211.48 666.64,210.14 667.18,209.83 667.72,211.42 668.26,211.86 668.8,211.53 669.34,210.44 669.88,209.83 670.42,209.23 670.96,210.08 671.5,210.67" fill="none" stroke="#ee2a33" stroke-width="1.5" stroke-linejoin="round"/>
</g>
<line x1="585.5" y1="169.2" x2="585.5" y2="253.8" stroke="#1a1a1a" stroke-width="1.15" stroke-dasharray="2.4 1.8" />
<line x1="542.5" y1="167.7" x2="542.5" y2="254.4" stroke="#111" stroke-width="1.25" />
<line x1="541.9" y1="253.8" x2="672.1" y2="253.8" stroke="#111" stroke-width="1.25" />
<line x1="539.5" y1="168.2" x2="542.5" y2="168.2" stroke="#111" stroke-width="1.1" />
<text x="538.5" y="170.6" font-size="6.7" font-weight="bold" text-anchor="end" fill="#222" >2</text>
<line x1="539.5" y1="189.6" x2="542.5" y2="189.6" stroke="#111" stroke-width="1.1" />
<text x="538.5" y="192" font-size="6.7" font-weight="bold" text-anchor="end" fill="#222" >1</text>
<line x1="539.5" y1="211" x2="542.5" y2="211" stroke="#111" stroke-width="1.1" />
<text x="538.5" y="213.4" font-size="6.7" font-weight="bold" text-anchor="end" fill="#222" >0</text>
<line x1="539.5" y1="232.4" x2="542.5" y2="232.4" stroke="#111" stroke-width="1.1" />
<text x="538.5" y="234.8" font-size="6.7" font-weight="bold" text-anchor="end" fill="#222" >-1</text>
<line x1="539.5" y1="253.8" x2="542.5" y2="253.8" stroke="#111" stroke-width="1.1" />
<text x="538.5" y="256.2" font-size="6.7" font-weight="bold" text-anchor="end" fill="#222" >-2</text>
<line x1="542.5" y1="253.8" x2="542.5" y2="256.8" stroke="#111" stroke-width="1.1" />
<text x="541.7" y="264.8" font-size="6.7" font-weight="bold" text-anchor="middle" fill="#222" >-10</text>
<line x1="585.5" y1="253.8" x2="585.5" y2="256.8" stroke="#111" stroke-width="1.1" />
<text x="585.5" y="264.8" font-size="6.7" font-weight="bold" text-anchor="middle" fill="#222" >0</text>
<line x1="628.5" y1="253.8" x2="628.5" y2="256.8" stroke="#111" stroke-width="1.1" />
<text x="628.5" y="264.8" font-size="6.7" font-weight="bold" text-anchor="middle" fill="#222" >10</text>
<line x1="671.5" y1="253.8" x2="671.5" y2="256.8" stroke="#111" stroke-width="1.1" />
<text x="671.5" y="264.8" font-size="6.7" font-weight="bold" text-anchor="middle" fill="#222" >20</text>
<text x="606.8" y="276.5" font-size="8.4" font-weight="bold" text-anchor="middle" fill="#222" >Time (s)</text>
<text x="528.7" y="211.2" font-size="7.9" font-weight="bold" text-anchor="middle" fill="#222" transform="rotate(-90 528.7 211.2)" >&#916;<tspan font-style="italic">F/F</tspan> (%)</text>
<text x="583.2" y="170.7" font-size="8.15" font-weight="bold" text-anchor="end" fill="#111" >Approach</text>
<text x="587.3" y="170.7" font-size="8.2" font-weight="bold" text-anchor="start" fill="#111" >Consumption</text>
<text x="577.5" y="142.4" font-size="8.3" font-weight="bold" fill="#111">PVN<tspan dy="-3.2" font-size="6.0">VGAT:EGFP</tspan></text>
<line x1="551" y1="154.8" x2="559.6" y2="154.8" stroke="#ee3c44" stroke-width="1.3" />
<text x="565.1" y="157.8" font-size="8.3" font-weight="bold" text-anchor="start" fill="#111" >Chow</text>
<line x1="598.9" y1="154.8" x2="608" y2="154.8" stroke="#8ab8f0" stroke-width="1.3" />
<text x="613" y="157.8" font-size="8.3" font-weight="bold" text-anchor="start" fill="#111" >Object</text>
<clipPath id="hm101"><rect x="33.2" y="300.7" width="127.8" height="78.3"/></clipPath>
<g clip-path="url(#hm101)"><g filter="url(#hblur)">
<g transform="translate(33.2 300.7) scale(1.9969 8.7000)">
<path d="M-3 0h4.15M10 0h1.15M48 0h1.15M13 1h1.15M6 2h1.15M16 2h2.15M20 2h1.15M23 2h1.15M19 3h1.15M15 4h2.15M20 4h1.15M25 4h1.15M46 4h1.15M54 4h1.15M58 4h1.15M21 5h1.15M30 7h1.15M16 8h1.15M38 8h2.15" stroke="#59bbb9" stroke-width="1.04" fill="none" transform="translate(0 0.5)"/>
<path d="M1 0h1.15M55 0h1.15M10 2h1.15M4 3h1.15M-3 7h4.15M3 7h2.15" stroke="#3f70e1" stroke-width="1.04" fill="none" transform="translate(0 0.5)"/>
<path d="M2 0h1.15M19 0h1.15M20 5h1.15M6 8h1.15M53 8h1.15" stroke="#6fc79d" stroke-width="1.04" fill="none" transform="translate(0 0.5)"/>
<path d="M3 0h1.15M18 0h1.15M7 8h1.15M47 8h2.15" stroke="#8dc680" stroke-width="1.04" fill="none" transform="translate(0 0.5)"/>
<path d="M4 0h1.15M6 0h1.15M15 0h1.15M4 4h1.15M2 8h2.15M5 8h1.15" stroke="#76c796" stroke-width="1.04" fill="none" transform="translate(0 0.5)"/>
<path d="M5 0h1.15M40 0h1.15M46 0h1.15M16 3h1.15M-3 5h4.15M2 5h1.15M9 5h1.15M14 5h1.15M17 5h1.15M18 6h2.15M-3 8h5.15" stroke="#9fc373" stroke-width="1.04" fill="none" transform="translate(0 0.5)"/>
<path d="M7 0h1.15M4 2h1.15M6 4h1.15M42 4h2.15M56 4h1.15M12 5h1.15M57 8h1.15" stroke="#68c6a4" stroke-width="1.04" fill="none" transform="translate(0 0.5)"/>
<path d="M8 0h1.15M24 0h1.15M51 0h3.15M2 1h1.15M5 1h1.15M9 1h1.15M3 2h1.15M18 2h1.15M39 2h2.15M6 3h1.15M21 3h1.15M11 4h1.15M18 4h1.15M52 4h1.15M57 4h1.15M55 5h1.15M57 5h1.15M4 8h1.15M15 8h1.15M17 8h1.15M20 8h2.15M31 8h1.15M34 8h1.15" stroke="#54adc7" stroke-width="1.04" fill="none" transform="translate(0 0.5)"/>
<path d="M9 0h1.15M30 0h1.15M50 0h1.15M60 0h1.15M-3 4h4.15M12 4h2.15M49 4h2.15M62 4h1.15M6 5h1.15M33 5h1.15M38 5h1.15M42 5h2.15M46 5h1.15M49 5h1.15M51 5h2.15M58 5h1.15M60 5h1.15M63 5h4.15M1 6h1.15M26 8h1.15M29 8h2.15M33 8h1.15M45 8h1.15" stroke="#52a1cf" stroke-width="1.04" fill="none" transform="translate(0 0.5)"/>
<path d="M11 0h1.15M49 0h1.15M54 0h1.15M1 1h1.15M6 1h1.15M7 2h1.15M38 2h1.15M42 2h1.15M19 4h1.15M51 4h1.15M35 5h1.15M39 5h1.15M45 5h1.15M14 7h1.15M16 7h1.15M10 8h1.15M19 8h1.15M24 8h1.15" stroke="#53a7cb" stroke-width="1.04" fill="none" transform="translate(0 0.5)"/>
<path d="M12 0h1.15M27 0h2.15M59 0h1.15M18 1h1.15M59 1h1.15M13 2h1.15M15 2h1.15M33 3h1.15M40 4h1.15M-3 6h4.15M15 6h1.15M11 7h1.15M47 7h1.15" stroke="#427de4" stroke-width="1.04" fill="none" transform="translate(0 0.5)"/>
<path d="M13 0h1.15M-3 1h4.15M22 1h1.15M22 2h1.15M24 2h2.15M43 2h2.15M7 3h1.15M18 3h1.15M10 4h1.15M14 4h1.15M23 4h2.15M45 4h1.15M59 4h1.15M63 4h4.15M22 5h1.15M21 6h1.15M29 7h1.15" stroke="#56b8be" stroke-width="1.04" fill="none" transform="translate(0 0.5)"/>
<path d="M14 0h1.15M16 0h1.15M46 2h1.15M11 3h1.15M17 3h1.15M3 4h1.15M8 4h1.15M8 5h1.15M20 6h1.15M34 7h1.15M36 7h1.15M37 8h1.15M44 8h1.15M46 8h1.15" stroke="#5fc2b0" stroke-width="1.04" fill="none" transform="translate(0 0.5)"/>
<path d="M17 0h1.15M20 0h1.15M15 3h1.15M20 3h1.15M11 5h1.15M43 8h1.15M50 8h1.15M61 8h1.15" stroke="#7dc88e" stroke-width="1.04" fill="none" transform="translate(0 0.5)"/>
<path d="M21 0h1.15M45 0h1.15M1 5h1.15M35 7h1.15" stroke="#babe5f" stroke-width="1.04" fill="none" transform="translate(0 0.5)"/>
<path d="M22 0h1.15M12 1h1.15M3 5h1.15M10 5h1.15M19 5h1.15M59 8h1.15" stroke="#b1c066" stroke-width="1.04" fill="none" transform="translate(0 0.5)"/>
<path d="M23 0h1.15M25 0h1.15M29 0h1.15M12 3h1.15M47 4h1.15M61 4h1.15M28 5h1.15M30 5h3.15M34 5h1.15M37 5h1.15M47 5h2.15M50 5h1.15M56 5h1.15M61 5h1.15M11 8h1.15M25 8h1.15" stroke="#519dd2" stroke-width="1.04" fill="none" transform="translate(0 0.5)"/>
<path d="M26 0h1.15M58 0h1.15M45 1h1.15M56 1h1.15M58 1h1.15M9 2h1.15M11 2h1.15M14 2h1.15M4 6h1.15M11 6h1.15M21 7h1.15" stroke="#4077e2" stroke-width="1.04" fill="none" transform="translate(0 0.5)"/>
<path d="M31 0h5.15M37 0h1.15M24 1h11.15M37 1h5.15M43 1h1.15M60 1h1.15M26 2h1.15M29 2h3.15M34 2h3.15M22 3h1.15M24 3h3.15M28 3h1.15M30 3h3.15M34 3h4.15M41 3h6.15M48 3h2.15M51 3h2.15M55 3h2.15M58 3h4.15M63 3h4.15M26 4h10.15M37 4h2.15M26 6h1.15M31 6h1.15M35 6h1.15M37 6h7.15M45 6h2.15M48 6h2.15M53 6h1.15M55 6h7.15M63 6h4.15M26 7h1.15M28 7h1.15M40 7h2.15M23 8h1.15" stroke="#40389a" stroke-width="1.04" fill="none" transform="translate(0 0.5)"/>
<path d="M36 0h1.15M23 1h1.15M35 1h2.15M42 1h1.15M61 1h6.15M2 2h1.15M28 2h1.15M32 2h2.15M2 3h1.15M23 3h1.15M27 3h1.15M29 3h1.15M38 3h3.15M47 3h1.15M50 3h1.15M62 3h1.15M39 4h1.15M23 5h3.15M27 6h4.15M33 6h2.15M36 6h1.15M44 6h1.15M47 6h1.15M50 6h3.15M62 6h1.15M23 7h1.15M25 7h1.15M27 7h1.15M38 7h2.15M22 8h1.15" stroke="#3f3ca2" stroke-width="1.04" fill="none" transform="translate(0 0.5)"/>
<path d="M38 0h1.15M14 3h1.15M4 5h1.15M17 6h1.15M32 8h1.15M42 8h1.15M49 8h1.15M52 8h1.15M55 8h2.15" stroke="#a8c16c" stroke-width="1.04" fill="none" transform="translate(0 0.5)"/>
<path d="M39 0h1.15M43 0h1.15M7 4h1.15M13 5h1.15M16 5h1.15" stroke="#96c57a" stroke-width="1.04" fill="none" transform="translate(0 0.5)"/>
<path d="M41 0h2.15M60 8h1.15M63 8h4.15" stroke="#c1be5a" stroke-width="1.04" fill="none" transform="translate(0 0.5)"/>
<path d="M44 0h1.15M15 5h1.15M18 5h1.15" stroke="#84c887" stroke-width="1.04" fill="none" transform="translate(0 0.5)"/>
<path d="M47 0h1.15M10 1h1.15M15 1h1.15M21 2h1.15M37 2h1.15M41 2h1.15M1 4h1.15M9 4h1.15M17 4h1.15M44 4h1.15M48 4h1.15M53 4h1.15M7 5h1.15M26 5h1.15M9 8h1.15M12 8h1.15M14 8h1.15M35 8h1.15" stroke="#55b2c2" stroke-width="1.04" fill="none" transform="translate(0 0.5)"/>
<path d="M56 0h2.15M19 1h1.15M8 2h1.15M41 4h1.15M6 6h1.15M9 6h1.15M12 6h1.15M10 7h1.15M24 7h1.15M43 7h3.15M52 7h2.15M57 7h1.15M59 7h1.15M63 7h4.15" stroke="#4583e1" stroke-width="1.04" fill="none" transform="translate(0 0.5)"/>
<path d="M61 0h1.15M7 1h1.15M50 1h2.15M29 5h1.15M36 5h1.15M40 5h2.15M44 5h1.15M53 5h2.15M14 6h1.15M7 7h1.15M15 7h1.15M60 7h1.15M27 8h1.15" stroke="#4f99d5" stroke-width="1.04" fill="none" transform="translate(0 0.5)"/>
<path d="M62 0h1.15M16 1h2.15M52 1h3.15M55 2h1.15M59 2h2.15M27 5h1.15M62 5h1.15M2 6h2.15M13 6h1.15M18 7h1.15M20 7h1.15M62 7h1.15M18 8h1.15M28 8h1.15" stroke="#4d95d8" stroke-width="1.04" fill="none" transform="translate(0 0.5)"/>
<path d="M63 0h4.15M1 2h1.15M-3 3h5.15M3 3h1.15M22 7h1.15" stroke="#3f3faa" stroke-width="1.04" fill="none" transform="translate(0 0.5)"/>
<path d="M3 1h1.15M45 2h1.15M9 3h1.15M5 4h1.15M31 7h1.15M36 8h1.15M41 8h1.15M54 8h1.15M58 8h1.15" stroke="#61c5ab" stroke-width="1.04" fill="none" transform="translate(0 0.5)"/>
<path d="M4 1h1.15M55 1h1.15" stroke="#3d4fc4" stroke-width="1.04" fill="none" transform="translate(0 0.5)"/>
<path d="M8 1h1.15M1 7h1.15" stroke="#3d56cc" stroke-width="1.04" fill="none" transform="translate(0 0.5)"/>
<path d="M11 1h1.15M14 1h1.15M21 1h1.15M5 2h1.15M19 2h1.15M8 3h1.15M10 3h1.15M13 3h1.15M2 4h1.15M55 4h1.15M5 5h1.15M32 7h2.15M37 7h1.15M8 8h1.15M13 8h1.15M40 8h1.15M51 8h1.15" stroke="#5cbfb4" stroke-width="1.04" fill="none" transform="translate(0 0.5)"/>
<path d="M20 1h1.15M12 2h1.15M56 2h3.15M61 2h1.15M63 2h4.15M10 6h1.15M12 7h1.15M19 7h1.15M50 7h2.15M54 7h1.15M56 7h1.15M58 7h1.15M61 7h1.15" stroke="#488ade" stroke-width="1.04" fill="none" transform="translate(0 0.5)"/>
<path d="M44 1h1.15M5 3h1.15M54 3h1.15M8 6h1.15M16 6h1.15M2 7h1.15" stroke="#3d6adf" stroke-width="1.04" fill="none" transform="translate(0 0.5)"/>
<path d="M46 1h4.15M57 1h1.15" stroke="#3e47bb" stroke-width="1.04" fill="none" transform="translate(0 0.5)"/>
<path d="M-3 2h4.15M54 2h1.15M62 2h1.15M60 4h1.15M59 5h1.15M5 7h2.15M8 7h2.15M13 7h1.15M17 7h1.15M42 7h1.15M46 7h1.15M48 7h2.15M55 7h1.15" stroke="#4b91db" stroke-width="1.04" fill="none" transform="translate(0 0.5)"/>
<path d="M27 2h1.15M53 3h1.15M57 3h1.15M36 4h1.15M32 6h1.15M54 6h1.15" stroke="#403492" stroke-width="1.04" fill="none" transform="translate(0 0.5)"/>
<path d="M47 2h1.15M22 4h1.15" stroke="#cebe50" stroke-width="1.04" fill="none" transform="translate(0 0.5)"/>
<path d="M48 2h2.15M21 4h1.15" stroke="#dbbe45" stroke-width="1.04" fill="none" transform="translate(0 0.5)"/>
<path d="M50 2h1.15M53 2h1.15M22 6h1.15" stroke="#f7e326" stroke-width="1.04" fill="none" transform="translate(0 0.5)"/>
<path d="M51 2h1.15M25 6h1.15" stroke="#f7df28" stroke-width="1.04" fill="none" transform="translate(0 0.5)"/>
<path d="M52 2h1.15M23 6h1.15" stroke="#f8e823" stroke-width="1.04" fill="none" transform="translate(0 0.5)"/>
<path d="M5 6h1.15" stroke="#3c64de" stroke-width="1.04" fill="none" transform="translate(0 0.5)"/>
<path d="M7 6h1.15" stroke="#3c5dd5" stroke-width="1.04" fill="none" transform="translate(0 0.5)"/>
<path d="M24 6h1.15" stroke="#f8ec21" stroke-width="1.04" fill="none" transform="translate(0 0.5)"/>
<path d="M62 8h1.15" stroke="#c7be55" stroke-width="1.04" fill="none" transform="translate(0 0.5)"/>
</g></g></g>
<line x1="33.2" y1="300.4" x2="33.2" y2="379.6" stroke="#222" stroke-width="1.3" />
<line x1="32.9" y1="379" x2="161.5" y2="379" stroke="#222" stroke-width="1.3" />
<line x1="75.4" y1="299.2" x2="75.4" y2="378" stroke="#111" stroke-width="1.35" stroke-dasharray="5 6" />
<rect x="161.3" y="300.7" width="3.6" height="78.3" fill="url(#cbar)" stroke="#111" stroke-width="0.9"/>
<text x="165.7" y="302.9" font-size="5.8" text-anchor="start" fill="#222" >10</text>
<text x="165.3" y="381" font-size="5.8" text-anchor="start" fill="#222" >-5</text>
<text x="170.5" y="342.65" font-size="6.6" text-anchor="middle" fill="#111" transform="rotate(90 170.5 342.65)" >&#916;<tspan font-weight="bold" font-style="italic">F/F</tspan></text>
<text x="31" y="302.7" font-size="5.4" text-anchor="end" fill="#222" >9</text>
<text x="31" y="381" font-size="5.4" text-anchor="end" fill="#222" >1</text>
<text x="29.8" y="339.85" font-size="6" font-weight="bold" text-anchor="middle" fill="#111" transform="rotate(-90 29.8 339.85)" >Animal no.</text>
<text x="76" y="286" font-size="5.9" font-weight="bold" text-anchor="middle" fill="#111" >Chow</text>
<text x="70.6" y="295.3" font-size="5.9" font-weight="bold" text-anchor="end" fill="#111" >Approach</text>
<text x="80.1" y="295.3" font-size="5.9" font-weight="bold" text-anchor="start" fill="#111" >Consumption</text>
<line x1="75.4" y1="288.5" x2="75.4" y2="291.7" stroke="#000" stroke-width="1.2" />
<path d="M73.1 290.4L77.7 290.4L75.4 296.6Z" fill="#000"/>
<clipPath id="hm102"><rect x="33.3" y="416" width="126.9" height="78"/></clipPath>
<g clip-path="url(#hm102)"><g filter="url(#hblur)">
<g transform="translate(33.3 416) scale(1.9828 8.6667)">
<path d="M-3 0h4.15M8 0h1.15M20 0h1.15M22 0h2.15M30 0h2.15M57 0h1.15M33 3h1.15M6 5h1.15M16 5h1.15M21 5h1.15M41 5h1.15M43 5h1.15M46 5h2.15M54 5h1.15M60 5h1.15M62 5h5.15M21 8h1.15" stroke="#5fc2b0" stroke-width="1.04" fill="none" transform="translate(0 0.5)"/>
<path d="M1 0h1.15M19 0h1.15M33 0h2.15M36 0h1.15M39 0h1.15M41 0h1.15M43 0h1.15M46 0h2.15M2 1h1.15M23 1h1.15M32 1h2.15M60 1h1.15M62 1h1.15M12 2h1.15M16 3h1.15M34 3h2.15M5 5h1.15M4 7h1.15M7 7h1.15M13 7h2.15M47 8h1.15M55 8h1.15M57 8h1.15" stroke="#59bbb9" stroke-width="1.04" fill="none" transform="translate(0 0.5)"/>
<path d="M2 0h1.15M25 0h1.15M38 0h1.15M55 0h1.15M-3 1h4.15M3 1h1.15M17 1h1.15M22 1h1.15M30 1h1.15M34 1h1.15M36 1h1.15M38 1h1.15M51 1h1.15M54 1h1.15M59 1h1.15M4 2h3.15M17 2h2.15M21 2h1.15M12 3h1.15M14 3h1.15M36 3h1.15M5 6h2.15M9 6h1.15M18 6h1.15M21 6h1.15M9 7h1.15M11 7h2.15M18 7h4.15M24 7h1.15M27 7h4.15M37 8h1.15M40 8h2.15M49 8h1.15M51 8h1.15M53 8h2.15M58 8h1.15M61 8h1.15M63 8h4.15" stroke="#55b2c2" stroke-width="1.04" fill="none" transform="translate(0 0.5)"/>
<path d="M3 0h1.15M6 0h2.15M11 0h1.15M59 0h1.15M62 0h1.15M8 1h1.15M21 1h1.15M28 1h1.15M41 1h1.15M44 1h1.15M50 1h1.15M56 1h1.15M22 2h1.15M37 2h1.15M38 3h1.15M49 3h1.15M63 3h4.15M1 4h2.15M8 4h1.15M13 4h2.15M20 4h1.15M22 4h1.15M28 4h2.15M38 4h1.15M42 4h1.15M61 4h1.15M63 4h4.15M9 5h1.15M11 5h1.15M40 5h1.15M7 6h1.15M10 6h1.15M15 6h2.15M39 7h1.15M45 7h1.15M48 7h1.15M52 7h4.15M60 7h1.15M-3 8h4.15M3 8h2.15M14 8h1.15M44 8h1.15M48 8h1.15" stroke="#52a1cf" stroke-width="1.04" fill="none" transform="translate(0 0.5)"/>
<path d="M4 0h1.15M10 0h1.15M14 0h1.15M51 0h1.15M9 1h1.15M43 1h1.15M32 2h1.15M38 2h3.15M42 2h2.15M50 2h1.15M52 2h2.15M59 2h2.15M48 3h1.15M4 4h1.15M11 4h1.15M18 4h1.15M31 4h1.15M33 4h1.15M36 4h1.15M45 4h1.15M32 5h1.15M38 5h1.15M-3 6h4.15M11 6h2.15M14 6h1.15M32 7h2.15M37 7h2.15M40 7h1.15M47 7h1.15M49 7h1.15M58 7h2.15M61 7h1.15M1 8h1.15M9 8h1.15M11 8h2.15" stroke="#4f99d5" stroke-width="1.04" fill="none" transform="translate(0 0.5)"/>
<path d="M5 0h1.15M48 0h3.15M52 0h1.15M60 0h2.15M63 0h4.15M10 1h1.15M42 1h1.15M33 2h1.15M35 2h2.15M49 2h1.15M62 2h1.15M6 3h1.15M47 3h1.15M50 3h1.15M54 3h2.15M58 3h1.15M3 4h1.15M9 4h2.15M12 4h1.15M15 4h1.15M17 4h1.15M25 4h1.15M27 4h1.15M30 4h1.15M32 4h1.15M35 4h1.15M37 4h1.15M39 4h1.15M60 4h1.15M34 5h1.15M37 5h1.15M1 6h1.15M31 7h1.15M36 7h1.15M41 7h4.15M50 7h1.15M56 7h1.15M62 7h5.15M15 8h1.15" stroke="#519dd2" stroke-width="1.04" fill="none" transform="translate(0 0.5)"/>
<path d="M9 0h1.15M15 0h3.15M24 0h1.15M32 0h1.15M40 0h1.15M45 0h1.15M56 0h1.15M5 1h2.15M31 1h1.15M1 2h1.15M29 2h1.15M4 3h1.15M37 3h1.15M-3 5h4.15M3 5h2.15M3 7h1.15M5 7h2.15M15 7h2.15M23 8h4.15M28 8h3.15" stroke="#5cbfb4" stroke-width="1.04" fill="none" transform="translate(0 0.5)"/>
<path d="M12 0h2.15M53 0h2.15M18 1h1.15M29 1h1.15M39 1h2.15M46 1h3.15M55 1h1.15M57 1h1.15M7 2h2.15M10 2h1.15M26 2h1.15M56 2h1.15M31 3h1.15M60 3h1.15M-3 4h4.15M16 4h1.15M21 4h1.15M23 4h2.15M26 4h1.15M41 4h1.15M62 4h1.15M8 5h1.15M2 6h3.15M8 6h1.15M20 6h1.15M22 7h1.15M26 7h1.15M35 7h1.15M51 7h1.15M57 7h1.15" stroke="#53a7cb" stroke-width="1.04" fill="none" transform="translate(0 0.5)"/>
<path d="M18 0h1.15M27 0h2.15M35 0h1.15M42 0h1.15M44 0h1.15M1 1h1.15M4 1h1.15M7 1h1.15M11 1h2.15M14 1h1.15M24 1h1.15M26 1h1.15M37 1h1.15M53 1h1.15M61 1h1.15M63 1h4.15M-3 2h4.15M3 2h1.15M11 2h1.15M13 2h1.15M30 2h1.15M13 3h1.15M15 3h1.15M17 3h2.15M40 3h1.15M12 5h1.15M19 6h1.15M-3 7h6.15M8 7h1.15M17 7h1.15M25 7h1.15M22 8h1.15M31 8h2.15M36 8h1.15M38 8h1.15M42 8h1.15M46 8h1.15M50 8h1.15M60 8h1.15M62 8h1.15" stroke="#56b8be" stroke-width="1.04" fill="none" transform="translate(0 0.5)"/>
<path d="M21 0h1.15M58 0h1.15M15 1h1.15M20 2h1.15M7 5h1.15M42 5h1.15M44 5h2.15M49 5h1.15M51 5h1.15M53 5h1.15M56 5h3.15M61 5h1.15" stroke="#61c5ab" stroke-width="1.04" fill="none" transform="translate(0 0.5)"/>
<path d="M26 0h1.15M37 0h1.15M13 1h1.15M19 1h2.15M25 1h1.15M27 1h1.15M35 1h1.15M45 1h1.15M49 1h1.15M52 1h1.15M58 1h1.15M9 2h1.15M15 2h1.15M23 2h3.15M27 2h1.15M-3 3h4.15M24 3h1.15M39 3h1.15M41 3h2.15M61 3h2.15M19 4h1.15M40 4h1.15M17 6h1.15M10 7h1.15M23 7h1.15M33 8h3.15M39 8h1.15M43 8h1.15M45 8h1.15M52 8h1.15M56 8h1.15M59 8h1.15" stroke="#54adc7" stroke-width="1.04" fill="none" transform="translate(0 0.5)"/>
<path d="M29 0h1.15M1 5h2.15M48 5h1.15M50 5h1.15M52 5h1.15M55 5h1.15M59 5h1.15M27 8h1.15" stroke="#68c6a4" stroke-width="1.04" fill="none" transform="translate(0 0.5)"/>
<path d="M16 1h1.15M20 5h1.15" stroke="#6fc79d" stroke-width="1.04" fill="none" transform="translate(0 0.5)"/>
<path d="M2 2h1.15M58 2h1.15M61 2h1.15M32 3h1.15" stroke="#3f3faa" stroke-width="1.04" fill="none" transform="translate(0 0.5)"/>
<path d="M14 2h1.15M48 2h1.15M1 3h3.15M46 3h1.15M15 5h1.15M22 6h2.15M35 6h1.15" stroke="#3f70e1" stroke-width="1.04" fill="none" transform="translate(0 0.5)"/>
<path d="M16 2h1.15" stroke="#3c5dd5" stroke-width="1.04" fill="none" transform="translate(0 0.5)"/>
<path d="M19 2h1.15M44 2h1.15M20 3h1.15M52 3h1.15M57 4h1.15M27 5h1.15M26 6h2.15M33 6h1.15M36 6h2.15M40 6h2.15M43 6h1.15M45 6h1.15M47 6h3.15M52 6h2.15M56 6h2.15M61 6h2.15" stroke="#427de4" stroke-width="1.04" fill="none" transform="translate(0 0.5)"/>
<path d="M28 2h1.15M44 3h1.15M29 6h1.15M32 6h1.15" stroke="#3e43b2" stroke-width="1.04" fill="none" transform="translate(0 0.5)"/>
<path d="M31 2h1.15M34 2h1.15M41 2h1.15M51 2h1.15M54 2h1.15M57 2h1.15M63 2h4.15M22 3h1.15M29 3h2.15M56 3h2.15M59 3h1.15M6 4h2.15M34 4h1.15M43 4h1.15M46 4h1.15M52 4h1.15M56 4h1.15M59 4h1.15M22 5h1.15M35 5h2.15M39 5h1.15M13 6h1.15M34 7h1.15M46 7h1.15M2 8h1.15M10 8h1.15" stroke="#4d95d8" stroke-width="1.04" fill="none" transform="translate(0 0.5)"/>
<path d="M45 2h2.15M43 3h1.15M13 5h2.15M34 6h1.15M46 6h1.15M63 6h4.15" stroke="#4077e2" stroke-width="1.04" fill="none" transform="translate(0 0.5)"/>
<path d="M47 2h1.15M5 3h1.15M19 3h1.15M21 3h1.15M25 3h2.15M47 4h1.15M49 4h1.15M54 4h1.15M26 5h1.15M28 5h1.15M51 6h1.15M54 6h1.15M58 6h3.15M6 8h1.15M17 8h3.15" stroke="#4583e1" stroke-width="1.04" fill="none" transform="translate(0 0.5)"/>
<path d="M55 2h1.15M27 3h1.15M5 4h1.15M44 4h1.15M50 4h1.15M53 4h1.15M10 5h1.15M31 5h1.15M33 5h1.15M5 8h1.15M8 8h1.15M13 8h1.15M20 8h1.15" stroke="#4b91db" stroke-width="1.04" fill="none" transform="translate(0 0.5)"/>
<path d="M7 3h2.15" stroke="#84c887" stroke-width="1.04" fill="none" transform="translate(0 0.5)"/>
<path d="M9 3h1.15M17 5h1.15" stroke="#76c796" stroke-width="1.04" fill="none" transform="translate(0 0.5)"/>
<path d="M10 3h1.15" stroke="#96c57a" stroke-width="1.04" fill="none" transform="translate(0 0.5)"/>
<path d="M11 3h1.15M18 5h1.15" stroke="#7dc88e" stroke-width="1.04" fill="none" transform="translate(0 0.5)"/>
<path d="M23 3h1.15M28 3h1.15M48 4h1.15M51 4h1.15M55 4h1.15M19 5h1.15M23 5h3.15M29 5h2.15M42 6h1.15M44 6h1.15M55 6h1.15M7 8h1.15M16 8h1.15" stroke="#488ade" stroke-width="1.04" fill="none" transform="translate(0 0.5)"/>
<path d="M45 3h1.15M24 6h2.15M28 6h1.15M30 6h2.15" stroke="#3e47bb" stroke-width="1.04" fill="none" transform="translate(0 0.5)"/>
<path d="M51 3h1.15M53 3h1.15M38 6h2.15M50 6h1.15" stroke="#3d6adf" stroke-width="1.04" fill="none" transform="translate(0 0.5)"/>
<path d="M58 4h1.15" stroke="#3d4fc4" stroke-width="1.04" fill="none" transform="translate(0 0.5)"/>
</g></g></g>
<line x1="33.3" y1="415.7" x2="33.3" y2="494.6" stroke="#222" stroke-width="1.3" />
<line x1="33" y1="494" x2="160.7" y2="494" stroke="#222" stroke-width="1.3" />
<line x1="74.9" y1="414.5" x2="74.9" y2="493" stroke="#1d4e5c" stroke-width="1.35" stroke-dasharray="5 6" />
<rect x="161.4" y="416" width="3" height="78" fill="url(#cbar)" stroke="#111" stroke-width="0.9"/>
<text x="165.2" y="418.2" font-size="5.8" text-anchor="start" fill="#222" >10</text>
<text x="164.8" y="496" font-size="5.8" text-anchor="start" fill="#222" >-5</text>
<text x="170.5" y="457.8" font-size="6.6" text-anchor="middle" fill="#111" transform="rotate(90 170.5 457.8)" >&#916;<tspan font-weight="bold" font-style="italic">F/F</tspan></text>
<text x="31.1" y="418" font-size="5.4" text-anchor="end" fill="#222" >9</text>
<text x="31.1" y="496" font-size="5.4" text-anchor="end" fill="#222" >1</text>
<text x="29.8" y="455" font-size="6" font-weight="bold" text-anchor="middle" fill="#111" transform="rotate(-90 29.8 455)" >Animal no.</text>
<text x="32" y="500.2" font-size="5.4" text-anchor="middle" fill="#222" >-10</text>
<text x="163.5" y="500.2" font-size="5.4" text-anchor="middle" fill="#222" >20(S)</text>
<text x="75.5" y="398.6" font-size="5.9" font-weight="bold" text-anchor="middle" fill="#111" >Object</text>
<text x="70.1" y="410" font-size="5.9" font-weight="bold" text-anchor="end" fill="#111" >Approach</text>
<text x="79.6" y="410" font-size="5.9" font-weight="bold" text-anchor="start" fill="#111" >Consumption</text>
<line x1="74.9" y1="401.1" x2="74.9" y2="406.4" stroke="#000" stroke-width="1.2" />
<path d="M72.6 405.1L77.2 405.1L74.9 411.3Z" fill="#000"/>
<clipPath id="hm103"><rect x="200.5" y="298.9" width="129" height="78.7"/></clipPath>
<g clip-path="url(#hm103)"><g filter="url(#hblur)">
<g transform="translate(200.5 298.9) scale(2.0156 15.7400)">
<path d="M-3 0h8.15M6 0h2.15M9 0h4.15M15 0h6.15M22 0h5.15M30 0h6.15M37 0h7.15M48 0h5.15M54 0h3.15M58 0h3.15M62 0h5.15M-3 1h4.15M3 1h5.15M10 1h4.15M15 1h1.15M17 1h3.15M22 1h1.15M29 1h4.15M35 1h18.15M62 1h5.15M-3 2h8.15M6 2h1.15M8 2h1.15M10 2h1.15M16 2h14.15M35 2h32.15M-3 3h19.15M20 3h1.15M23 3h10.15M35 3h4.15M43 3h1.15M45 3h1.15M47 3h9.15M57 3h10.15M-3 4h5.15M6 4h25.15M32 4h14.15M48 4h3.15M53 4h3.15M57 4h1.15M59 4h8.15" stroke="#4b91db" stroke-width="1.04" fill="none" transform="translate(0 0.5)"/>
<path d="M5 0h1.15M8 0h1.15M30 2h5.15M16 3h4.15M21 3h2.15M33 3h2.15M39 3h4.15M56 3h1.15M46 4h2.15M58 4h1.15" stroke="#488ade" stroke-width="1.04" fill="none" transform="translate(0 0.5)"/>
<path d="M13 0h2.15M21 0h1.15M27 0h3.15M36 0h1.15M44 0h4.15M53 0h1.15M57 0h1.15M61 0h1.15M1 1h2.15M8 1h2.15M14 1h1.15M16 1h1.15M20 1h2.15M23 1h6.15M33 1h2.15M53 1h9.15M5 2h1.15M7 2h1.15M9 2h1.15M11 2h5.15M44 3h1.15M46 3h1.15M2 4h4.15M31 4h1.15M51 4h2.15M56 4h1.15" stroke="#4d95d8" stroke-width="1.04" fill="none" transform="translate(0 0.5)"/>
</g></g></g>
<line x1="200.5" y1="298.6" x2="200.5" y2="378.2" stroke="#222" stroke-width="1.3" />
<line x1="200.2" y1="377.6" x2="330" y2="377.6" stroke="#222" stroke-width="1.3" />
<line x1="242.4" y1="297.4" x2="242.4" y2="376.6" stroke="#101c36" stroke-width="1.35" stroke-dasharray="5 6" />
<rect x="330.2" y="298.9" width="3" height="78.7" fill="url(#cbar)" stroke="#111" stroke-width="0.9"/>
<text x="334" y="301.1" font-size="5.8" text-anchor="start" fill="#222" >3</text>
<text x="333.6" y="379.6" font-size="5.8" text-anchor="start" fill="#222" >-1</text>
<text x="339.6" y="341.05" font-size="6.6" text-anchor="middle" fill="#111" transform="rotate(90 339.6 341.05)" >&#916;<tspan font-weight="bold" font-style="italic">F/F</tspan></text>
<text x="198.3" y="300.9" font-size="5.4" text-anchor="end" fill="#222" >5</text>
<text x="198.3" y="379.6" font-size="5.4" text-anchor="end" fill="#222" >1</text>
<text x="195.7" y="338.25" font-size="6" font-weight="bold" text-anchor="middle" fill="#111" transform="rotate(-90 195.7 338.25)" >Animal no.</text>
<text x="201" y="383.8" font-size="5.4" text-anchor="middle" fill="#222" >-10</text>
<text x="242.4" y="383.8" font-size="5.4" text-anchor="middle" fill="#222" >0</text>
<text x="286" y="383.8" font-size="5.4" text-anchor="middle" fill="#222" >10</text>
<text x="329.5" y="383.8" font-size="5.4" text-anchor="middle" fill="#222" >20(S)</text>
<text x="243" y="283.4" font-size="5.9" font-weight="bold" text-anchor="middle" fill="#111" >Chow</text>
<text x="237.6" y="293.1" font-size="5.9" font-weight="bold" text-anchor="end" fill="#111" >Approach</text>
<text x="247.1" y="293.1" font-size="5.9" font-weight="bold" text-anchor="start" fill="#111" >Consumption</text>
<line x1="242.4" y1="285.9" x2="242.4" y2="289.5" stroke="#000" stroke-width="1.2" />
<path d="M240.1 288.2L244.7 288.2L242.4 294.4Z" fill="#000"/>
<clipPath id="hm104"><rect x="199.8" y="416.2" width="128.5" height="78.3"/></clipPath>
<g clip-path="url(#hm104)"><g filter="url(#hblur)">
<g transform="translate(199.8 416.2) scale(2.0078 15.6600)">
<path d="M-3 0h9.15M7 0h24.15M32 0h5.15M46 0h2.15M55 0h12.15M-3 1h6.15M5 1h4.15M10 1h3.15M18 1h9.15M28 1h6.15M37 1h5.15M45 1h1.15M49 1h4.15M54 1h1.15M56 1h4.15M-3 2h7.15M7 2h5.15M13 2h8.15M25 2h6.15M33 2h4.15M39 2h3.15M43 2h1.15M46 2h1.15M48 2h5.15M54 2h1.15M59 2h1.15M61 2h6.15M-3 3h8.15M6 3h1.15M8 3h3.15M13 3h5.15M20 3h8.15M30 3h7.15M39 3h4.15M44 3h5.15M53 3h9.15M4 4h3.15M8 4h1.15M14 4h1.15M16 4h1.15M22 4h3.15M48 4h2.15M54 4h1.15M59 4h1.15" stroke="#4b91db" stroke-width="1.04" fill="none" transform="translate(0 0.5)"/>
<path d="M6 0h1.15M31 0h1.15M37 0h9.15M50 0h5.15M9 1h1.15M13 1h5.15M34 1h3.15M42 1h3.15M46 1h3.15M53 1h1.15M55 1h1.15M60 1h7.15M4 2h3.15M12 2h1.15M21 2h4.15M31 2h2.15M37 2h2.15M44 2h2.15M47 2h1.15M55 2h4.15M60 2h1.15M37 3h2.15M43 3h1.15M49 3h4.15M-3 4h7.15M7 4h1.15M9 4h5.15M15 4h1.15M17 4h5.15M25 4h23.15M50 4h4.15M55 4h2.15M58 4h1.15M60 4h7.15" stroke="#488ade" stroke-width="1.04" fill="none" transform="translate(0 0.5)"/>
<path d="M48 0h2.15M3 1h2.15M27 1h1.15M42 2h1.15M53 2h1.15M5 3h1.15M7 3h1.15M11 3h2.15M18 3h2.15M28 3h2.15M62 3h5.15" stroke="#4d95d8" stroke-width="1.04" fill="none" transform="translate(0 0.5)"/>
<path d="M57 4h1.15" stroke="#4583e1" stroke-width="1.04" fill="none" transform="translate(0 0.5)"/>
</g></g></g>
<line x1="199.8" y1="415.9" x2="199.8" y2="495.1" stroke="#222" stroke-width="1.3" />
<line x1="199.5" y1="494.5" x2="328.8" y2="494.5" stroke="#222" stroke-width="1.3" />
<line x1="242.6" y1="414.7" x2="242.6" y2="493.5" stroke="#101c36" stroke-width="1.35" stroke-dasharray="5 6" />
<rect x="328.3" y="416.2" width="3.7" height="78.3" fill="url(#cbar)" stroke="#111" stroke-width="0.9"/>
<text x="332.8" y="418.4" font-size="5.8" text-anchor="start" fill="#222" >3</text>
<text x="332.4" y="496.5" font-size="5.8" text-anchor="start" fill="#222" >-1</text>
<text x="338.6" y="458.15" font-size="6.6" text-anchor="middle" fill="#111" transform="rotate(90 338.6 458.15)" >&#916;<tspan font-weight="bold" font-style="italic">F/F</tspan></text>
<text x="197.6" y="418.2" font-size="5.4" text-anchor="end" fill="#222" >5</text>
<text x="197.6" y="496.5" font-size="5.4" text-anchor="end" fill="#222" >1</text>
<text x="195.7" y="455.35" font-size="6" font-weight="bold" text-anchor="middle" fill="#111" transform="rotate(-90 195.7 455.35)" >Animal no.</text>
<text x="200.5" y="500.7" font-size="5.4" text-anchor="middle" fill="#222" >-10</text>
<text x="242.6" y="500.7" font-size="5.4" text-anchor="middle" fill="#222" >0</text>
<text x="285.3" y="500.7" font-size="5.4" text-anchor="middle" fill="#222" >10</text>
<text x="328.5" y="500.7" font-size="5.4" text-anchor="middle" fill="#222" >20(S)</text>
<text x="243.2" y="402.1" font-size="5.9" font-weight="bold" text-anchor="middle" fill="#111" >Object</text>
<text x="237.8" y="411.8" font-size="5.9" font-weight="bold" text-anchor="end" fill="#111" >Approach</text>
<text x="247.3" y="411.8" font-size="5.9" font-weight="bold" text-anchor="start" fill="#111" >Consumption</text>
<line x1="242.6" y1="404.6" x2="242.6" y2="408.2" stroke="#000" stroke-width="1.2" />
<path d="M240.3 406.9L244.9 406.9L242.6 413.1Z" fill="#000"/>
<clipPath id="hm105"><rect x="378.7" y="299.3" width="124.5" height="78.4"/></clipPath>
<g clip-path="url(#hm105)"><g filter="url(#hblur)">
<g transform="translate(378.7 299.3) scale(1.9453 8.7111)">
<path d="M-3 0h4.15M3 0h1.15M5 0h1.15M7 0h1.15M30 0h1.15M54 0h1.15M42 1h1.15M44 1h1.15M60 1h1.15M-3 2h4.15M2 2h2.15M7 2h1.15M11 2h2.15M19 2h1.15M38 2h1.15M11 4h2.15M17 4h1.15M19 4h1.15M52 4h1.15M45 6h1.15M48 6h1.15M24 7h2.15M35 7h1.15M48 7h1.15" stroke="#5cbfb4" stroke-width="1.04" fill="none" transform="translate(0 0.5)"/>
<path d="M1 0h1.15M33 0h1.15M38 0h1.15M42 0h1.15M51 0h1.15M53 0h1.15M43 1h1.15M46 1h3.15M50 1h1.15M55 1h1.15M58 1h1.15M15 2h1.15M20 2h1.15M22 2h1.15M32 2h1.15M40 2h1.15M62 2h1.15M1 4h1.15M6 4h1.15M21 4h2.15M51 4h1.15M63 4h4.15M14 5h1.15M19 5h2.15M42 6h1.15M44 6h1.15M46 6h1.15M49 6h1.15M54 6h2.15M8 7h3.15M12 7h1.15M19 7h1.15M21 7h1.15M23 7h1.15M27 7h1.15M33 7h1.15M47 7h1.15M51 7h2.15M36 8h1.15" stroke="#56b8be" stroke-width="1.04" fill="none" transform="translate(0 0.5)"/>
<path d="M2 0h1.15M4 0h1.15M31 0h1.15M52 0h1.15M49 1h1.15M54 1h1.15M56 1h2.15M61 1h1.15M63 1h4.15M4 2h1.15M8 2h3.15M13 2h2.15M16 2h1.15M34 2h1.15M39 2h1.15M43 3h1.15M-3 4h4.15M2 4h2.15M7 4h1.15M13 4h1.15M16 4h1.15M18 4h1.15M20 4h1.15M30 4h1.15M32 4h1.15M49 4h1.15M53 4h1.15M15 5h3.15M40 6h2.15M20 7h1.15M22 7h1.15M49 7h2.15M60 7h1.15" stroke="#59bbb9" stroke-width="1.04" fill="none" transform="translate(0 0.5)"/>
<path d="M6 0h1.15M18 2h1.15M39 3h2.15M42 3h1.15M46 3h1.15M48 3h1.15M52 3h1.15M9 4h1.15M8 6h1.15M40 7h1.15M42 7h2.15M59 7h1.15" stroke="#61c5ab" stroke-width="1.04" fill="none" transform="translate(0 0.5)"/>
<path d="M8 0h2.15M19 0h3.15M23 0h2.15M28 0h2.15M32 0h1.15M35 0h1.15M37 0h1.15M39 0h1.15M41 0h1.15M55 0h1.15M61 0h1.15M63 0h4.15M26 1h1.15M45 1h1.15M52 1h2.15M62 1h1.15M21 2h1.15M28 2h1.15M31 2h1.15M35 2h2.15M59 3h1.15M14 4h1.15M24 4h2.15M28 4h2.15M31 4h1.15M60 4h1.15M6 5h2.15M13 5h1.15M43 6h1.15M52 6h2.15M56 6h1.15M1 7h1.15M11 7h1.15M18 7h1.15M32 7h1.15M36 7h1.15M46 7h1.15M53 7h2.15M61 7h1.15M5 8h1.15M17 8h1.15M34 8h2.15" stroke="#55b2c2" stroke-width="1.04" fill="none" transform="translate(0 0.5)"/>
<path d="M10 0h2.15M25 0h2.15M34 0h1.15M40 0h1.15M44 0h1.15M50 0h1.15M57 0h1.15M21 1h1.15M23 1h1.15M25 1h1.15M51 1h1.15M59 1h1.15M29 2h1.15M33 2h1.15M60 2h2.15M63 2h4.15M14 3h1.15M16 3h1.15M58 3h1.15M4 4h2.15M33 4h3.15M11 5h2.15M57 6h1.15M3 7h1.15M37 7h3.15M45 7h1.15M55 7h1.15M1 8h1.15M10 8h1.15M26 8h1.15" stroke="#54adc7" stroke-width="1.04" fill="none" transform="translate(0 0.5)"/>
<path d="M12 0h1.15M22 0h1.15M43 0h1.15M49 0h1.15M58 0h1.15M60 0h1.15M-3 1h4.15M16 1h1.15M19 1h2.15M22 1h1.15M36 1h1.15M24 2h2.15M30 2h1.15M-3 3h4.15M6 3h1.15M11 3h1.15M17 3h4.15M23 3h1.15M61 3h1.15M23 4h1.15M36 4h1.15M39 4h1.15M41 4h2.15M4 6h1.15M21 6h1.15M31 6h1.15M35 6h1.15M-3 7h4.15M2 7h1.15M4 7h2.15M30 7h2.15M6 8h1.15M9 8h1.15M24 8h2.15M33 8h1.15M52 8h2.15" stroke="#52a1cf" stroke-width="1.04" fill="none" transform="translate(0 0.5)"/>
<path d="M13 0h1.15M18 0h1.15M27 0h1.15M36 0h1.15M45 0h4.15M56 0h1.15M59 0h1.15M62 0h1.15M13 1h2.15M24 1h1.15M23 2h1.15M37 2h1.15M5 3h1.15M13 3h1.15M15 3h1.15M22 3h1.15M63 3h4.15M40 4h1.15M43 4h1.15M5 6h1.15M58 6h1.15M13 7h2.15M16 7h1.15M28 7h2.15M56 7h1.15M62 7h5.15M-3 8h4.15M2 8h3.15M11 8h1.15M16 8h1.15M27 8h1.15M32 8h1.15M37 8h1.15M54 8h2.15" stroke="#53a7cb" stroke-width="1.04" fill="none" transform="translate(0 0.5)"/>
<path d="M14 0h2.15M15 1h1.15M18 1h1.15M27 1h1.15M26 2h1.15M10 3h1.15M12 3h1.15M21 3h1.15M57 3h1.15M62 3h1.15M37 4h2.15M2 5h1.15M10 5h1.15M33 6h1.15M63 6h4.15M15 7h1.15M17 7h1.15M44 7h1.15M28 8h1.15M31 8h1.15M38 8h2.15M42 8h1.15M51 8h1.15M62 8h1.15" stroke="#519dd2" stroke-width="1.04" fill="none" transform="translate(0 0.5)"/>
<path d="M16 0h1.15M29 1h2.15M34 1h1.15M37 1h2.15M41 1h1.15M24 3h1.15M27 5h2.15M31 5h1.15M38 5h1.15M40 5h1.15M61 5h1.15M-3 6h4.15M19 6h2.15M59 6h1.15M8 8h1.15M14 8h1.15M30 8h1.15M43 8h1.15" stroke="#4d95d8" stroke-width="1.04" fill="none" transform="translate(0 0.5)"/>
<path d="M17 0h1.15M1 1h1.15M17 1h1.15M31 1h2.15M35 1h1.15M40 1h1.15M60 3h1.15M8 5h2.15M3 6h1.15M6 6h1.15M29 6h2.15M32 6h1.15M34 6h1.15M12 8h1.15M15 8h1.15M29 8h1.15M40 8h2.15M50 8h1.15M56 8h1.15M59 8h3.15M63 8h4.15" stroke="#4f99d5" stroke-width="1.04" fill="none" transform="translate(0 0.5)"/>
<path d="M2 1h1.15M7 1h2.15M41 2h1.15M50 2h1.15M48 4h1.15M-3 5h4.15M3 5h1.15M22 5h1.15M24 5h3.15M29 5h2.15M32 5h1.15M34 5h1.15M36 5h2.15M41 5h2.15M45 5h1.15M47 5h2.15M51 5h4.15M56 5h1.15M58 5h3.15M1 6h1.15M11 6h1.15M17 6h1.15M27 6h2.15M37 6h1.15" stroke="#488ade" stroke-width="1.04" fill="none" transform="translate(0 0.5)"/>
<path d="M3 1h1.15M12 1h1.15M45 2h1.15M47 2h1.15M49 2h1.15M52 2h1.15M3 3h1.15M25 3h2.15M35 3h1.15M44 4h1.15M46 4h2.15M1 5h1.15M44 5h1.15M49 5h1.15M63 5h4.15" stroke="#427de4" stroke-width="1.04" fill="none" transform="translate(0 0.5)"/>
<path d="M4 1h1.15M6 1h1.15M9 1h1.15M11 1h1.15M44 2h1.15M48 2h1.15M51 2h1.15M55 2h1.15M57 2h2.15M8 3h2.15M37 3h1.15M54 4h1.15M56 4h1.15M23 5h1.15M35 5h1.15M39 5h1.15M43 5h1.15M46 5h1.15M50 5h1.15M55 5h1.15M57 5h1.15M62 5h1.15M2 6h1.15M13 6h1.15M15 6h1.15M18 6h1.15" stroke="#4583e1" stroke-width="1.04" fill="none" transform="translate(0 0.5)"/>
<path d="M5 1h1.15M10 1h1.15M28 1h1.15M33 1h1.15M39 1h1.15M4 5h2.15M21 5h1.15M33 5h1.15M10 6h1.15M12 6h1.15M14 6h1.15M16 6h1.15M36 6h1.15M60 6h3.15M7 8h1.15M13 8h1.15" stroke="#4b91db" stroke-width="1.04" fill="none" transform="translate(0 0.5)"/>
<path d="M1 2h1.15M6 2h1.15M45 3h1.15M54 3h1.15M15 4h1.15M7 6h1.15M9 6h1.15M18 8h2.15M22 8h1.15" stroke="#68c6a4" stroke-width="1.04" fill="none" transform="translate(0 0.5)"/>
<path d="M5 2h1.15M17 2h1.15M41 3h1.15M44 3h1.15M47 3h1.15M49 3h1.15M51 3h1.15M53 3h1.15M55 3h2.15M8 4h1.15M50 4h1.15M26 7h1.15M34 7h1.15M41 7h1.15" stroke="#5fc2b0" stroke-width="1.04" fill="none" transform="translate(0 0.5)"/>
<path d="M27 2h1.15M61 4h2.15M45 8h1.15" stroke="#7dc88e" stroke-width="1.04" fill="none" transform="translate(0 0.5)"/>
<path d="M42 2h2.15M46 2h1.15M53 2h2.15M56 2h1.15M59 2h1.15M2 3h1.15M7 3h1.15M30 3h1.15M33 3h2.15M36 3h1.15M45 4h1.15M57 4h2.15M22 6h3.15M26 6h1.15" stroke="#4077e2" stroke-width="1.04" fill="none" transform="translate(0 0.5)"/>
<path d="M1 3h1.15M28 3h1.15" stroke="#3c64de" stroke-width="1.04" fill="none" transform="translate(0 0.5)"/>
<path d="M4 3h1.15M31 3h2.15M38 3h1.15M25 6h1.15" stroke="#3f70e1" stroke-width="1.04" fill="none" transform="translate(0 0.5)"/>
<path d="M27 3h1.15M7 7h1.15" stroke="#3c5dd5" stroke-width="1.04" fill="none" transform="translate(0 0.5)"/>
<path d="M29 3h1.15M55 4h1.15M59 4h1.15" stroke="#3d6adf" stroke-width="1.04" fill="none" transform="translate(0 0.5)"/>
<path d="M50 3h1.15M10 4h1.15M57 7h1.15M20 8h1.15M23 8h1.15M46 8h1.15M48 8h1.15" stroke="#6fc79d" stroke-width="1.04" fill="none" transform="translate(0 0.5)"/>
<path d="M26 4h2.15" stroke="#e2be40" stroke-width="1.04" fill="none" transform="translate(0 0.5)"/>
<path d="M18 5h1.15M58 7h1.15M21 8h1.15M44 8h1.15M47 8h1.15M49 8h1.15" stroke="#76c796" stroke-width="1.04" fill="none" transform="translate(0 0.5)"/>
<path d="M38 6h1.15" stroke="#96c57a" stroke-width="1.04" fill="none" transform="translate(0 0.5)"/>
<path d="M39 6h1.15" stroke="#9fc373" stroke-width="1.04" fill="none" transform="translate(0 0.5)"/>
<path d="M47 6h1.15M50 6h1.15" stroke="#babe5f" stroke-width="1.04" fill="none" transform="translate(0 0.5)"/>
<path d="M51 6h1.15" stroke="#a8c16c" stroke-width="1.04" fill="none" transform="translate(0 0.5)"/>
<path d="M6 7h1.15" stroke="#3d56cc" stroke-width="1.04" fill="none" transform="translate(0 0.5)"/>
<path d="M57 8h1.15" stroke="#dbbe45" stroke-width="1.04" fill="none" transform="translate(0 0.5)"/>
<path d="M58 8h1.15" stroke="#d5be4a" stroke-width="1.04" fill="none" transform="translate(0 0.5)"/>
</g></g></g>
<line x1="378.7" y1="299" x2="378.7" y2="378.3" stroke="#222" stroke-width="1.3" />
<line x1="378.4" y1="377.7" x2="503.7" y2="377.7" stroke="#222" stroke-width="1.3" />
<line x1="419.2" y1="297.8" x2="419.2" y2="376.7" stroke="#111" stroke-width="1.35" stroke-dasharray="5 6" />
<rect x="503.2" y="299.3" width="3.7" height="78.4" fill="url(#cbar)" stroke="#111" stroke-width="0.9"/>
<text x="507.7" y="301.5" font-size="5.8" text-anchor="start" fill="#222" >10</text>
<text x="507.3" y="379.7" font-size="5.8" text-anchor="start" fill="#222" >-5</text>
<text x="511.5" y="341.3" font-size="6.6" text-anchor="middle" fill="#111" transform="rotate(90 511.5 341.3)" >&#916;<tspan font-weight="bold" font-style="italic">F/F</tspan></text>
<text x="376.5" y="301.3" font-size="5.4" text-anchor="end" fill="#222" >8</text>
<text x="376.5" y="379.7" font-size="5.4" text-anchor="end" fill="#222" >1</text>
<text x="374.4" y="338.5" font-size="6" font-weight="bold" text-anchor="middle" fill="#111" transform="rotate(-90 374.4 338.5)" >Animal no.</text>
<text x="378.5" y="383.9" font-size="5.4" text-anchor="middle" fill="#222" >-10</text>
<text x="419.6" y="383.9" font-size="5.4" text-anchor="middle" fill="#222" >0</text>
<text x="461" y="383.9" font-size="5.4" text-anchor="middle" fill="#222" >10</text>
<text x="505" y="383.9" font-size="5.4" text-anchor="middle" fill="#222" >20(S)</text>
<text x="419.8" y="284.7" font-size="5.9" font-weight="bold" text-anchor="middle" fill="#111" >Chow</text>
<text x="414.4" y="293.6" font-size="5.9" font-weight="bold" text-anchor="end" fill="#111" >Approach</text>
<text x="423.9" y="293.6" font-size="5.9" font-weight="bold" text-anchor="start" fill="#111" >Consumption</text>
<line x1="419.2" y1="287.2" x2="419.2" y2="290" stroke="#000" stroke-width="1.2" />
<path d="M416.9 288.7L421.5 288.7L419.2 294.9Z" fill="#000"/>
<clipPath id="hm106"><rect x="377.6" y="416.5" width="124.6" height="77.1"/></clipPath>
<g clip-path="url(#hm106)"><g filter="url(#hblur)">
<g transform="translate(377.6 416.5) scale(1.9469 9.6375)">
<path d="M-3 0h4.15M21 0h1.15M32 0h3.15M15 1h1.15M61 1h1.15M1 5h1.15M17 5h1.15M45 5h1.15M51 5h1.15M25 6h1.15" stroke="#427de4" stroke-width="1.04" fill="none" transform="translate(0 0.5)"/>
<path d="M1 0h1.15M20 0h1.15M7 5h1.15M10 5h1.15M12 5h1.15M14 5h2.15M20 5h1.15M22 5h1.15M50 5h1.15M52 5h1.15M14 6h1.15M61 7h1.15" stroke="#4583e1" stroke-width="1.04" fill="none" transform="translate(0 0.5)"/>
<path d="M2 0h1.15M5 0h1.15M15 0h2.15M28 0h1.15M35 0h1.15M38 0h1.15M41 0h1.15M59 0h1.15M62 0h1.15M-3 1h4.15M5 1h1.15M21 1h1.15M57 1h1.15M7 2h1.15M25 2h3.15M55 2h1.15M61 2h1.15M63 2h4.15M-3 3h4.15M4 3h2.15M32 3h1.15M38 3h2.15M51 3h1.15M53 3h3.15M57 3h1.15M2 4h1.15M5 4h3.15M9 4h3.15M18 4h2.15M21 4h1.15M29 4h6.15M48 4h1.15M50 4h1.15" stroke="#53a7cb" stroke-width="1.04" fill="none" transform="translate(0 0.5)"/>
<path d="M3 0h1.15M4 6h1.15M31 6h2.15M50 6h1.15" stroke="#76c796" stroke-width="1.04" fill="none" transform="translate(0 0.5)"/>
<path d="M4 0h1.15M13 0h1.15M25 0h1.15M48 0h2.15M57 0h1.15M3 1h1.15M7 1h2.15M12 1h1.15M16 1h5.15M26 1h1.15M31 1h1.15M33 1h3.15M37 1h1.15M47 1h1.15M53 1h2.15M-3 2h4.15M11 2h2.15M19 2h1.15M21 2h1.15M12 4h1.15M22 4h1.15M24 4h1.15M26 4h1.15M37 4h1.15M55 4h1.15M55 5h1.15M59 5h1.15M15 6h1.15M19 6h1.15M3 7h1.15M5 7h3.15M10 7h1.15" stroke="#56b8be" stroke-width="1.04" fill="none" transform="translate(0 0.5)"/>
<path d="M6 0h1.15M17 0h2.15M37 0h1.15M42 0h4.15M63 0h4.15M1 1h1.15M56 1h1.15M31 2h1.15M35 2h1.15M42 2h1.15M44 2h1.15M49 2h1.15M53 2h2.15M2 3h2.15M6 3h3.15M13 3h1.15M28 3h1.15M31 3h1.15M34 3h1.15M40 3h1.15M42 3h2.15M49 3h2.15M52 3h1.15M3 4h1.15M20 4h1.15M25 5h1.15M46 7h1.15M52 7h1.15" stroke="#52a1cf" stroke-width="1.04" fill="none" transform="translate(0 0.5)"/>
<path d="M7 0h1.15M36 0h1.15M47 0h1.15M29 2h2.15M32 2h2.15M39 2h2.15M47 2h1.15M50 2h1.15M56 2h3.15M62 2h1.15M14 3h1.15M45 3h3.15M5 5h1.15M27 5h1.15M29 5h2.15M36 5h2.15M42 5h1.15M30 7h1.15M34 7h1.15M38 7h1.15M43 7h1.15M48 7h1.15M51 7h1.15M56 7h1.15M58 7h1.15" stroke="#4f99d5" stroke-width="1.04" fill="none" transform="translate(0 0.5)"/>
<path d="M8 0h1.15M23 3h3.15M-3 5h4.15M6 5h1.15M13 5h1.15M21 5h1.15M31 5h1.15M39 5h1.15M41 5h1.15M46 5h1.15M36 7h1.15M44 7h1.15M49 7h1.15M53 7h3.15M59 7h1.15" stroke="#4b91db" stroke-width="1.04" fill="none" transform="translate(0 0.5)"/>
<path d="M9 0h3.15M26 0h2.15M53 0h1.15M58 0h1.15M2 1h1.15M13 1h1.15M24 1h2.15M27 1h1.15M29 1h2.15M36 1h1.15M43 1h1.15M45 1h1.15M55 1h1.15M59 1h1.15M63 1h4.15M4 2h1.15M10 2h1.15M15 2h2.15M18 2h1.15M22 2h1.15M28 2h1.15M60 2h1.15M16 3h4.15M56 3h1.15M63 3h4.15M13 4h4.15M27 4h1.15M36 4h1.15M38 4h1.15M40 4h1.15M45 4h1.15M52 4h1.15M54 4h1.15M56 4h3.15M62 4h5.15M56 5h1.15M62 5h5.15M16 6h2.15M2 7h1.15M8 7h2.15M28 7h1.15" stroke="#55b2c2" stroke-width="1.04" fill="none" transform="translate(0 0.5)"/>
<path d="M12 0h1.15M19 0h1.15M39 0h1.15M51 0h2.15M28 1h1.15M32 1h1.15M44 1h1.15M48 1h1.15M52 1h1.15M2 2h2.15M14 2h1.15M23 4h1.15M57 5h1.15M60 5h2.15M-3 6h4.15M18 6h1.15M21 6h2.15M41 6h1.15M53 6h2.15M61 6h1.15M-3 7h5.15M11 7h1.15M13 7h1.15M22 7h2.15" stroke="#59bbb9" stroke-width="1.04" fill="none" transform="translate(0 0.5)"/>
<path d="M14 0h1.15M2 6h1.15M5 6h1.15M8 6h4.15M30 6h1.15M51 6h1.15M16 7h1.15" stroke="#6fc79d" stroke-width="1.04" fill="none" transform="translate(0 0.5)"/>
<path d="M22 0h1.15M50 0h1.15M1 2h1.15M13 2h1.15M20 2h1.15M20 6h1.15M37 6h2.15M40 6h1.15M52 6h1.15M57 6h1.15M60 6h1.15M4 7h1.15M12 7h1.15M14 7h1.15M18 7h2.15" stroke="#5cbfb4" stroke-width="1.04" fill="none" transform="translate(0 0.5)"/>
<path d="M23 0h2.15M40 0h1.15M60 0h2.15M4 1h1.15M6 1h1.15M9 1h3.15M22 1h2.15M38 1h5.15M46 1h1.15M58 1h1.15M60 1h1.15M5 2h2.15M8 2h2.15M17 2h1.15M23 2h2.15M52 2h1.15M15 3h1.15M20 3h2.15M29 3h2.15M33 3h1.15M41 3h1.15M58 3h5.15M4 4h1.15M8 4h1.15M17 4h1.15M25 4h1.15M28 4h1.15M35 4h1.15M39 4h1.15M41 4h4.15M46 4h2.15M49 4h1.15M51 4h1.15M53 4h1.15M59 4h3.15M58 5h1.15M47 7h1.15" stroke="#54adc7" stroke-width="1.04" fill="none" transform="translate(0 0.5)"/>
<path d="M29 0h2.15M62 1h1.15M16 5h1.15M44 5h1.15M26 6h2.15M24 7h1.15" stroke="#3f70e1" stroke-width="1.04" fill="none" transform="translate(0 0.5)"/>
<path d="M31 0h1.15M14 1h1.15M47 5h3.15M54 5h1.15M25 7h1.15M60 7h1.15M63 7h4.15" stroke="#4077e2" stroke-width="1.04" fill="none" transform="translate(0 0.5)"/>
<path d="M46 0h1.15M34 2h1.15M36 2h1.15M38 2h1.15M41 2h1.15M45 2h2.15M48 2h1.15M59 2h1.15M1 3h1.15M9 3h3.15M22 3h1.15M27 3h1.15M35 3h1.15M37 3h1.15M44 3h1.15M48 3h1.15M-3 4h5.15M26 5h1.15M34 5h2.15M40 5h1.15M43 5h1.15M31 7h3.15M39 7h4.15M50 7h1.15M57 7h1.15" stroke="#519dd2" stroke-width="1.04" fill="none" transform="translate(0 0.5)"/>
<path d="M54 0h1.15M20 7h2.15" stroke="#96c57a" stroke-width="1.04" fill="none" transform="translate(0 0.5)"/>
<path d="M55 0h2.15M45 6h1.15M47 6h1.15" stroke="#8dc680" stroke-width="1.04" fill="none" transform="translate(0 0.5)"/>
<path d="M49 1h1.15M12 3h1.15M6 6h1.15M28 6h2.15M36 6h1.15M58 6h1.15M63 6h4.15M17 7h1.15" stroke="#61c5ab" stroke-width="1.04" fill="none" transform="translate(0 0.5)"/>
<path d="M50 1h2.15M23 6h1.15M39 6h1.15M42 6h2.15M48 6h1.15M55 6h2.15M59 6h1.15M15 7h1.15M29 7h1.15" stroke="#5fc2b0" stroke-width="1.04" fill="none" transform="translate(0 0.5)"/>
<path d="M37 2h1.15M43 2h1.15M51 2h1.15M26 3h1.15M36 3h1.15M28 5h1.15M32 5h2.15M38 5h1.15M13 6h1.15M35 7h1.15M37 7h1.15" stroke="#4d95d8" stroke-width="1.04" fill="none" transform="translate(0 0.5)"/>
<path d="M2 5h3.15M8 5h2.15M11 5h1.15M18 5h2.15M23 5h2.15M53 5h1.15M62 7h1.15" stroke="#488ade" stroke-width="1.04" fill="none" transform="translate(0 0.5)"/>
<path d="M1 6h1.15M44 6h1.15M46 6h1.15" stroke="#7dc88e" stroke-width="1.04" fill="none" transform="translate(0 0.5)"/>
<path d="M3 6h1.15" stroke="#84c887" stroke-width="1.04" fill="none" transform="translate(0 0.5)"/>
<path d="M7 6h1.15M12 6h1.15M49 6h1.15M62 6h1.15" stroke="#68c6a4" stroke-width="1.04" fill="none" transform="translate(0 0.5)"/>
<path d="M24 6h1.15M26 7h1.15" stroke="#3d6adf" stroke-width="1.04" fill="none" transform="translate(0 0.5)"/>
<path d="M33 6h1.15M35 6h1.15" stroke="#3d4fc4" stroke-width="1.04" fill="none" transform="translate(0 0.5)"/>
<path d="M34 6h1.15" stroke="#3d56cc" stroke-width="1.04" fill="none" transform="translate(0 0.5)"/>
<path d="M27 7h1.15M45 7h1.15" stroke="#3c64de" stroke-width="1.04" fill="none" transform="translate(0 0.5)"/>
</g></g></g>
<line x1="377.6" y1="416.2" x2="377.6" y2="494.2" stroke="#222" stroke-width="1.3" />
<line x1="377.3" y1="493.6" x2="502.7" y2="493.6" stroke="#222" stroke-width="1.3" />
<line x1="419.3" y1="415" x2="419.3" y2="492.6" stroke="#111" stroke-width="1.35" stroke-dasharray="5 6" />
<rect x="502.2" y="416.5" width="3.8" height="77.1" fill="url(#cbar)" stroke="#111" stroke-width="0.9"/>
<text x="506.8" y="418.7" font-size="5.8" text-anchor="start" fill="#222" >10</text>
<text x="506.4" y="495.6" font-size="5.8" text-anchor="start" fill="#222" >-5</text>
<text x="510.6" y="457.85" font-size="6.6" text-anchor="middle" fill="#111" transform="rotate(90 510.6 457.85)" >&#916;<tspan font-weight="bold" font-style="italic">F/F</tspan></text>
<text x="375.4" y="418.5" font-size="5.4" text-anchor="end" fill="#222" >8</text>
<text x="375.4" y="495.6" font-size="5.4" text-anchor="end" fill="#222" >1</text>
<text x="374.4" y="455.05" font-size="6" font-weight="bold" text-anchor="middle" fill="#111" transform="rotate(-90 374.4 455.05)" >Animal no.</text>
<text x="377.5" y="499.8" font-size="5.4" text-anchor="middle" fill="#222" >-10</text>
<text x="419" y="499.8" font-size="5.4" text-anchor="middle" fill="#222" >0</text>
<text x="460.5" y="499.8" font-size="5.4" text-anchor="middle" fill="#222" >10</text>
<text x="504" y="499.8" font-size="5.4" text-anchor="middle" fill="#222" >20(S)</text>
<text x="419.9" y="400.5" font-size="5.9" font-weight="bold" text-anchor="middle" fill="#111" >Object</text>
<text x="414.5" y="410" font-size="5.9" font-weight="bold" text-anchor="end" fill="#111" >Approach</text>
<text x="424" y="410" font-size="5.9" font-weight="bold" text-anchor="start" fill="#111" >Consumption</text>
<line x1="419.3" y1="403" x2="419.3" y2="406.4" stroke="#000" stroke-width="1.2" />
<path d="M417 405.1L421.6 405.1L419.3 411.3Z" fill="#000"/>
<clipPath id="hm107"><rect x="540.3" y="298.9" width="127.8" height="77.9"/></clipPath>
<g clip-path="url(#hm107)"><g filter="url(#hblur)">
<g transform="translate(540.3 298.9) scale(2.7783 15.5800)">
<path d="M-3 0h4.15M24 0h2.15M34 0h1.15M42 0h1.15M3 1h1.15M12 1h1.15M14 1h1.15M20 1h3.15M32 1h1.15M35 1h2.15M40 1h1.15M3 2h1.15M6 2h1.15M2 3h1.15M4 3h2.15M20 3h1.15M31 3h1.15M34 3h1.15M38 3h1.15M40 3h1.15M3 4h1.15M6 4h1.15M14 4h1.15M17 4h1.15M25 4h1.15M36 4h4.15M41 4h1.15M43 4h2.15" stroke="#4d95d8" stroke-width="1.04" fill="none" transform="translate(0 0.5)"/>
<path d="M1 0h1.15M5 0h1.15M7 0h1.15M15 0h1.15M18 0h1.15M23 0h1.15M31 0h2.15M38 0h2.15M41 0h1.15M5 1h1.15M10 1h1.15M26 1h1.15M37 1h1.15M39 1h1.15M44 1h5.15M-3 2h4.15M4 2h2.15M19 2h5.15M30 2h1.15M34 2h1.15M38 2h1.15M-3 3h5.15M6 3h1.15M8 3h1.15M12 3h1.15M17 3h1.15M19 3h1.15M22 3h1.15M26 3h2.15M15 4h1.15M24 4h1.15M28 4h1.15M33 4h1.15M35 4h1.15M40 4h1.15" stroke="#4b91db" stroke-width="1.04" fill="none" transform="translate(0 0.5)"/>
<path d="M2 0h1.15M26 0h1.15M28 0h1.15M7 1h1.15M9 1h1.15M31 1h1.15M41 1h1.15M9 2h3.15M16 2h1.15M36 2h1.15M21 3h1.15M29 3h1.15M9 4h2.15M26 4h1.15" stroke="#427de4" stroke-width="1.04" fill="none" transform="translate(0 0.5)"/>
<path d="M3 0h2.15M6 0h1.15M10 0h1.15M14 0h1.15M20 0h1.15M22 0h1.15M27 0h1.15M36 0h1.15M40 0h1.15M-3 1h4.15M13 1h1.15M27 1h1.15M33 1h1.15M38 1h1.15M42 1h2.15M1 2h2.15M7 2h1.15M15 2h1.15M17 2h1.15M31 2h2.15M40 2h1.15M45 2h4.15M7 3h1.15M10 3h1.15M23 3h3.15M30 3h1.15M39 3h1.15M7 4h1.15M11 4h1.15M27 4h1.15" stroke="#488ade" stroke-width="1.04" fill="none" transform="translate(0 0.5)"/>
<path d="M8 0h1.15M45 0h4.15M17 1h1.15M33 3h1.15M45 3h4.15M13 4h1.15M16 4h1.15M18 4h2.15M31 4h2.15" stroke="#52a1cf" stroke-width="1.04" fill="none" transform="translate(0 0.5)"/>
<path d="M9 0h1.15M16 0h2.15M33 0h1.15M35 0h1.15M43 0h1.15M1 1h2.15M11 1h1.15M15 1h1.15M18 1h2.15M23 1h1.15M37 2h1.15M39 2h1.15M3 3h1.15M11 3h1.15M15 3h1.15M35 3h1.15M41 3h3.15M4 4h2.15M12 4h1.15M21 4h2.15M34 4h1.15M45 4h4.15" stroke="#4f99d5" stroke-width="1.04" fill="none" transform="translate(0 0.5)"/>
<path d="M11 0h1.15M29 1h1.15M27 2h1.15M42 2h1.15" stroke="#3f70e1" stroke-width="1.04" fill="none" transform="translate(0 0.5)"/>
<path d="M12 0h1.15M8 1h1.15M30 1h1.15M8 2h1.15M12 2h2.15M26 2h1.15M28 2h1.15" stroke="#4077e2" stroke-width="1.04" fill="none" transform="translate(0 0.5)"/>
<path d="M13 0h1.15M19 0h1.15M21 0h1.15M29 0h2.15M37 0h1.15M4 1h1.15M6 1h1.15M24 1h2.15M28 1h1.15M14 2h1.15M18 2h1.15M24 2h2.15M29 2h1.15M33 2h1.15M35 2h1.15M41 2h1.15M43 2h2.15M9 3h1.15M18 3h1.15M28 3h1.15M8 4h1.15" stroke="#4583e1" stroke-width="1.04" fill="none" transform="translate(0 0.5)"/>
<path d="M44 0h1.15M16 1h1.15M34 1h1.15M13 3h2.15M16 3h1.15M32 3h1.15M36 3h2.15M44 3h1.15M-3 4h6.15M20 4h1.15M23 4h1.15M29 4h1.15M42 4h1.15" stroke="#519dd2" stroke-width="1.04" fill="none" transform="translate(0 0.5)"/>
<path d="M30 4h1.15" stroke="#53a7cb" stroke-width="1.04" fill="none" transform="translate(0 0.5)"/>
</g></g></g>
<line x1="540.3" y1="298.6" x2="540.3" y2="377.4" stroke="#222" stroke-width="1.3" />
<line x1="540" y1="376.8" x2="668.6" y2="376.8" stroke="#222" stroke-width="1.3" />
<line x1="583" y1="297.4" x2="583" y2="375.8" stroke="#1a2a50" stroke-width="1.35" stroke-dasharray="5 6" />
<rect x="668.1" y="298.9" width="4.4" height="77.9" fill="url(#cbar)" stroke="#111" stroke-width="0.9"/>
<text x="673.3" y="301.1" font-size="5.8" text-anchor="start" fill="#222" >3</text>
<text x="672.9" y="378.8" font-size="5.8" text-anchor="start" fill="#222" >-1</text>
<text x="678.6" y="340.65" font-size="6.6" text-anchor="middle" fill="#111" transform="rotate(90 678.6 340.65)" >&#916;<tspan font-weight="bold" font-style="italic">F/F</tspan></text>
<text x="538.1" y="300.9" font-size="5.4" text-anchor="end" fill="#222" >5</text>
<text x="538.1" y="378.8" font-size="5.4" text-anchor="end" fill="#222" >1</text>
<text x="536" y="337.85" font-size="6" font-weight="bold" text-anchor="middle" fill="#111" transform="rotate(-90 536 337.85)" >Animal no.</text>
<text x="541.5" y="383" font-size="5.4" text-anchor="middle" fill="#222" >-10</text>
<text x="583.2" y="383" font-size="5.4" text-anchor="middle" fill="#222" >0</text>
<text x="625.5" y="383" font-size="5.4" text-anchor="middle" fill="#222" >10</text>
<text x="669" y="383" font-size="5.4" text-anchor="middle" fill="#222" >20(S)</text>
<text x="583.6" y="284.7" font-size="5.9" font-weight="bold" text-anchor="middle" fill="#111" >Chow</text>
<text x="578.2" y="293.6" font-size="5.9" font-weight="bold" text-anchor="end" fill="#111" >Approach</text>
<text x="587.7" y="293.6" font-size="5.9" font-weight="bold" text-anchor="start" fill="#111" >Consumption</text>
<line x1="583" y1="287.2" x2="583" y2="290" stroke="#000" stroke-width="1.2" />
<path d="M580.7 288.7L585.3 288.7L583 294.9Z" fill="#000"/>
<clipPath id="hm108"><rect x="539.8" y="417.7" width="128.3" height="77.5"/></clipPath>
<g clip-path="url(#hm108)"><g filter="url(#hblur)">
<g transform="translate(539.8 417.7) scale(2.7891 15.5000)">
<path d="M-3 0h4.15M7 0h1.15M20 0h1.15M22 0h2.15M32 0h1.15M-3 1h4.15M17 1h1.15M20 1h1.15M23 1h1.15M25 1h1.15M29 1h1.15M39 1h4.15M44 1h1.15M1 2h1.15M4 2h1.15M11 2h1.15M19 2h1.15M21 2h1.15M26 2h1.15M36 2h1.15M39 2h1.15M45 2h4.15M1 3h1.15M8 3h1.15M14 3h1.15M25 3h2.15M30 3h1.15M33 3h1.15M37 3h2.15M6 4h1.15M15 4h1.15M17 4h1.15M19 4h1.15M30 4h1.15M33 4h1.15" stroke="#4f99d5" stroke-width="1.04" fill="none" transform="translate(0 0.5)"/>
<path d="M1 0h1.15M5 0h1.15M24 0h1.15M30 0h1.15M33 0h1.15M37 0h2.15M41 0h1.15M43 0h1.15M45 0h4.15M10 1h1.15M15 1h1.15M30 1h1.15M32 1h1.15M38 1h1.15M13 2h1.15M15 2h1.15M17 2h2.15M27 2h1.15M-3 3h4.15M19 3h3.15M32 3h1.15M45 3h4.15M21 4h2.15M25 4h1.15M35 4h3.15M41 4h1.15" stroke="#488ade" stroke-width="1.04" fill="none" transform="translate(0 0.5)"/>
<path d="M2 0h1.15M8 0h3.15M14 0h1.15M19 0h1.15M27 0h1.15M34 0h1.15M39 0h2.15M1 1h1.15M5 1h1.15M7 1h1.15M9 1h1.15M12 1h1.15M24 1h1.15M28 1h1.15M-3 2h4.15M12 2h1.15M16 2h1.15M20 2h1.15M22 2h2.15M25 2h1.15M2 3h1.15M10 3h1.15M13 3h1.15M15 3h1.15M24 3h1.15M34 3h2.15M40 3h1.15M44 3h1.15M4 4h2.15M7 4h2.15M10 4h4.15M29 4h1.15M31 4h1.15M39 4h1.15M45 4h4.15" stroke="#4d95d8" stroke-width="1.04" fill="none" transform="translate(0 0.5)"/>
<path d="M3 0h2.15M18 0h1.15M25 0h1.15M28 0h2.15M31 0h1.15M36 0h1.15M44 0h1.15M2 1h3.15M6 1h1.15M8 1h1.15M11 1h1.15M13 1h2.15M16 1h1.15M27 1h1.15M43 1h1.15M14 2h1.15M24 2h1.15M29 2h3.15M37 2h2.15M16 3h2.15M23 3h1.15M31 3h1.15M36 3h1.15M41 3h3.15M20 4h1.15M24 4h1.15M34 4h1.15M38 4h1.15M40 4h1.15" stroke="#4b91db" stroke-width="1.04" fill="none" transform="translate(0 0.5)"/>
<path d="M6 0h1.15M13 0h1.15M18 1h2.15M21 1h2.15M26 1h1.15M3 2h1.15M5 2h1.15M7 2h3.15M28 2h1.15M32 2h1.15M34 2h2.15M44 2h1.15M5 3h1.15M9 3h1.15M27 3h1.15M39 3h1.15M-3 4h6.15M9 4h1.15M26 4h3.15M32 4h1.15" stroke="#519dd2" stroke-width="1.04" fill="none" transform="translate(0 0.5)"/>
<path d="M11 0h1.15M21 0h1.15M26 0h1.15M45 1h4.15M2 2h1.15M6 2h1.15M10 2h1.15M33 2h1.15M41 2h3.15M3 3h2.15M6 3h2.15M28 3h2.15M3 4h1.15M18 4h1.15" stroke="#52a1cf" stroke-width="1.04" fill="none" transform="translate(0 0.5)"/>
<path d="M12 0h1.15M40 2h1.15" stroke="#54adc7" stroke-width="1.04" fill="none" transform="translate(0 0.5)"/>
<path d="M15 0h1.15M42 0h1.15M31 1h1.15M33 1h1.15M11 3h1.15M18 3h1.15M22 3h1.15M23 4h1.15M42 4h1.15M44 4h1.15" stroke="#4583e1" stroke-width="1.04" fill="none" transform="translate(0 0.5)"/>
<path d="M16 0h1.15M35 1h2.15" stroke="#4077e2" stroke-width="1.04" fill="none" transform="translate(0 0.5)"/>
<path d="M17 0h1.15M35 0h1.15M34 1h1.15M37 1h1.15M12 3h1.15M43 4h1.15" stroke="#427de4" stroke-width="1.04" fill="none" transform="translate(0 0.5)"/>
<path d="M14 4h1.15M16 4h1.15" stroke="#53a7cb" stroke-width="1.04" fill="none" transform="translate(0 0.5)"/>
</g></g></g>
<line x1="539.8" y1="417.4" x2="539.8" y2="495.8" stroke="#222" stroke-width="1.3" />
<line x1="539.5" y1="495.2" x2="668.6" y2="495.2" stroke="#222" stroke-width="1.3" />
<line x1="582.7" y1="416.2" x2="582.7" y2="494.2" stroke="#1a2f5c" stroke-width="1.35" stroke-dasharray="5 6" />
<rect x="668.1" y="417.7" width="4.4" height="77.5" fill="url(#cbar)" stroke="#111" stroke-width="0.9"/>
<text x="673.3" y="419.9" font-size="5.8" text-anchor="start" fill="#222" >10</text>
<text x="672.9" y="497.2" font-size="5.8" text-anchor="start" fill="#222" >-5</text>
<text x="678.6" y="459.25" font-size="6.6" text-anchor="middle" fill="#111" transform="rotate(90 678.6 459.25)" >&#916;<tspan font-weight="bold" font-style="italic">F/F</tspan></text>
<text x="537.6" y="419.7" font-size="5.4" text-anchor="end" fill="#222" >5</text>
<text x="537.6" y="497.2" font-size="5.4" text-anchor="end" fill="#222" >1</text>
<text x="536" y="456.45" font-size="6" font-weight="bold" text-anchor="middle" fill="#111" transform="rotate(-90 536 456.45)" >Animal no.</text>
<text x="541" y="501.4" font-size="5.4" text-anchor="middle" fill="#222" >-10</text>
<text x="582.7" y="501.4" font-size="5.4" text-anchor="middle" fill="#222" >0</text>
<text x="625" y="501.4" font-size="5.4" text-anchor="middle" fill="#222" >10</text>
<text x="669" y="501.4" font-size="5.4" text-anchor="middle" fill="#222" >20(S)</text>
<text x="583.3" y="402.6" font-size="5.9" font-weight="bold" text-anchor="middle" fill="#111" >Object</text>
<text x="577.9" y="411.8" font-size="5.9" font-weight="bold" text-anchor="end" fill="#111" >Approach</text>
<text x="587.4" y="411.8" font-size="5.9" font-weight="bold" text-anchor="start" fill="#111" >Consumption</text>
<line x1="582.7" y1="405.1" x2="582.7" y2="408.2" stroke="#000" stroke-width="1.2" />
<path d="M580.4 406.9L585 406.9L582.7 413.1Z" fill="#000"/>
<line x1="34.5" y1="546.63" x2="82" y2="546.63" stroke="#222" stroke-width="0.9" stroke-dasharray="2.6 2.2" />
<line x1="48" y1="529.83" x2="68.2" y2="558.77" stroke="#222" stroke-width="0.8" />
<line x1="48" y1="540.1" x2="68.2" y2="538.23" stroke="#222" stroke-width="0.8" />
<line x1="48" y1="542.9" x2="68.2" y2="559.7" stroke="#222" stroke-width="0.8" />
<line x1="48" y1="545.23" x2="68.2" y2="569.97" stroke="#222" stroke-width="0.8" />
<line x1="48" y1="547.57" x2="68.2" y2="561.57" stroke="#222" stroke-width="0.8" />
<line x1="48" y1="549.43" x2="68.2" y2="569.03" stroke="#222" stroke-width="0.8" />
<line x1="48" y1="551.3" x2="68.2" y2="572.77" stroke="#222" stroke-width="0.8" />
<line x1="48" y1="553.17" x2="68.2" y2="574.17" stroke="#222" stroke-width="0.8" />
<line x1="48" y1="554.1" x2="68.2" y2="559.23" stroke="#222" stroke-width="0.8" />
<circle cx="48" cy="529.83" r="1.2" fill="#111"/>
<circle cx="48" cy="540.1" r="1.2" fill="#111"/>
<circle cx="48" cy="542.9" r="1.2" fill="#111"/>
<circle cx="48" cy="545.23" r="1.2" fill="#111"/>
<circle cx="48" cy="547.57" r="1.2" fill="#111"/>
<circle cx="48" cy="549.43" r="1.2" fill="#111"/>
<circle cx="48" cy="551.3" r="1.2" fill="#111"/>
<circle cx="48" cy="553.17" r="1.2" fill="#111"/>
<circle cx="48" cy="554.1" r="1.2" fill="#111"/>
<circle cx="68.2" cy="558.77" r="1.2" fill="#f02828"/>
<circle cx="68.2" cy="538.23" r="1.2" fill="#f02828"/>
<circle cx="68.2" cy="559.7" r="1.2" fill="#f02828"/>
<circle cx="68.2" cy="569.97" r="1.2" fill="#f02828"/>
<circle cx="68.2" cy="561.57" r="1.2" fill="#f02828"/>
<circle cx="68.2" cy="569.03" r="1.2" fill="#f02828"/>
<circle cx="68.2" cy="572.77" r="1.2" fill="#f02828"/>
<circle cx="68.2" cy="574.17" r="1.2" fill="#f02828"/>
<circle cx="68.2" cy="559.23" r="1.2" fill="#f02828"/>
<line x1="34.5" y1="522.8" x2="34.5" y2="593.8" stroke="#3a3a3a" stroke-width="1" />
<line x1="34" y1="593.3" x2="82" y2="593.3" stroke="#3a3a3a" stroke-width="1" />
<line x1="31.9" y1="523.3" x2="34.5" y2="523.3" stroke="#3a3a3a" stroke-width="0.9" />
<text x="31.1" y="525.2" font-size="5.4" text-anchor="end" fill="#222" >5</text>
<line x1="31.9" y1="546.63" x2="34.5" y2="546.63" stroke="#3a3a3a" stroke-width="0.9" />
<text x="31.1" y="548.53" font-size="5.4" text-anchor="end" fill="#222" >0</text>
<line x1="31.9" y1="569.97" x2="34.5" y2="569.97" stroke="#3a3a3a" stroke-width="0.9" />
<text x="31.1" y="571.87" font-size="5.4" text-anchor="end" fill="#222" >-5</text>
<line x1="31.9" y1="593.3" x2="34.5" y2="593.3" stroke="#3a3a3a" stroke-width="0.9" />
<text x="31.1" y="595.2" font-size="5.4" text-anchor="end" fill="#222" >-10</text>
<line x1="48" y1="593.3" x2="48" y2="596.1" stroke="#3a3a3a" stroke-width="0.9" />
<line x1="68.2" y1="593.3" x2="68.2" y2="596.1" stroke="#3a3a3a" stroke-width="0.9" />
<text x="50.2" y="601.1" font-size="7.2" font-weight="bold" text-anchor="end" fill="#222" transform="rotate(-45 50.2 601.1)" >Pre 5s</text>
<text x="70.4" y="601.1" font-size="7.2" font-weight="bold" text-anchor="end" fill="#222" transform="rotate(-45 70.4 601.1)" >Post 5s</text>
<text x="20.2" y="558.3" font-size="6.6" text-anchor="middle" fill="#222" transform="rotate(-90 20.2 558.3)" >&#916;<tspan font-style="italic">F/F</tspan> (%)</text>
<path d="M48 524.8V521.6H68.2V524.8" fill="none" stroke="#222" stroke-width="0.9"/>
<text x="58.1" y="523.2" font-size="11" font-weight="bold" text-anchor="middle" fill="#111" >**</text>
<rect x="116" y="535.55" width="14.8" height="6.27" fill="#fff" stroke="#5ea2f2" stroke-width="1.3"/>
<circle cx="118.9" cy="533.98" r="1.25" fill="#5ea2f2"/>
<circle cx="121.4" cy="528.76" r="1.25" fill="#5ea2f2"/>
<circle cx="123.4" cy="532.24" r="1.25" fill="#5ea2f2"/>
<circle cx="125.9" cy="534.42" r="1.25" fill="#5ea2f2"/>
<circle cx="128.4" cy="532.68" r="1.25" fill="#5ea2f2"/>
<circle cx="119.4" cy="540.08" r="1.25" fill="#5ea2f2"/>
<circle cx="122.4" cy="537.47" r="1.25" fill="#5ea2f2"/>
<circle cx="124.9" cy="535.73" r="1.25" fill="#5ea2f2"/>
<circle cx="126.9" cy="540.95" r="1.25" fill="#5ea2f2"/>
<line x1="123.4" y1="535.55" x2="123.4" y2="534.25" stroke="#5ea2f2" stroke-width="0.9" />
<line x1="120.9" y1="534.25" x2="125.9" y2="534.25" stroke="#5ea2f2" stroke-width="0.9" />
<line x1="120.9" y1="536.86" x2="125.9" y2="536.86" stroke="#5ea2f2" stroke-width="0.6" stroke-opacity="0.5"/>
<rect x="138.3" y="541.83" width="14.9" height="24.39" fill="#fff" stroke="#f03030" stroke-width="1.3"/>
<circle cx="145.75" cy="554.89" r="1.25" fill="#f03030"/>
<circle cx="142.75" cy="560.12" r="1.25" fill="#f03030"/>
<circle cx="148.75" cy="560.12" r="1.25" fill="#f03030"/>
<circle cx="144.75" cy="562.74" r="1.25" fill="#f03030"/>
<circle cx="146.75" cy="564.48" r="1.25" fill="#f03030"/>
<circle cx="145.75" cy="567.09" r="1.25" fill="#f03030"/>
<circle cx="145.75" cy="571.45" r="1.25" fill="#f03030"/>
<circle cx="145.75" cy="575.8" r="1.25" fill="#f03030"/>
<circle cx="145.75" cy="582.77" r="1.25" fill="#f03030"/>
<line x1="145.75" y1="566.22" x2="145.75" y2="569.27" stroke="#f03030" stroke-width="0.9" />
<line x1="143.25" y1="569.27" x2="148.25" y2="569.27" stroke="#f03030" stroke-width="0.9" />
<line x1="143.25" y1="563.17" x2="148.25" y2="563.17" stroke="#f03030" stroke-width="0.6" stroke-opacity="0.5"/>
<line x1="108.5" y1="523.9" x2="108.5" y2="594.6" stroke="#3a3a3a" stroke-width="1" />
<line x1="108" y1="594.1" x2="161.3" y2="594.1" stroke="#3a3a3a" stroke-width="1" />
<line x1="108.5" y1="541.83" x2="161.3" y2="541.83" stroke="#555" stroke-width="1" />
<line x1="105.9" y1="524.4" x2="108.5" y2="524.4" stroke="#3a3a3a" stroke-width="0.9" />
<text x="105.1" y="526.3" font-size="5.4" text-anchor="end" fill="#222" >2</text>
<line x1="105.9" y1="541.83" x2="108.5" y2="541.83" stroke="#3a3a3a" stroke-width="0.9" />
<text x="105.1" y="543.73" font-size="5.4" text-anchor="end" fill="#222" >0</text>
<line x1="105.9" y1="559.25" x2="108.5" y2="559.25" stroke="#3a3a3a" stroke-width="0.9" />
<text x="105.1" y="561.15" font-size="5.4" text-anchor="end" fill="#222" >-2</text>
<line x1="105.9" y1="576.67" x2="108.5" y2="576.67" stroke="#3a3a3a" stroke-width="0.9" />
<text x="105.1" y="578.57" font-size="5.4" text-anchor="end" fill="#222" >-4</text>
<line x1="105.9" y1="594.1" x2="108.5" y2="594.1" stroke="#3a3a3a" stroke-width="0.9" />
<text x="105.1" y="596" font-size="5.4" text-anchor="end" fill="#222" >-6</text>
<line x1="123.4" y1="594.1" x2="123.4" y2="596.7" stroke="#3a3a3a" stroke-width="0.9" />
<line x1="145.75" y1="594.1" x2="145.75" y2="596.7" stroke="#3a3a3a" stroke-width="0.9" />
<text x="123.3" y="604.5" font-size="6.9" font-weight="bold" text-anchor="middle" fill="#222" >Object</text>
<text x="145.9" y="604.5" font-size="6.9" font-weight="bold" text-anchor="middle" fill="#222" >Chow</text>
<text x="97.8" y="559.25" font-size="6.7" font-weight="bold" text-anchor="middle" fill="#333" transform="rotate(-90 97.8 559.25)" >&#916;Peak ( <tspan font-weight="normal">&#916;</tspan><tspan font-style="italic">F/F</tspan> )</text>
<path d="M123.3 522.9V519.7H145.9V522.9" fill="none" stroke="#222" stroke-width="0.9"/>
<text x="134.6" y="521.3" font-size="11" font-weight="bold" text-anchor="middle" fill="#111" >****</text>
<line x1="202.4" y1="559.25" x2="248.7" y2="559.25" stroke="#222" stroke-width="0.9" stroke-dasharray="2.6 2.2" />
<line x1="215.6" y1="558.73" x2="235.3" y2="559.25" stroke="#222" stroke-width="0.8" />
<line x1="215.6" y1="559.77" x2="235.3" y2="559.25" stroke="#222" stroke-width="0.8" />
<line x1="215.6" y1="559.08" x2="235.3" y2="559.08" stroke="#222" stroke-width="0.8" />
<line x1="215.6" y1="559.25" x2="235.3" y2="559.42" stroke="#222" stroke-width="0.8" />
<line x1="215.6" y1="559.6" x2="235.3" y2="559.25" stroke="#222" stroke-width="0.8" />
<line x1="215.6" y1="558.9" x2="235.3" y2="559.25" stroke="#222" stroke-width="0.8" />
<circle cx="215.6" cy="558.73" r="1.2" fill="#111"/>
<circle cx="215.6" cy="559.77" r="1.2" fill="#111"/>
<circle cx="215.6" cy="559.08" r="1.2" fill="#111"/>
<circle cx="215.6" cy="559.25" r="1.2" fill="#111"/>
<circle cx="215.6" cy="559.6" r="1.2" fill="#111"/>
<circle cx="215.6" cy="558.9" r="1.2" fill="#111"/>
<circle cx="235.3" cy="559.25" r="1.2" fill="#f02828"/>
<circle cx="235.3" cy="559.25" r="1.2" fill="#f02828"/>
<circle cx="235.3" cy="559.08" r="1.2" fill="#f02828"/>
<circle cx="235.3" cy="559.42" r="1.2" fill="#f02828"/>
<circle cx="235.3" cy="559.25" r="1.2" fill="#f02828"/>
<circle cx="235.3" cy="559.25" r="1.2" fill="#f02828"/>
<path d="M215.6 557.6 L235.3 559 L215.6 560.6Z" fill="#111"/>
<line x1="202.4" y1="523.9" x2="202.4" y2="594.6" stroke="#3a3a3a" stroke-width="1" />
<line x1="201.9" y1="594.1" x2="248.7" y2="594.1" stroke="#3a3a3a" stroke-width="1" />
<line x1="199.8" y1="524.4" x2="202.4" y2="524.4" stroke="#3a3a3a" stroke-width="0.9" />
<text x="199" y="526.3" font-size="5.4" text-anchor="end" fill="#222" >2</text>
<line x1="199.8" y1="541.83" x2="202.4" y2="541.83" stroke="#3a3a3a" stroke-width="0.9" />
<text x="199" y="543.73" font-size="5.4" text-anchor="end" fill="#222" >1</text>
<line x1="199.8" y1="559.25" x2="202.4" y2="559.25" stroke="#3a3a3a" stroke-width="0.9" />
<text x="199" y="561.15" font-size="5.4" text-anchor="end" fill="#222" >0</text>
<line x1="199.8" y1="576.67" x2="202.4" y2="576.67" stroke="#3a3a3a" stroke-width="0.9" />
<text x="199" y="578.57" font-size="5.4" text-anchor="end" fill="#222" >-1</text>
<line x1="199.8" y1="594.1" x2="202.4" y2="594.1" stroke="#3a3a3a" stroke-width="0.9" />
<text x="199" y="596" font-size="5.4" text-anchor="end" fill="#222" >-2</text>
<line x1="215.6" y1="594.1" x2="215.6" y2="596.9" stroke="#3a3a3a" stroke-width="0.9" />
<line x1="235.3" y1="594.1" x2="235.3" y2="596.9" stroke="#3a3a3a" stroke-width="0.9" />
<text x="217.8" y="601.9" font-size="7.2" font-weight="bold" text-anchor="end" fill="#222" transform="rotate(-45 217.8 601.9)" >Pre 5s</text>
<text x="237.5" y="601.9" font-size="7.2" font-weight="bold" text-anchor="end" fill="#222" transform="rotate(-45 237.5 601.9)" >Post 5s</text>
<text x="191.1" y="559.25" font-size="6.6" text-anchor="middle" fill="#222" transform="rotate(-90 191.1 559.25)" >&#916;<tspan font-style="italic">F/F</tspan> (%)</text>
<rect x="282.3" y="591.13" width="13.2" height="2.37" fill="#fff" stroke="#5ea2f2" stroke-width="1.3"/>
<circle cx="284.9" cy="590.79" r="1.25" fill="#5ea2f2"/>
<circle cx="286.9" cy="589.43" r="1.25" fill="#5ea2f2"/>
<circle cx="288.9" cy="590.11" r="1.25" fill="#5ea2f2"/>
<circle cx="290.9" cy="590.45" r="1.25" fill="#5ea2f2"/>
<circle cx="292.9" cy="591.47" r="1.25" fill="#5ea2f2"/>
<line x1="288.9" y1="591.13" x2="288.9" y2="590.45" stroke="#5ea2f2" stroke-width="0.9" />
<line x1="286.4" y1="590.45" x2="291.4" y2="590.45" stroke="#5ea2f2" stroke-width="0.9" />
<line x1="286.4" y1="591.8" x2="291.4" y2="591.8" stroke="#5ea2f2" stroke-width="0.6" stroke-opacity="0.5"/>
<rect x="302" y="590.45" width="13.8" height="3.05" fill="#fff" stroke="#f03030" stroke-width="1.3"/>
<circle cx="304.9" cy="590.79" r="1.25" fill="#f03030"/>
<circle cx="306.9" cy="588.41" r="1.25" fill="#f03030"/>
<circle cx="308.9" cy="589.43" r="1.25" fill="#f03030"/>
<circle cx="310.9" cy="588.08" r="1.25" fill="#f03030"/>
<circle cx="312.9" cy="591.13" r="1.25" fill="#f03030"/>
<circle cx="307.9" cy="591.8" r="1.25" fill="#f03030"/>
<circle cx="309.9" cy="590.11" r="1.25" fill="#f03030"/>
<line x1="308.9" y1="590.45" x2="308.9" y2="589.77" stroke="#f03030" stroke-width="0.9" />
<line x1="306.4" y1="589.77" x2="311.4" y2="589.77" stroke="#f03030" stroke-width="0.9" />
<line x1="306.4" y1="591.13" x2="311.4" y2="591.13" stroke="#f03030" stroke-width="0.6" stroke-opacity="0.5"/>
<line x1="273.8" y1="525.2" x2="273.8" y2="594" stroke="#3a3a3a" stroke-width="1" />
<line x1="273.3" y1="593.5" x2="322.8" y2="593.5" stroke="#3a3a3a" stroke-width="1" />
<line x1="271.2" y1="525.7" x2="273.8" y2="525.7" stroke="#3a3a3a" stroke-width="0.9" />
<text x="270.4" y="527.6" font-size="5.4" text-anchor="end" fill="#222" >2</text>
<line x1="271.2" y1="559.6" x2="273.8" y2="559.6" stroke="#3a3a3a" stroke-width="0.9" />
<text x="270.4" y="561.5" font-size="5.4" text-anchor="end" fill="#222" >1</text>
<line x1="271.2" y1="593.5" x2="273.8" y2="593.5" stroke="#3a3a3a" stroke-width="0.9" />
<text x="270.4" y="595.4" font-size="5.4" text-anchor="end" fill="#222" >0</text>
<line x1="288.9" y1="593.5" x2="288.9" y2="596.1" stroke="#3a3a3a" stroke-width="0.9" />
<line x1="308.9" y1="593.5" x2="308.9" y2="596.1" stroke="#3a3a3a" stroke-width="0.9" />
<text x="288.5" y="604.5" font-size="6.9" font-weight="bold" text-anchor="middle" fill="#222" >Object</text>
<text x="309.6" y="604.5" font-size="6.9" font-weight="bold" text-anchor="middle" fill="#222" >Chow</text>
<text x="265.9" y="559.6" font-size="6.7" font-weight="bold" text-anchor="middle" fill="#333" transform="rotate(-90 265.9 559.6)" >&#916;Peak ( <tspan font-weight="normal">&#916;</tspan><tspan font-style="italic">F/F</tspan> )</text>
<line x1="379.9" y1="570.47" x2="427.6" y2="570.47" stroke="#222" stroke-width="0.9" stroke-dasharray="2.6 2.2" />
<line x1="394" y1="566.78" x2="414" y2="568.16" stroke="#222" stroke-width="0.8" />
<line x1="394" y1="567.7" x2="414" y2="573.23" stroke="#222" stroke-width="0.8" />
<line x1="394" y1="569.08" x2="414" y2="569.55" stroke="#222" stroke-width="0.8" />
<line x1="394" y1="570.47" x2="414" y2="568.62" stroke="#222" stroke-width="0.8" />
<line x1="394" y1="571.85" x2="414" y2="571.39" stroke="#222" stroke-width="0.8" />
<line x1="394" y1="572.77" x2="414" y2="570.01" stroke="#222" stroke-width="0.8" />
<line x1="394" y1="574.15" x2="414" y2="572.77" stroke="#222" stroke-width="0.8" />
<line x1="394" y1="568.62" x2="414" y2="571.85" stroke="#222" stroke-width="0.8" />
<circle cx="394" cy="566.78" r="1.2" fill="#111"/>
<circle cx="394" cy="567.7" r="1.2" fill="#111"/>
<circle cx="394" cy="569.08" r="1.2" fill="#111"/>
<circle cx="394" cy="570.47" r="1.2" fill="#111"/>
<circle cx="394" cy="571.85" r="1.2" fill="#111"/>
<circle cx="394" cy="572.77" r="1.2" fill="#111"/>
<circle cx="394" cy="574.15" r="1.2" fill="#111"/>
<circle cx="394" cy="568.62" r="1.2" fill="#111"/>
<circle cx="414" cy="568.16" r="1.2" fill="#f02828"/>
<circle cx="414" cy="573.23" r="1.2" fill="#f02828"/>
<circle cx="414" cy="569.55" r="1.2" fill="#f02828"/>
<circle cx="414" cy="568.62" r="1.2" fill="#f02828"/>
<circle cx="414" cy="571.39" r="1.2" fill="#f02828"/>
<circle cx="414" cy="570.01" r="1.2" fill="#f02828"/>
<circle cx="414" cy="572.77" r="1.2" fill="#f02828"/>
<circle cx="414" cy="571.85" r="1.2" fill="#f02828"/>
<rect x="393" y="564.4" width="2" height="8" fill="#111"/>
<rect x="413" y="565.3" width="2" height="6.5" fill="#f03030"/>
<line x1="379.9" y1="523.9" x2="379.9" y2="594" stroke="#3a3a3a" stroke-width="1" />
<line x1="379.4" y1="593.5" x2="427.6" y2="593.5" stroke="#3a3a3a" stroke-width="1" />
<line x1="377.3" y1="524.4" x2="379.9" y2="524.4" stroke="#3a3a3a" stroke-width="0.9" />
<text x="376.5" y="526.3" font-size="5.4" text-anchor="end" fill="#222" >10</text>
<line x1="377.3" y1="547.43" x2="379.9" y2="547.43" stroke="#3a3a3a" stroke-width="0.9" />
<text x="376.5" y="549.33" font-size="5.4" text-anchor="end" fill="#222" >5</text>
<line x1="377.3" y1="570.47" x2="379.9" y2="570.47" stroke="#3a3a3a" stroke-width="0.9" />
<text x="376.5" y="572.37" font-size="5.4" text-anchor="end" fill="#222" >0</text>
<line x1="377.3" y1="593.5" x2="379.9" y2="593.5" stroke="#3a3a3a" stroke-width="0.9" />
<text x="376.5" y="595.4" font-size="5.4" text-anchor="end" fill="#222" >-5</text>
<line x1="394" y1="593.5" x2="394" y2="596.3" stroke="#3a3a3a" stroke-width="0.9" />
<line x1="414" y1="593.5" x2="414" y2="596.3" stroke="#3a3a3a" stroke-width="0.9" />
<text x="396.2" y="601.3" font-size="7.2" font-weight="bold" text-anchor="end" fill="#222" transform="rotate(-45 396.2 601.3)" >Pre 5s</text>
<text x="416.2" y="601.3" font-size="7.2" font-weight="bold" text-anchor="end" fill="#222" transform="rotate(-45 416.2 601.3)" >Post 5s</text>
<text x="368.7" y="558.95" font-size="6.6" text-anchor="middle" fill="#222" transform="rotate(-90 368.7 558.95)" >&#916;<tspan font-style="italic">F/F</tspan> (%)</text>
<rect x="463.2" y="569.59" width="14" height="24.91" fill="#fff" stroke="#5ea2f2" stroke-width="1.3"/>
<circle cx="470.2" cy="550.21" r="1.25" fill="#5ea2f2"/>
<circle cx="467.7" cy="560.59" r="1.25" fill="#5ea2f2"/>
<circle cx="472.7" cy="561.51" r="1.25" fill="#5ea2f2"/>
<circle cx="470.2" cy="574.89" r="1.25" fill="#5ea2f2"/>
<circle cx="467.7" cy="586.43" r="1.25" fill="#5ea2f2"/>
<circle cx="472.7" cy="585.97" r="1.25" fill="#5ea2f2"/>
<circle cx="470.2" cy="569.13" r="1.25" fill="#5ea2f2"/>
<line x1="470.2" y1="569.59" x2="470.2" y2="564.97" stroke="#5ea2f2" stroke-width="0.9" />
<line x1="467.7" y1="564.97" x2="472.7" y2="564.97" stroke="#5ea2f2" stroke-width="0.9" />
<line x1="467.7" y1="574.2" x2="472.7" y2="574.2" stroke="#5ea2f2" stroke-width="0.6" stroke-opacity="0.5"/>
<rect x="484.3" y="567.28" width="14.1" height="27.22" fill="#fff" stroke="#f03030" stroke-width="1.3"/>
<circle cx="491.35" cy="534.53" r="1.25" fill="#f03030"/>
<circle cx="491.35" cy="550.21" r="1.25" fill="#f03030"/>
<circle cx="491.35" cy="561.75" r="1.25" fill="#f03030"/>
<circle cx="491.35" cy="570.28" r="1.25" fill="#f03030"/>
<circle cx="491.35" cy="579.51" r="1.25" fill="#f03030"/>
<circle cx="491.35" cy="584.12" r="1.25" fill="#f03030"/>
<circle cx="491.35" cy="588.04" r="1.25" fill="#f03030"/>
<circle cx="491.35" cy="573.74" r="1.25" fill="#f03030"/>
<line x1="491.35" y1="567.28" x2="491.35" y2="560.82" stroke="#f03030" stroke-width="0.9" />
<line x1="488.85" y1="560.82" x2="493.85" y2="560.82" stroke="#f03030" stroke-width="0.9" />
<line x1="488.85" y1="573.74" x2="493.85" y2="573.74" stroke="#f03030" stroke-width="0.6" stroke-opacity="0.5"/>
<line x1="455.1" y1="524.8" x2="455.1" y2="595" stroke="#3a3a3a" stroke-width="1" />
<line x1="454.6" y1="594.5" x2="506" y2="594.5" stroke="#3a3a3a" stroke-width="1" />
<line x1="452.5" y1="525.3" x2="455.1" y2="525.3" stroke="#3a3a3a" stroke-width="0.9" />
<text x="451.7" y="527.2" font-size="5.4" text-anchor="end" fill="#222" >3</text>
<line x1="452.5" y1="548.37" x2="455.1" y2="548.37" stroke="#3a3a3a" stroke-width="0.9" />
<text x="451.7" y="550.27" font-size="5.4" text-anchor="end" fill="#222" >2</text>
<line x1="452.5" y1="571.43" x2="455.1" y2="571.43" stroke="#3a3a3a" stroke-width="0.9" />
<text x="451.7" y="573.33" font-size="5.4" text-anchor="end" fill="#222" >1</text>
<line x1="452.5" y1="594.5" x2="455.1" y2="594.5" stroke="#3a3a3a" stroke-width="0.9" />
<text x="451.7" y="596.4" font-size="5.4" text-anchor="end" fill="#222" >0</text>
<line x1="470.2" y1="594.5" x2="470.2" y2="597.1" stroke="#3a3a3a" stroke-width="0.9" />
<line x1="491.35" y1="594.5" x2="491.35" y2="597.1" stroke="#3a3a3a" stroke-width="0.9" />
<text x="470.2" y="604.5" font-size="6.9" font-weight="bold" text-anchor="middle" fill="#222" >Object</text>
<text x="491.5" y="604.5" font-size="6.9" font-weight="bold" text-anchor="middle" fill="#222" >Chow</text>
<text x="446.2" y="559.9" font-size="6.7" font-weight="bold" text-anchor="middle" fill="#333" transform="rotate(-90 446.2 559.9)" >&#916;Peak ( <tspan font-weight="normal">&#916;</tspan><tspan font-style="italic">F/F</tspan> )</text>
<line x1="551.1" y1="560.05" x2="597.5" y2="560.05" stroke="#222" stroke-width="0.9" stroke-dasharray="2.6 2.2" />
<line x1="564.7" y1="557.44" x2="584.5" y2="560.05" stroke="#222" stroke-width="0.8" />
<line x1="564.7" y1="558.31" x2="584.5" y2="560.05" stroke="#222" stroke-width="0.8" />
<line x1="564.7" y1="559.18" x2="584.5" y2="559.88" stroke="#222" stroke-width="0.8" />
<line x1="564.7" y1="560.92" x2="584.5" y2="560.05" stroke="#222" stroke-width="0.8" />
<line x1="564.7" y1="561.79" x2="584.5" y2="560.05" stroke="#222" stroke-width="0.8" />
<line x1="564.7" y1="562.66" x2="584.5" y2="560.05" stroke="#222" stroke-width="0.8" />
<circle cx="564.7" cy="557.44" r="1.2" fill="#111"/>
<circle cx="564.7" cy="558.31" r="1.2" fill="#111"/>
<circle cx="564.7" cy="559.18" r="1.2" fill="#111"/>
<circle cx="564.7" cy="560.92" r="1.2" fill="#111"/>
<circle cx="564.7" cy="561.79" r="1.2" fill="#111"/>
<circle cx="564.7" cy="562.66" r="1.2" fill="#111"/>
<circle cx="584.5" cy="560.05" r="1.2" fill="#f02828"/>
<circle cx="584.5" cy="560.05" r="1.2" fill="#f02828"/>
<circle cx="584.5" cy="559.88" r="1.2" fill="#f02828"/>
<circle cx="584.5" cy="560.05" r="1.2" fill="#f02828"/>
<circle cx="584.5" cy="560.05" r="1.2" fill="#f02828"/>
<circle cx="584.5" cy="560.05" r="1.2" fill="#f02828"/>
<line x1="551.1" y1="524.8" x2="551.1" y2="595.3" stroke="#3a3a3a" stroke-width="1" />
<line x1="550.6" y1="594.8" x2="597.5" y2="594.8" stroke="#3a3a3a" stroke-width="1" />
<line x1="548.5" y1="525.3" x2="551.1" y2="525.3" stroke="#3a3a3a" stroke-width="0.9" />
<text x="547.7" y="527.2" font-size="5.4" text-anchor="end" fill="#222" >2</text>
<line x1="548.5" y1="542.67" x2="551.1" y2="542.67" stroke="#3a3a3a" stroke-width="0.9" />
<text x="547.7" y="544.57" font-size="5.4" text-anchor="end" fill="#222" >1</text>
<line x1="548.5" y1="560.05" x2="551.1" y2="560.05" stroke="#3a3a3a" stroke-width="0.9" />
<text x="547.7" y="561.95" font-size="5.4" text-anchor="end" fill="#222" >0</text>
<line x1="548.5" y1="577.42" x2="551.1" y2="577.42" stroke="#3a3a3a" stroke-width="0.9" />
<text x="547.7" y="579.32" font-size="5.4" text-anchor="end" fill="#222" >-1</text>
<line x1="548.5" y1="594.8" x2="551.1" y2="594.8" stroke="#3a3a3a" stroke-width="0.9" />
<text x="547.7" y="596.7" font-size="5.4" text-anchor="end" fill="#222" >-2</text>
<line x1="564.7" y1="594.8" x2="564.7" y2="597.6" stroke="#3a3a3a" stroke-width="0.9" />
<line x1="584.5" y1="594.8" x2="584.5" y2="597.6" stroke="#3a3a3a" stroke-width="0.9" />
<text x="566.9" y="602.6" font-size="7.2" font-weight="bold" text-anchor="end" fill="#222" transform="rotate(-45 566.9 602.6)" >Pre 5s</text>
<text x="586.7" y="602.6" font-size="7.2" font-weight="bold" text-anchor="end" fill="#222" transform="rotate(-45 586.7 602.6)" >Post 5s</text>
<text x="540.8" y="560.05" font-size="6.6" text-anchor="middle" fill="#222" transform="rotate(-90 540.8 560.05)" >&#916;<tspan font-style="italic">F/F</tspan> (%)</text>
<rect x="628.2" y="584.6" width="14.5" height="9.8" fill="#fff" stroke="#5ea2f2" stroke-width="1.3"/>
<circle cx="632.45" cy="581.1" r="1.25" fill="#5ea2f2"/>
<circle cx="634.45" cy="583.2" r="1.25" fill="#5ea2f2"/>
<circle cx="636.45" cy="583.9" r="1.25" fill="#5ea2f2"/>
<circle cx="638.45" cy="585.65" r="1.25" fill="#5ea2f2"/>
<circle cx="633.45" cy="586.7" r="1.25" fill="#5ea2f2"/>
<circle cx="637.45" cy="584.6" r="1.25" fill="#5ea2f2"/>
<line x1="635.45" y1="584.6" x2="635.45" y2="582.85" stroke="#5ea2f2" stroke-width="0.9" />
<line x1="632.95" y1="582.85" x2="637.95" y2="582.85" stroke="#5ea2f2" stroke-width="0.9" />
<line x1="632.95" y1="586.35" x2="637.95" y2="586.35" stroke="#5ea2f2" stroke-width="0.6" stroke-opacity="0.5"/>
<rect x="650.6" y="584.25" width="15" height="10.15" fill="#fff" stroke="#f03030" stroke-width="1.3"/>
<circle cx="658.1" cy="579" r="1.25" fill="#f03030"/>
<circle cx="656.1" cy="583.2" r="1.25" fill="#f03030"/>
<circle cx="660.1" cy="582.85" r="1.25" fill="#f03030"/>
<circle cx="657.1" cy="586.7" r="1.25" fill="#f03030"/>
<circle cx="659.1" cy="586" r="1.25" fill="#f03030"/>
<line x1="658.1" y1="584.25" x2="658.1" y2="582.5" stroke="#f03030" stroke-width="0.9" />
<line x1="655.6" y1="582.5" x2="660.6" y2="582.5" stroke="#f03030" stroke-width="0.9" />
<line x1="655.6" y1="586" x2="660.6" y2="586" stroke="#f03030" stroke-width="0.6" stroke-opacity="0.5"/>
<line x1="619.7" y1="523.9" x2="619.7" y2="594.9" stroke="#3a3a3a" stroke-width="1" />
<line x1="619.2" y1="594.4" x2="672.8" y2="594.4" stroke="#3a3a3a" stroke-width="1" />
<line x1="617.1" y1="524.4" x2="619.7" y2="524.4" stroke="#3a3a3a" stroke-width="0.9" />
<text x="616.3" y="526.3" font-size="5.4" text-anchor="end" fill="#222" >2</text>
<line x1="617.1" y1="559.4" x2="619.7" y2="559.4" stroke="#3a3a3a" stroke-width="0.9" />
<text x="616.3" y="561.3" font-size="5.4" text-anchor="end" fill="#222" >1</text>
<line x1="617.1" y1="594.4" x2="619.7" y2="594.4" stroke="#3a3a3a" stroke-width="0.9" />
<text x="616.3" y="596.3" font-size="5.4" text-anchor="end" fill="#222" >0</text>
<line x1="635.45" y1="594.4" x2="635.45" y2="597" stroke="#3a3a3a" stroke-width="0.9" />
<line x1="658.1" y1="594.4" x2="658.1" y2="597" stroke="#3a3a3a" stroke-width="0.9" />
<text x="635.5" y="604.5" font-size="6.9" font-weight="bold" text-anchor="middle" fill="#222" >Object</text>
<text x="658.1" y="604.5" font-size="6.9" font-weight="bold" text-anchor="middle" fill="#222" >Chow</text>
<text x="612.2" y="559.4" font-size="6.7" font-weight="bold" text-anchor="middle" fill="#333" transform="rotate(-90 612.2 559.4)" >&#916;Peak ( <tspan font-weight="normal">&#916;</tspan><tspan font-style="italic">F/F</tspan> )</text>
<text x="0.2" y="13.5" font-size="17" font-weight="bold" text-anchor="start" fill="#000" >A</text>
<text x="143.9" y="14.4" font-size="17" font-weight="bold" text-anchor="start" fill="#000" >B</text>
<text x="347.3" y="14.15" font-size="17" font-weight="bold" text-anchor="start" fill="#000" >C</text>
<text x="0.9" y="150.9" font-size="17" font-weight="bold" text-anchor="start" fill="#000" >D</text>
<text x="179.3" y="151.8" font-size="17" font-weight="bold" text-anchor="start" fill="#000" >H</text>
<text x="352.6" y="152.3" font-size="17" font-weight="bold" text-anchor="start" fill="#000" >L</text>
<text x="521.8" y="154.3" font-size="17" font-weight="bold" text-anchor="start" fill="#000" >P</text>
<text x="2.8" y="290.7" font-size="17" font-weight="bold" text-anchor="start" fill="#000" >E</text>
<text x="3.6" y="411.6" font-size="17" font-weight="bold" text-anchor="start" fill="#000" >F</text>
<text x="184.1" y="292.4" font-size="17" font-weight="bold" text-anchor="start" fill="#000" >I</text>
<text x="182.6" y="409" font-size="17" font-weight="bold" text-anchor="start" fill="#000" >J</text>
<text x="349.4" y="292.4" font-size="17" font-weight="bold" text-anchor="start" fill="#000" >M</text>
<text x="352" y="409" font-size="17" font-weight="bold" text-anchor="start" fill="#000" >N</text>
<text x="521.8" y="294.2" font-size="17" font-weight="bold" text-anchor="start" fill="#000" >Q</text>
<text x="523.6" y="412.9" font-size="17" font-weight="bold" text-anchor="start" fill="#000" >R</text>
<text x="0.4" y="519.4" font-size="17" font-weight="bold" text-anchor="start" fill="#000" >G</text>
<text x="181.1" y="520.2" font-size="17" font-weight="bold" text-anchor="start" fill="#000" >K</text>
<text x="351.1" y="520.8" font-size="17" font-weight="bold" text-anchor="start" fill="#000" >O</text>
<text x="523.7" y="522.1" font-size="17" font-weight="bold" text-anchor="start" fill="#000" >S</text>
</svg>
</body></html>
